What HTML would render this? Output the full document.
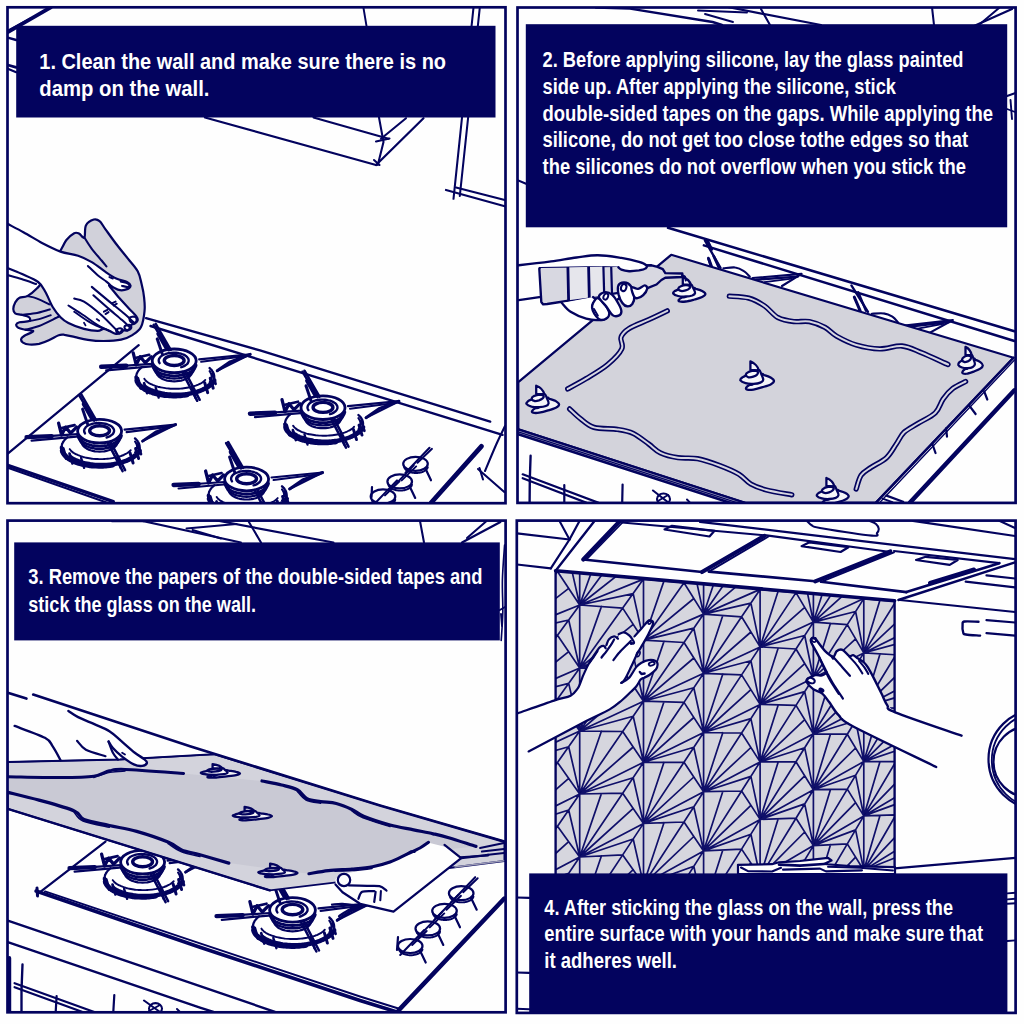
<!DOCTYPE html>
<html><head><meta charset="utf-8"><title>Glass splashback installation</title>
<style>
html,body{margin:0;padding:0;background:#fefefe;}
body{width:1024px;height:1024px;overflow:hidden;font-family:"Liberation Sans",sans-serif;}
svg{display:block;position:absolute;left:0;top:0;}
svg text{font-family:"Liberation Sans",sans-serif;font-weight:bold;font-size:21.6px;fill:#fff;stroke:none;}
</style></head><body>
<svg width="1024" height="1024" viewBox="0 0 1024 1024" fill="none" stroke="#03035e" stroke-width="1.3" stroke-linecap="round" stroke-linejoin="round">
<defs>
<clipPath id="c1"><rect x="7.5" y="7.3" width="498.0" height="495.9"/></clipPath>
<clipPath id="c2"><rect x="517.5" y="7.5" width="498.1" height="495.4"/></clipPath>
<clipPath id="c3"><rect x="7.5" y="520.6" width="498.1" height="491.69999999999993"/></clipPath>
<clipPath id="c4"><rect x="516.8" y="520.6" width="498.80000000000007" height="492.29999999999995"/></clipPath>
</defs>
<g>
<rect x="-5" y="-5" width="1034" height="1034" fill="#fefefe" stroke="none"/>
<g clip-path="url(#c1)">
<path d="M7.8 32.2 L50.8 7.3" fill="none" stroke="#03035e" stroke-width="3.85" />
<path d="M7.8 30.5 L30 18.5" fill="none" stroke="#03035e" stroke-width="1.92" />
<path d="M7.8 37.6 L16.2 40" fill="none" stroke="#03035e" stroke-width="2.37" />
<path d="M7.8 65 L16.2 67.4" fill="none" stroke="#03035e" stroke-width="2.66" />
<path d="M7.8 68.8 L16.2 72.3" fill="none" stroke="#03035e" stroke-width="2.07" />
<path d="M363.5 8 L366.5 26" fill="none" stroke="#03035e" stroke-width="1.92" />
<path d="M205 117.5 L376 165" fill="none" stroke="#03035e" stroke-width="2.22" />
<path d="M313.5 117.5 L388.5 138.8" fill="none" stroke="#03035e" stroke-width="2.07" />
<path d="M376 165 L423.5 118.2" fill="none" stroke="#03035e" stroke-width="2.22" />
<path d="M381 138.8 L406 118.2" fill="none" stroke="#03035e" stroke-width="2.07" />
<path d="M379 117.5 L383.5 142 L377.8 165" fill="none" stroke="#03035e" stroke-width="2.07" />
<path d="M376 141.5 L389.5 138.5" fill="none" stroke="#03035e" stroke-width="2.07" />
<path d="M374 160 L379.5 165" fill="none" stroke="#03035e" stroke-width="2.07" />
<path d="M473.5 7.5 L453.5 198.8" fill="none" stroke="#03035e" stroke-width="2.07" />
<path d="M479.8 7.5 L459.8 196" fill="none" stroke="#03035e" stroke-width="2.07" />
<path d="M446 190 L504.8 206.3" fill="none" stroke="#03035e" stroke-width="2.22" />
<path d="M456 187.5 L504.8 200" fill="none" stroke="#03035e" stroke-width="2.07" />
<path d="M7.8 453.6 L138.7 345.2" fill="none" stroke="#03035e" stroke-width="2.22" />
<path d="M7.8 465.4 L113.3 501.6" fill="none" stroke="#03035e" stroke-width="3.26" />
<path d="M7.8 467.8 L108 503" fill="none" stroke="#03035e" stroke-width="2.07" />
<path d="M146 318.2 L260 350.4 L490.2 421.6" fill="none" stroke="#03035e" stroke-width="2.37" />
<path d="M150.5 326 L502.5 434.8" fill="none" stroke="#03035e" stroke-width="2.37" />
<path d="M481.4 446.3 L431.3 502.5" fill="none" stroke="#03035e" stroke-width="4.74" />
<path d="M505 426 C503.5 429.2 499.3 437.5 496 445 C492.7 452.5 486.8 466.7 485 471" fill="none" stroke="#03035e" stroke-width="2.07" />
<path d="M479.5 468 L483 479.5" fill="none" stroke="#03035e" stroke-width="2.07" />
<path d="M478 469 L504.3 492" fill="none" stroke="#03035e" stroke-width="2.07" />
<path d="M212.9 381.6 C212.6 381.9 212 383 211.4 383.7 C210.8 384.3 210.2 385 209.4 385.7 C208.7 386.3 207.9 386.9 207 387.5 C206.1 388.1 205.1 388.7 204.1 389.2 C203.1 389.8 202 390.3 200.8 390.8 C199.6 391.2 198.4 391.7 197.1 392.1 C195.9 392.5 194.5 392.9 193.2 393.2 C191.8 393.6 190.4 393.9 189 394.1 C187.5 394.4 186 394.6 184.6 394.8 C183.1 394.9 181.5 395.1 180 395.2 C178.5 395.2 176.9 395.3 175.4 395.3 C173.9 395.3 172.3 395.3 170.8 395.2 C169.3 395.1 167.7 395 166.2 394.8 C164.7 394.6 163.3 394.4 161.8 394.2 C160.4 393.9 158.9 393.6 157.6 393.3 C156.2 393 154.9 392.6 153.6 392.2 C152.3 391.8 151.1 391.3 149.9 390.9 C148.7 390.4 147.6 389.9 146.6 389.4 C145.5 388.8 144.5 388.3 143.6 387.7 C142.7 387.1 141.9 386.5 141.1 385.8 C140.4 385.2 139.7 384.5 139.1 383.8 C138.6 383.2 138 382.5 137.6 381.8 C137.2 381.1 136.9 380.3 136.7 379.6 C136.4 378.9 136.3 377.8 136.2 377.4" fill="none" stroke="#03035e" stroke-width="3.85" />
<path d="M187.2 395.1 C186.7 395.2 185.4 395.4 184.5 395.5 C183.6 395.6 182.7 395.7 181.8 395.8 C180.9 395.9 179.9 396 179 396.1 C178.1 396.1 177.1 396.2 176.2 396.2 C175.3 396.2 174.3 396.2 173.4 396.2 C172.4 396.2 171.5 396.2 170.6 396.1 C169.6 396.1 168.7 396 167.8 395.9 C166.8 395.9 165.9 395.8 165 395.7 C164.1 395.6 163.2 395.4 162.3 395.3 C161.4 395.2 160.5 395 159.7 394.8 C158.8 394.7 157.9 394.5 157.1 394.3 C156.3 394.1 155.4 393.9 154.6 393.6 C153.8 393.4 153 393.2 152.3 392.9 C151.5 392.6 150.8 392.4 150 392.1 C149.3 391.8 148.6 391.5 147.9 391.2 C147.2 390.9 146.6 390.6 146 390.2 C145.3 389.9 144.7 389.6 144.2 389.2 C143.6 388.9 143 388.5 142.5 388.1 C142 387.8 141.5 387.4 141 387 C140.6 386.6 140.2 386.2 139.8 385.8 C139.4 385.4 139 385 138.7 384.6 C138.3 384.2 138 383.7 137.8 383.3 C137.5 382.9 137.3 382.5 137.1 382 C136.9 381.6 136.7 380.9 136.6 380.7" fill="none" stroke="#03035e" stroke-width="4.44" />
<path d="M214.6 380.3 C214.6 380.3 214.5 380.6 214.4 380.7 C214.3 380.9 214.3 381.1 214.2 381.2 C214.1 381.4 214 381.5 213.9 381.7 C213.8 381.9 213.7 382 213.6 382.2 C213.5 382.3 213.4 382.5 213.3 382.6 C213.2 382.8 213 383 212.9 383.1 C212.8 383.3 212.7 383.4 212.5 383.6 C212.4 383.7 212.2 383.9 212.1 384 C211.9 384.2 211.8 384.3 211.6 384.5 C211.5 384.6 211.3 384.8 211.2 384.9 C211 385.1 210.8 385.2 210.6 385.4 C210.5 385.5 210.3 385.7 210.1 385.8 C209.9 385.9 209.7 386.1 209.5 386.2 C209.3 386.4 209.2 386.5 208.9 386.6 C208.7 386.8 208.5 386.9 208.3 387.1 C208.1 387.2 207.9 387.3 207.7 387.5 C207.5 387.6 207.2 387.7 207 387.8 C206.8 388 206.5 388.1 206.3 388.2 C206.1 388.4 205.8 388.5 205.6 388.6 C205.3 388.7 205.1 388.8 204.8 389 C204.6 389.1 204.3 389.2 204.1 389.3 C203.8 389.4 203.5 389.6 203.3 389.7 C203 389.8 202.7 389.9 202.5 390 C202.2 390.1 201.8 390.3 201.6 390.3" fill="none" stroke="#03035e" stroke-width="3.85" />
<path d="M208.8 384.5 C208.6 384.7 207.9 385.4 207.3 385.8 C206.8 386.2 206.2 386.6 205.5 387 C204.9 387.4 204.2 387.8 203.5 388.2 C202.8 388.6 202.1 388.9 201.3 389.3 C200.5 389.6 199.7 390 198.8 390.3 C198 390.6 197.1 390.9 196.2 391.2 C195.3 391.4 194.4 391.7 193.4 391.9 C192.4 392.2 191.5 392.4 190.5 392.6 C189.5 392.8 188.4 392.9 187.4 393.1 C186.4 393.2 185.3 393.4 184.2 393.5 C183.2 393.6 182.1 393.7 181 393.8 C179.9 393.8 178.9 393.9 177.8 393.9 C176.7 393.9 175.6 393.9 174.5 393.9 C173.4 393.9 172.3 393.8 171.2 393.7 C170.2 393.7 169.1 393.6 168 393.5 C167 393.4 165.9 393.2 164.9 393.1 C163.8 392.9 162.8 392.7 161.8 392.5 C160.8 392.3 159.8 392.1 158.9 391.9 C157.9 391.7 157 391.4 156.1 391.1 C155.2 390.8 154.3 390.5 153.5 390.2 C152.6 389.9 151.8 389.6 151 389.3 C150.2 388.9 149.5 388.5 148.8 388.2 C148.1 387.8 147.4 387.4 146.8 387 C146.2 386.6 145.3 386 145 385.8" fill="none" stroke="#03035e" stroke-width="2.66" />
<path d="M205.3 379.9 C205.1 380.1 204.4 380.8 204 381.2 C203.5 381.7 202.9 382.1 202.3 382.5 C201.7 382.9 201.1 383.3 200.4 383.6 C199.7 384 198.9 384.4 198.2 384.7 C197.4 385 196.5 385.4 195.7 385.7 C194.8 386 193.9 386.3 193 386.5 C192 386.8 191.1 387 190.1 387.3 C189.1 387.5 188.1 387.7 187 387.8 C186 388 184.9 388.2 183.8 388.3 C182.7 388.4 181.6 388.5 180.5 388.6 C179.4 388.7 178.3 388.7 177.2 388.8 C176.1 388.8 174.9 388.8 173.8 388.8 C172.7 388.8 171.6 388.7 170.4 388.7 C169.3 388.6 168.2 388.5 167.1 388.4 C166.1 388.2 165 388.1 163.9 387.9 C162.9 387.8 161.8 387.6 160.8 387.4 C159.8 387.2 158.9 386.9 157.9 386.7 C157 386.4 156 386.1 155.2 385.8 C154.3 385.5 153.5 385.2 152.7 384.9 C151.9 384.5 151.1 384.2 150.4 383.8 C149.7 383.5 149 383.1 148.4 382.7 C147.8 382.3 147.2 381.9 146.7 381.4 C146.2 381 145.7 380.6 145.3 380.1 C144.9 379.7 144.5 379 144.3 378.8" fill="none" stroke="#03035e" stroke-width="1.92" />
<path d="M136.2 377.4 C136.2 377.4 136.2 377.1 136.2 377 C136.2 376.8 136.2 376.7 136.2 376.5 C136.2 376.4 136.2 376.2 136.2 376.1 C136.2 375.9 136.3 375.8 136.3 375.6 C136.3 375.5 136.3 375.3 136.4 375.2 C136.4 375 136.4 374.9 136.5 374.7 C136.5 374.6 136.5 374.4 136.6 374.3 C136.6 374.1 136.7 374 136.7 373.8 C136.8 373.6 136.8 373.5 136.9 373.3 C136.9 373.2 137 373.1 137.1 372.9 C137.1 372.8 137.2 372.6 137.3 372.5 C137.4 372.3 137.4 372.2 137.5 372 C137.6 371.9 137.7 371.7 137.8 371.6 C137.9 371.4 138 371.3 138.1 371.1 C138.2 371 138.3 370.8 138.4 370.7 C138.5 370.6 138.6 370.4 138.7 370.3 C138.8 370.1 138.9 370 139.1 369.8 C139.2 369.7 139.3 369.6 139.4 369.4 C139.6 369.3 139.7 369.1 139.8 369 C140 368.9 140.1 368.7 140.2 368.6 C140.4 368.5 140.5 368.3 140.7 368.2 C140.8 368.1 141 367.9 141.1 367.8 C141.3 367.7 141.5 367.5 141.6 367.4 C141.8 367.3 142 367.1 142.1 367" fill="none" stroke="#03035e" stroke-width="2.22" />
<path d="M209.6 368.1 C209.7 368.2 210 368.5 210.2 368.6 C210.4 368.8 210.5 369 210.7 369.2 C210.9 369.3 211 369.5 211.2 369.7 C211.4 369.9 211.5 370 211.7 370.2 C211.8 370.4 211.9 370.6 212.1 370.8 C212.2 370.9 212.3 371.1 212.4 371.3 C212.6 371.5 212.7 371.7 212.8 371.9 C212.9 372.1 213 372.2 213.1 372.4 C213.2 372.6 213.3 372.8 213.4 373 C213.4 373.2 213.5 373.4 213.6 373.6 C213.7 373.8 213.7 373.9 213.8 374.1 C213.9 374.3 213.9 374.5 213.9 374.7 C214 374.9 214 375.1 214.1 375.3 C214.1 375.5 214.1 375.7 214.1 375.9 C214.2 376.1 214.2 376.2 214.2 376.4 C214.2 376.6 214.2 376.8 214.2 377 C214.2 377.2 214.2 377.4 214.2 377.6 C214.1 377.8 214.1 378 214.1 378.2 C214.1 378.4 214 378.6 214 378.7 C213.9 378.9 213.9 379.1 213.8 379.3 C213.8 379.5 213.7 379.7 213.7 379.9 C213.6 380.1 213.5 380.3 213.4 380.5 C213.3 380.7 213.3 380.8 213.2 381 C213.1 381.2 212.9 381.5 212.9 381.6" fill="none" stroke="#03035e" stroke-width="2.37" />
<path d="M209.6 371.2 C209.6 371.2 209.8 371.5 209.9 371.6 C210 371.8 210.1 371.9 210.2 372.1 C210.3 372.2 210.4 372.4 210.5 372.5 C210.6 372.7 210.7 372.8 210.7 373 C210.8 373.2 210.9 373.3 211 373.5 C211 373.6 211.1 373.8 211.2 373.9 C211.2 374.1 211.3 374.3 211.3 374.4 C211.4 374.6 211.4 374.7 211.5 374.9 C211.5 375 211.5 375.2 211.6 375.4 C211.6 375.5 211.6 375.7 211.6 375.8 C211.7 376 211.7 376.2 211.7 376.3 C211.7 376.5 211.7 376.6 211.7 376.8 C211.7 377 211.7 377.1 211.7 377.3 C211.7 377.4 211.7 377.6 211.6 377.8 C211.6 377.9 211.6 378.1 211.6 378.2 C211.5 378.4 211.5 378.6 211.5 378.7 C211.4 378.9 211.4 379 211.3 379.2 C211.3 379.3 211.2 379.5 211.2 379.7 C211.1 379.8 211 380 211 380.1 C210.9 380.3 210.8 380.4 210.7 380.6 C210.7 380.8 210.6 380.9 210.5 381.1 C210.4 381.2 210.3 381.4 210.2 381.5 C210.1 381.7 210 381.8 209.9 382 C209.8 382.1 209.6 382.4 209.6 382.4" fill="none" stroke="#03035e" stroke-width="2.07" />
<path d="M137.8 378.2 L140.8 388.2" stroke-width="2.96"/>
<path d="M144.1 383.2 L147.1 393.2" stroke-width="2.66"/>
<path d="M155.7 387.6 L158.7 397.6" stroke-width="2.37"/>
<path d="M192.3 387.6 L195.3 397.6" stroke-width="2.37"/>
<path d="M204.7 382.7 L207.7 392.7" stroke-width="2.96"/>
<path d="M210.2 378.2 L213.2 388.2" stroke-width="2.96"/>
<path d="M212.6 373.9 L215.6 383.9" stroke-width="2.66"/>
<path d="M192.2 362.8 L192.2 371.3 L192.1 372.6 L191.6 373.9 L190.9 375.1 L189.8 376.3 L188.5 377.4 L187 378.4 L185.2 379.3 L183.2 380 L181.1 380.6 L178.9 381 L176.6 381.2 L174.2 381.3 L171.8 381.2 L169.5 381 L167.3 380.6 L165.2 380 L163.2 379.3 L161.4 378.4 L159.9 377.4 L158.6 376.3 L157.5 375.1 L156.8 373.9 L156.3 372.6 L156.2 371.3 L156.2 362.8" fill="#fff" stroke="#03035e" stroke-width="2.22" />
<path d="M194.6 368.3 C194.5 368.5 194.4 369.2 194.2 369.6 C194 370.1 193.8 370.5 193.5 371 C193.2 371.4 192.9 371.8 192.6 372.3 C192.2 372.7 191.8 373.1 191.3 373.5 C190.8 373.8 190.3 374.2 189.8 374.6 C189.2 374.9 188.6 375.3 188 375.6 C187.4 375.9 186.7 376.2 186.1 376.4 C185.4 376.7 184.7 376.9 183.9 377.2 C183.2 377.4 182.4 377.6 181.6 377.7 C180.8 377.9 180 378.1 179.2 378.2 C178.4 378.3 177.6 378.4 176.7 378.4 C175.9 378.5 175 378.5 174.2 378.5 C173.4 378.5 172.5 378.5 171.7 378.4 C170.8 378.4 170 378.3 169.2 378.2 C168.4 378.1 167.6 377.9 166.8 377.7 C166 377.6 165.2 377.4 164.5 377.2 C163.7 376.9 163 376.7 162.3 376.4 C161.7 376.2 161 375.9 160.4 375.6 C159.8 375.3 159.2 374.9 158.6 374.6 C158.1 374.2 157.6 373.8 157.1 373.5 C156.6 373.1 156.2 372.7 155.8 372.3 C155.5 371.8 155.2 371.4 154.9 371 C154.6 370.5 154.4 370.1 154.2 369.6 C154 369.2 153.9 368.5 153.8 368.3" fill="none" stroke="#03035e" stroke-width="2.37" />
<ellipse cx="174.2" cy="360.8" rx="22" ry="11.8" fill="#fff" stroke-width="2.81"/>
<path d="M196.1 365.2 C196 365.5 195.8 366.2 195.6 366.7 C195.4 367.1 195.2 367.6 194.9 368 C194.6 368.5 194.2 368.9 193.8 369.4 C193.4 369.8 192.9 370.2 192.4 370.6 C191.9 371 191.4 371.4 190.8 371.7 C190.2 372.1 189.6 372.4 188.9 372.8 C188.3 373.1 187.6 373.4 186.8 373.7 C186.1 373.9 185.3 374.2 184.5 374.4 C183.7 374.6 182.9 374.8 182.1 375 C181.2 375.2 180.4 375.3 179.5 375.4 C178.7 375.6 177.8 375.7 176.9 375.7 C176 375.8 175.1 375.8 174.2 375.8 C173.3 375.8 172.4 375.8 171.5 375.7 C170.6 375.7 169.7 375.6 168.9 375.4 C168 375.3 167.2 375.2 166.3 375 C165.5 374.8 164.7 374.6 163.9 374.4 C163.1 374.2 162.3 373.9 161.6 373.7 C160.8 373.4 160.1 373.1 159.5 372.8 C158.8 372.4 158.2 372.1 157.6 371.7 C157 371.4 156.5 371 156 370.6 C155.5 370.2 155 369.8 154.6 369.4 C154.2 368.9 153.8 368.5 153.5 368 C153.2 367.6 153 367.1 152.8 366.7 C152.6 366.2 152.4 365.5 152.3 365.2" fill="none" stroke="#03035e" stroke-width="2.81" />
<path d="M159.6 363.2 C159.5 362.9 159.1 362.2 158.9 361.7 C158.8 361.3 158.7 360.8 158.7 360.3 C158.8 359.8 158.9 359.3 159.1 358.8 C159.3 358.3 159.6 357.9 160 357.4 C160.3 357 160.8 356.5 161.3 356.1 C161.8 355.7 162.5 355.3 163.1 355 C163.8 354.6 164.5 354.3 165.3 354.1 C166.1 353.8 166.9 353.5 167.8 353.3 C168.6 353.2 169.5 353 170.5 352.9 C171.4 352.8 172.3 352.7 173.3 352.7 C174.2 352.7 175.2 352.7 176.1 352.8 C177 352.9 177.9 353 178.8 353.2 C179.7 353.3 180.6 353.6 181.4 353.8 C182.2 354.1 182.9 354.4 183.6 354.7 C184.3 355 185 355.4 185.6 355.8 C186.1 356.1 186.6 356.6 187.1 357 C187.5 357.4 187.8 357.9 188.1 358.4 C188.3 358.8 188.5 359.3 188.6 359.8 C188.7 360.3 188.7 360.8 188.6 361.3 C188.5 361.8 188.3 362.3 188 362.7 C187.8 363.2 187.4 363.7 187 364.1 C186.5 364.5 186 364.9 185.4 365.3 C184.9 365.7 184.2 366.1 183.5 366.4 C182.8 366.7 181.6 367.1 181.2 367.2" fill="none" stroke="#03035e" stroke-width="2.37" />
<ellipse cx="174.2" cy="360.5" rx="9.9" ry="5" fill="none" stroke-width="3.4"/>
<path d="M101.2 367.3 L152.2 363.8" fill="none" stroke="#03035e" stroke-width="2.22" />
<path d="M101.2 366.8 L126.2 365.8" fill="none" stroke="#03035e" stroke-width="4.44" />
<path d="M106.2 370.3 L151.2 366.3" fill="none" stroke="#03035e" stroke-width="2.22" />
<path d="M133.2 352.8 L136.2 364.8 L140.2 356.8 L145.2 362.8 L151.2 356.8" fill="none" stroke="#03035e" stroke-width="3.26" />
<path d="M136.2 357.8 L149.2 354.8" fill="none" stroke="#03035e" stroke-width="2.66" />
<path d="M199.2 359.3 L250.2 354.3 L217.2 370.8" fill="none" stroke="#03035e" stroke-width="2.22" />
<path d="M201.2 361.8 L244.2 356.3" fill="none" stroke="#03035e" stroke-width="2.07" />
<path d="M250.2 354.3 L230.2 361.8 L217.2 370.8" fill="none" stroke="#03035e" stroke-width="2.96" />
<path d="M153.7 324.8 L168.7 350.3" fill="none" stroke="#03035e" stroke-width="2.52" />
<path d="M155.7 323.8 L170.7 349.8" fill="none" stroke="#03035e" stroke-width="2.52" />
<path d="M157.2 338.8 L162.2 353.8" fill="none" stroke="#03035e" stroke-width="2.96" />
<path d="M158.2 333.8 L166.2 347.8" fill="none" stroke="#03035e" stroke-width="3.85" />
<path d="M182.2 371.8 L197.2 400.8" fill="none" stroke="#03035e" stroke-width="2.52" />
<path d="M185.2 371.8 L199.7 399.8" fill="none" stroke="#03035e" stroke-width="2.52" />
<path d="M361.7 428.5 C361.4 428.8 360.8 429.9 360.2 430.6 C359.6 431.2 359 431.9 358.2 432.6 C357.5 433.2 356.7 433.8 355.8 434.4 C354.9 435 353.9 435.6 352.9 436.1 C351.9 436.7 350.8 437.2 349.6 437.7 C348.4 438.1 347.2 438.6 345.9 439 C344.7 439.4 343.3 439.8 342 440.1 C340.6 440.5 339.2 440.8 337.8 441 C336.3 441.3 334.8 441.5 333.4 441.7 C331.9 441.8 330.3 442 328.8 442.1 C327.3 442.1 325.7 442.2 324.2 442.2 C322.7 442.2 321.1 442.2 319.6 442.1 C318.1 442 316.5 441.9 315 441.7 C313.5 441.5 312.1 441.3 310.6 441.1 C309.2 440.8 307.7 440.5 306.4 440.2 C305 439.9 303.7 439.5 302.4 439.1 C301.1 438.7 299.9 438.2 298.7 437.8 C297.5 437.3 296.4 436.8 295.4 436.3 C294.3 435.7 293.3 435.2 292.4 434.6 C291.5 434 290.7 433.4 289.9 432.7 C289.2 432.1 288.5 431.4 287.9 430.7 C287.4 430.1 286.8 429.4 286.4 428.7 C286 428 285.7 427.2 285.5 426.5 C285.2 425.8 285.1 424.7 285 424.3" fill="none" stroke="#03035e" stroke-width="3.85" />
<path d="M336 442 C335.5 442.1 334.2 442.3 333.3 442.4 C332.4 442.5 331.5 442.6 330.6 442.7 C329.7 442.8 328.7 442.9 327.8 443 C326.9 443 325.9 443.1 325 443.1 C324.1 443.1 323.1 443.1 322.2 443.1 C321.2 443.1 320.3 443.1 319.4 443 C318.4 443 317.5 442.9 316.6 442.8 C315.6 442.8 314.7 442.7 313.8 442.6 C312.9 442.5 312 442.3 311.1 442.2 C310.2 442.1 309.3 441.9 308.5 441.7 C307.6 441.6 306.7 441.4 305.9 441.2 C305.1 441 304.2 440.8 303.4 440.5 C302.6 440.3 301.8 440.1 301.1 439.8 C300.3 439.5 299.6 439.3 298.8 439 C298.1 438.7 297.4 438.4 296.7 438.1 C296 437.8 295.4 437.5 294.8 437.1 C294.1 436.8 293.5 436.5 293 436.1 C292.4 435.8 291.8 435.4 291.3 435 C290.8 434.7 290.3 434.3 289.8 433.9 C289.4 433.5 289 433.1 288.6 432.7 C288.2 432.3 287.8 431.9 287.5 431.5 C287.1 431.1 286.8 430.6 286.6 430.2 C286.3 429.8 286.1 429.4 285.9 428.9 C285.7 428.5 285.5 427.8 285.4 427.6" fill="none" stroke="#03035e" stroke-width="4.44" />
<path d="M363.4 427.2 C363.4 427.2 363.3 427.5 363.2 427.6 C363.1 427.8 363.1 428 363 428.1 C362.9 428.3 362.8 428.4 362.7 428.6 C362.6 428.8 362.5 428.9 362.4 429.1 C362.3 429.2 362.2 429.4 362.1 429.5 C362 429.7 361.8 429.9 361.7 430 C361.6 430.2 361.5 430.3 361.3 430.5 C361.2 430.6 361 430.8 360.9 430.9 C360.7 431.1 360.6 431.2 360.4 431.4 C360.3 431.5 360.1 431.7 360 431.8 C359.8 432 359.6 432.1 359.4 432.3 C359.3 432.4 359.1 432.6 358.9 432.7 C358.7 432.8 358.5 433 358.3 433.1 C358.1 433.3 358 433.4 357.7 433.5 C357.5 433.7 357.3 433.8 357.1 434 C356.9 434.1 356.7 434.2 356.5 434.4 C356.3 434.5 356 434.6 355.8 434.7 C355.6 434.9 355.3 435 355.1 435.1 C354.9 435.3 354.6 435.4 354.4 435.5 C354.1 435.6 353.9 435.7 353.6 435.9 C353.4 436 353.1 436.1 352.9 436.2 C352.6 436.3 352.3 436.5 352.1 436.6 C351.8 436.7 351.5 436.8 351.3 436.9 C351 437 350.6 437.2 350.4 437.2" fill="none" stroke="#03035e" stroke-width="3.85" />
<path d="M357.6 431.4 C357.4 431.6 356.7 432.3 356.1 432.7 C355.6 433.1 355 433.5 354.3 433.9 C353.7 434.3 353 434.7 352.3 435.1 C351.6 435.5 350.9 435.8 350.1 436.2 C349.3 436.5 348.5 436.9 347.6 437.2 C346.8 437.5 345.9 437.8 345 438.1 C344.1 438.3 343.2 438.6 342.2 438.8 C341.2 439.1 340.3 439.3 339.3 439.5 C338.3 439.7 337.2 439.8 336.2 440 C335.2 440.1 334.1 440.3 333 440.4 C332 440.5 330.9 440.6 329.8 440.7 C328.7 440.7 327.7 440.8 326.6 440.8 C325.5 440.8 324.4 440.8 323.3 440.8 C322.2 440.8 321.1 440.7 320 440.6 C319 440.6 317.9 440.5 316.8 440.4 C315.8 440.3 314.7 440.1 313.7 440 C312.6 439.8 311.6 439.6 310.6 439.4 C309.6 439.2 308.6 439 307.7 438.8 C306.7 438.6 305.8 438.3 304.9 438 C304 437.7 303.1 437.4 302.3 437.1 C301.4 436.8 300.6 436.5 299.8 436.2 C299 435.8 298.3 435.4 297.6 435.1 C296.9 434.7 296.2 434.3 295.6 433.9 C295 433.5 294.1 432.9 293.8 432.6" fill="none" stroke="#03035e" stroke-width="2.66" />
<path d="M354.1 426.8 C353.9 427 353.2 427.7 352.8 428.1 C352.3 428.6 351.7 429 351.1 429.4 C350.5 429.8 349.9 430.2 349.2 430.5 C348.5 430.9 347.7 431.3 347 431.6 C346.2 431.9 345.3 432.3 344.5 432.6 C343.6 432.9 342.7 433.2 341.8 433.4 C340.8 433.7 339.9 433.9 338.9 434.2 C337.9 434.4 336.9 434.6 335.8 434.7 C334.8 434.9 333.7 435.1 332.6 435.2 C331.5 435.3 330.4 435.4 329.3 435.5 C328.2 435.6 327.1 435.6 326 435.7 C324.9 435.7 323.7 435.7 322.6 435.7 C321.5 435.7 320.4 435.6 319.2 435.6 C318.1 435.5 317 435.4 315.9 435.3 C314.9 435.1 313.8 435 312.7 434.8 C311.7 434.7 310.6 434.5 309.6 434.3 C308.6 434.1 307.7 433.8 306.7 433.6 C305.8 433.3 304.8 433 304 432.7 C303.1 432.4 302.3 432.1 301.5 431.8 C300.7 431.4 299.9 431.1 299.2 430.7 C298.5 430.4 297.8 430 297.2 429.6 C296.6 429.2 296 428.8 295.5 428.3 C295 427.9 294.5 427.5 294.1 427 C293.7 426.6 293.3 425.9 293.1 425.7" fill="none" stroke="#03035e" stroke-width="1.92" />
<path d="M285 424.3 C285 424.3 285 424 285 423.9 C285 423.7 285 423.6 285 423.4 C285 423.3 285 423.1 285 423 C285 422.8 285.1 422.7 285.1 422.5 C285.1 422.4 285.1 422.2 285.2 422.1 C285.2 421.9 285.2 421.8 285.3 421.6 C285.3 421.5 285.3 421.3 285.4 421.2 C285.4 421 285.5 420.9 285.5 420.7 C285.6 420.5 285.6 420.4 285.7 420.2 C285.7 420.1 285.8 420 285.9 419.8 C285.9 419.7 286 419.5 286.1 419.4 C286.2 419.2 286.2 419.1 286.3 418.9 C286.4 418.8 286.5 418.6 286.6 418.5 C286.7 418.3 286.8 418.2 286.9 418 C287 417.9 287.1 417.7 287.2 417.6 C287.3 417.5 287.4 417.3 287.5 417.2 C287.6 417 287.7 416.9 287.9 416.7 C288 416.6 288.1 416.5 288.2 416.3 C288.4 416.2 288.5 416 288.6 415.9 C288.8 415.8 288.9 415.6 289 415.5 C289.2 415.4 289.3 415.2 289.5 415.1 C289.6 415 289.8 414.8 289.9 414.7 C290.1 414.6 290.3 414.4 290.4 414.3 C290.6 414.2 290.8 414 290.9 413.9" fill="none" stroke="#03035e" stroke-width="2.22" />
<path d="M358.4 415 C358.5 415.1 358.8 415.4 359 415.5 C359.2 415.7 359.3 415.9 359.5 416.1 C359.7 416.2 359.8 416.4 360 416.6 C360.2 416.8 360.3 416.9 360.5 417.1 C360.6 417.3 360.7 417.5 360.9 417.7 C361 417.8 361.1 418 361.2 418.2 C361.4 418.4 361.5 418.6 361.6 418.8 C361.7 419 361.8 419.1 361.9 419.3 C362 419.5 362.1 419.7 362.2 419.9 C362.2 420.1 362.3 420.3 362.4 420.5 C362.5 420.7 362.5 420.8 362.6 421 C362.7 421.2 362.7 421.4 362.7 421.6 C362.8 421.8 362.8 422 362.9 422.2 C362.9 422.4 362.9 422.6 362.9 422.8 C363 423 363 423.1 363 423.3 C363 423.5 363 423.7 363 423.9 C363 424.1 363 424.3 363 424.5 C362.9 424.7 362.9 424.9 362.9 425.1 C362.9 425.3 362.8 425.5 362.8 425.6 C362.7 425.8 362.7 426 362.6 426.2 C362.6 426.4 362.5 426.6 362.5 426.8 C362.4 427 362.3 427.2 362.2 427.4 C362.1 427.6 362.1 427.7 362 427.9 C361.9 428.1 361.7 428.4 361.7 428.5" fill="none" stroke="#03035e" stroke-width="2.37" />
<path d="M358.4 418.1 C358.4 418.1 358.6 418.4 358.7 418.5 C358.8 418.7 358.9 418.8 359 419 C359.1 419.1 359.2 419.3 359.3 419.4 C359.4 419.6 359.5 419.7 359.5 419.9 C359.6 420.1 359.7 420.2 359.8 420.4 C359.8 420.5 359.9 420.7 360 420.8 C360 421 360.1 421.2 360.1 421.3 C360.2 421.5 360.2 421.6 360.3 421.8 C360.3 421.9 360.3 422.1 360.4 422.3 C360.4 422.4 360.4 422.6 360.4 422.7 C360.5 422.9 360.5 423.1 360.5 423.2 C360.5 423.4 360.5 423.5 360.5 423.7 C360.5 423.9 360.5 424 360.5 424.2 C360.5 424.3 360.5 424.5 360.4 424.7 C360.4 424.8 360.4 425 360.4 425.1 C360.3 425.3 360.3 425.5 360.3 425.6 C360.2 425.8 360.2 425.9 360.1 426.1 C360.1 426.2 360 426.4 360 426.6 C359.9 426.7 359.8 426.9 359.8 427 C359.7 427.2 359.6 427.3 359.5 427.5 C359.5 427.7 359.4 427.8 359.3 428 C359.2 428.1 359.1 428.3 359 428.4 C358.9 428.6 358.8 428.7 358.7 428.9 C358.6 429 358.4 429.3 358.4 429.3" fill="none" stroke="#03035e" stroke-width="2.07" />
<path d="M286.6 425.1 L289.6 435.1" stroke-width="2.96"/>
<path d="M292.9 430.1 L295.9 440.1" stroke-width="2.66"/>
<path d="M304.5 434.5 L307.5 444.5" stroke-width="2.37"/>
<path d="M341.1 434.5 L344.1 444.5" stroke-width="2.37"/>
<path d="M353.5 429.6 L356.5 439.6" stroke-width="2.96"/>
<path d="M359 425.1 L362 435.1" stroke-width="2.96"/>
<path d="M361.4 420.8 L364.4 430.8" stroke-width="2.66"/>
<path d="M341 409.7 L341 418.2 L340.9 419.5 L340.4 420.8 L339.7 422 L338.6 423.2 L337.3 424.3 L335.8 425.3 L334 426.2 L332 426.9 L329.9 427.5 L327.7 427.9 L325.4 428.1 L323 428.2 L320.6 428.1 L318.3 427.9 L316.1 427.5 L314 426.9 L312 426.2 L310.2 425.3 L308.7 424.3 L307.4 423.2 L306.3 422 L305.6 420.8 L305.1 419.5 L305 418.2 L305 409.7" fill="#fff" stroke="#03035e" stroke-width="2.22" />
<path d="M343.4 415.2 C343.3 415.4 343.2 416.1 343 416.5 C342.8 417 342.6 417.4 342.3 417.9 C342 418.3 341.7 418.7 341.4 419.2 C341 419.6 340.6 420 340.1 420.4 C339.6 420.7 339.1 421.1 338.6 421.5 C338 421.8 337.4 422.2 336.8 422.5 C336.2 422.8 335.5 423.1 334.9 423.3 C334.2 423.6 333.5 423.8 332.7 424.1 C332 424.3 331.2 424.5 330.4 424.6 C329.6 424.8 328.8 425 328 425.1 C327.2 425.2 326.4 425.3 325.5 425.3 C324.7 425.4 323.8 425.4 323 425.4 C322.2 425.4 321.3 425.4 320.5 425.3 C319.6 425.3 318.8 425.2 318 425.1 C317.2 425 316.4 424.8 315.6 424.6 C314.8 424.5 314 424.3 313.3 424.1 C312.5 423.8 311.8 423.6 311.1 423.3 C310.5 423.1 309.8 422.8 309.2 422.5 C308.6 422.2 308 421.8 307.4 421.5 C306.9 421.1 306.4 420.7 305.9 420.4 C305.4 420 305 419.6 304.6 419.2 C304.3 418.7 304 418.3 303.7 417.9 C303.4 417.4 303.2 417 303 416.5 C302.8 416.1 302.7 415.4 302.6 415.2" fill="none" stroke="#03035e" stroke-width="2.37" />
<ellipse cx="323" cy="407.7" rx="22" ry="11.8" fill="#fff" stroke-width="2.81"/>
<path d="M344.9 412.1 C344.8 412.4 344.6 413.1 344.4 413.6 C344.2 414 344 414.5 343.7 414.9 C343.4 415.4 343 415.8 342.6 416.3 C342.2 416.7 341.7 417.1 341.2 417.5 C340.7 417.9 340.2 418.3 339.6 418.6 C339 419 338.4 419.3 337.7 419.7 C337.1 420 336.4 420.3 335.6 420.6 C334.9 420.8 334.1 421.1 333.3 421.3 C332.5 421.5 331.7 421.7 330.9 421.9 C330 422.1 329.2 422.2 328.3 422.3 C327.5 422.5 326.6 422.6 325.7 422.6 C324.8 422.7 323.9 422.7 323 422.7 C322.1 422.7 321.2 422.7 320.3 422.6 C319.4 422.6 318.5 422.5 317.7 422.3 C316.8 422.2 316 422.1 315.1 421.9 C314.3 421.7 313.5 421.5 312.7 421.3 C311.9 421.1 311.1 420.8 310.4 420.6 C309.6 420.3 308.9 420 308.3 419.7 C307.6 419.3 307 419 306.4 418.6 C305.8 418.3 305.3 417.9 304.8 417.5 C304.3 417.1 303.8 416.7 303.4 416.3 C303 415.8 302.6 415.4 302.3 414.9 C302 414.5 301.8 414 301.6 413.6 C301.4 413.1 301.2 412.4 301.1 412.1" fill="none" stroke="#03035e" stroke-width="2.81" />
<path d="M308.4 410.1 C308.3 409.8 307.9 409.1 307.7 408.6 C307.6 408.2 307.5 407.7 307.5 407.2 C307.6 406.7 307.7 406.2 307.9 405.7 C308.1 405.2 308.4 404.8 308.8 404.3 C309.1 403.9 309.6 403.4 310.1 403 C310.6 402.6 311.3 402.2 311.9 401.9 C312.6 401.5 313.3 401.2 314.1 401 C314.9 400.7 315.7 400.4 316.6 400.2 C317.4 400.1 318.3 399.9 319.3 399.8 C320.2 399.7 321.1 399.6 322.1 399.6 C323 399.6 324 399.6 324.9 399.7 C325.8 399.8 326.7 399.9 327.6 400.1 C328.5 400.2 329.4 400.5 330.2 400.7 C331 401 331.7 401.3 332.4 401.6 C333.1 401.9 333.8 402.3 334.4 402.7 C334.9 403 335.4 403.5 335.9 403.9 C336.3 404.3 336.6 404.8 336.9 405.3 C337.1 405.7 337.3 406.2 337.4 406.7 C337.5 407.2 337.5 407.7 337.4 408.2 C337.3 408.7 337.1 409.2 336.8 409.6 C336.6 410.1 336.2 410.6 335.8 411 C335.3 411.4 334.8 411.8 334.2 412.2 C333.7 412.6 333 413 332.3 413.3 C331.6 413.6 330.4 414 330 414.1" fill="none" stroke="#03035e" stroke-width="2.37" />
<ellipse cx="323" cy="407.4" rx="9.9" ry="5" fill="none" stroke-width="3.4"/>
<path d="M250 414.2 L301 410.7" fill="none" stroke="#03035e" stroke-width="2.22" />
<path d="M250 413.7 L275 412.7" fill="none" stroke="#03035e" stroke-width="4.44" />
<path d="M255 417.2 L300 413.2" fill="none" stroke="#03035e" stroke-width="2.22" />
<path d="M282 399.7 L285 411.7 L289 403.7 L294 409.7 L300 403.7" fill="none" stroke="#03035e" stroke-width="3.26" />
<path d="M285 404.7 L298 401.7" fill="none" stroke="#03035e" stroke-width="2.66" />
<path d="M348 406.2 L399 401.2 L366 417.7" fill="none" stroke="#03035e" stroke-width="2.22" />
<path d="M350 408.7 L393 403.2" fill="none" stroke="#03035e" stroke-width="2.07" />
<path d="M399 401.2 L379 408.7 L366 417.7" fill="none" stroke="#03035e" stroke-width="2.96" />
<path d="M302.5 371.7 L317.5 397.2" fill="none" stroke="#03035e" stroke-width="2.52" />
<path d="M304.5 370.7 L319.5 396.7" fill="none" stroke="#03035e" stroke-width="2.52" />
<path d="M306 385.7 L311 400.7" fill="none" stroke="#03035e" stroke-width="2.96" />
<path d="M307 380.7 L315 394.7" fill="none" stroke="#03035e" stroke-width="3.85" />
<path d="M331 418.7 L346 447.7" fill="none" stroke="#03035e" stroke-width="2.52" />
<path d="M334 418.7 L348.5 446.7" fill="none" stroke="#03035e" stroke-width="2.52" />
<path d="M138.3 451.9 C138 452.2 137.4 453.3 136.8 454 C136.2 454.6 135.6 455.3 134.8 456 C134.1 456.6 133.3 457.2 132.4 457.8 C131.5 458.4 130.5 459 129.5 459.5 C128.5 460.1 127.4 460.6 126.2 461.1 C125 461.5 123.8 462 122.5 462.4 C121.3 462.8 119.9 463.2 118.6 463.5 C117.2 463.9 115.8 464.2 114.4 464.4 C112.9 464.7 111.4 464.9 110 465.1 C108.5 465.2 106.9 465.4 105.4 465.5 C103.9 465.5 102.3 465.6 100.8 465.6 C99.3 465.6 97.7 465.6 96.2 465.5 C94.7 465.4 93.1 465.3 91.6 465.1 C90.1 464.9 88.7 464.7 87.2 464.5 C85.8 464.2 84.3 463.9 83 463.6 C81.6 463.3 80.3 462.9 79 462.5 C77.7 462.1 76.5 461.6 75.3 461.2 C74.1 460.7 73 460.2 72 459.7 C70.9 459.1 69.9 458.6 69 458 C68.1 457.4 67.3 456.8 66.5 456.1 C65.8 455.5 65.1 454.8 64.5 454.1 C64 453.5 63.4 452.8 63 452.1 C62.6 451.4 62.3 450.6 62.1 449.9 C61.8 449.2 61.7 448.1 61.6 447.7" fill="none" stroke="#03035e" stroke-width="3.85" />
<path d="M112.6 465.4 C112.1 465.5 110.8 465.7 109.9 465.8 C109 465.9 108.1 466 107.2 466.1 C106.3 466.2 105.3 466.3 104.4 466.4 C103.5 466.4 102.5 466.5 101.6 466.5 C100.7 466.5 99.7 466.5 98.8 466.5 C97.8 466.5 96.9 466.5 96 466.4 C95 466.4 94.1 466.3 93.2 466.2 C92.2 466.2 91.3 466.1 90.4 466 C89.5 465.9 88.6 465.7 87.7 465.6 C86.8 465.5 85.9 465.3 85.1 465.1 C84.2 465 83.3 464.8 82.5 464.6 C81.7 464.4 80.8 464.2 80 463.9 C79.2 463.7 78.4 463.5 77.7 463.2 C76.9 462.9 76.2 462.7 75.4 462.4 C74.7 462.1 74 461.8 73.3 461.5 C72.6 461.2 72 460.9 71.4 460.5 C70.7 460.2 70.1 459.9 69.6 459.5 C69 459.2 68.4 458.8 67.9 458.4 C67.4 458.1 66.9 457.7 66.4 457.3 C66 456.9 65.6 456.5 65.2 456.1 C64.8 455.7 64.4 455.3 64.1 454.9 C63.7 454.5 63.4 454 63.2 453.6 C62.9 453.2 62.7 452.8 62.5 452.3 C62.3 451.9 62.1 451.2 62 451" fill="none" stroke="#03035e" stroke-width="4.44" />
<path d="M140 450.6 C140 450.6 139.9 450.9 139.8 451 C139.7 451.2 139.7 451.4 139.6 451.5 C139.5 451.7 139.4 451.8 139.3 452 C139.2 452.2 139.1 452.3 139 452.5 C138.9 452.6 138.8 452.8 138.7 452.9 C138.6 453.1 138.4 453.3 138.3 453.4 C138.2 453.6 138.1 453.7 137.9 453.9 C137.8 454 137.6 454.2 137.5 454.3 C137.3 454.5 137.2 454.6 137 454.8 C136.9 454.9 136.7 455.1 136.6 455.2 C136.4 455.4 136.2 455.5 136 455.7 C135.9 455.8 135.7 456 135.5 456.1 C135.3 456.2 135.1 456.4 134.9 456.5 C134.7 456.7 134.6 456.8 134.3 456.9 C134.1 457.1 133.9 457.2 133.7 457.4 C133.5 457.5 133.3 457.6 133.1 457.8 C132.9 457.9 132.6 458 132.4 458.1 C132.2 458.3 131.9 458.4 131.7 458.5 C131.5 458.7 131.2 458.8 131 458.9 C130.7 459 130.5 459.1 130.2 459.3 C130 459.4 129.7 459.5 129.5 459.6 C129.2 459.7 128.9 459.9 128.7 460 C128.4 460.1 128.1 460.2 127.9 460.3 C127.6 460.4 127.2 460.6 127 460.6" fill="none" stroke="#03035e" stroke-width="3.85" />
<path d="M134.2 454.8 C134 455 133.3 455.7 132.7 456.1 C132.2 456.5 131.6 456.9 130.9 457.3 C130.3 457.7 129.6 458.1 128.9 458.5 C128.2 458.9 127.5 459.2 126.7 459.6 C125.9 459.9 125.1 460.3 124.2 460.6 C123.4 460.9 122.5 461.2 121.6 461.5 C120.7 461.7 119.8 462 118.8 462.2 C117.8 462.5 116.9 462.7 115.9 462.9 C114.9 463.1 113.8 463.2 112.8 463.4 C111.8 463.5 110.7 463.7 109.6 463.8 C108.6 463.9 107.5 464 106.4 464.1 C105.3 464.1 104.3 464.2 103.2 464.2 C102.1 464.2 101 464.2 99.9 464.2 C98.8 464.2 97.7 464.1 96.6 464 C95.6 464 94.5 463.9 93.4 463.8 C92.4 463.7 91.3 463.5 90.3 463.4 C89.2 463.2 88.2 463 87.2 462.8 C86.2 462.6 85.2 462.4 84.3 462.2 C83.3 462 82.4 461.7 81.5 461.4 C80.6 461.1 79.7 460.8 78.9 460.5 C78 460.2 77.2 459.9 76.4 459.6 C75.6 459.2 74.9 458.8 74.2 458.5 C73.5 458.1 72.8 457.7 72.2 457.3 C71.6 456.9 70.7 456.3 70.4 456.1" fill="none" stroke="#03035e" stroke-width="2.66" />
<path d="M130.7 450.2 C130.5 450.4 129.8 451.1 129.4 451.5 C128.9 452 128.3 452.4 127.7 452.8 C127.1 453.2 126.5 453.6 125.8 453.9 C125.1 454.3 124.3 454.7 123.6 455 C122.8 455.3 121.9 455.7 121.1 456 C120.2 456.3 119.3 456.6 118.4 456.8 C117.4 457.1 116.5 457.3 115.5 457.6 C114.5 457.8 113.5 458 112.4 458.1 C111.4 458.3 110.3 458.5 109.2 458.6 C108.1 458.7 107 458.8 105.9 458.9 C104.8 459 103.7 459 102.6 459.1 C101.5 459.1 100.3 459.1 99.2 459.1 C98.1 459.1 97 459 95.8 459 C94.7 458.9 93.6 458.8 92.5 458.7 C91.5 458.5 90.4 458.4 89.3 458.2 C88.3 458.1 87.2 457.9 86.2 457.7 C85.2 457.5 84.3 457.2 83.3 457 C82.4 456.7 81.4 456.4 80.6 456.1 C79.7 455.8 78.9 455.5 78.1 455.2 C77.3 454.8 76.5 454.5 75.8 454.1 C75.1 453.8 74.4 453.4 73.8 453 C73.2 452.6 72.6 452.2 72.1 451.7 C71.6 451.3 71.1 450.9 70.7 450.4 C70.3 450 69.9 449.3 69.7 449.1" fill="none" stroke="#03035e" stroke-width="1.92" />
<path d="M61.6 447.7 C61.6 447.7 61.6 447.4 61.6 447.3 C61.6 447.1 61.6 447 61.6 446.8 C61.6 446.7 61.6 446.5 61.6 446.4 C61.6 446.2 61.7 446.1 61.7 445.9 C61.7 445.8 61.7 445.6 61.8 445.5 C61.8 445.3 61.8 445.2 61.9 445 C61.9 444.9 61.9 444.7 62 444.6 C62 444.4 62.1 444.3 62.1 444.1 C62.2 443.9 62.2 443.8 62.3 443.6 C62.3 443.5 62.4 443.4 62.5 443.2 C62.5 443.1 62.6 442.9 62.7 442.8 C62.8 442.6 62.8 442.5 62.9 442.3 C63 442.2 63.1 442 63.2 441.9 C63.3 441.7 63.4 441.6 63.5 441.4 C63.6 441.3 63.7 441.1 63.8 441 C63.9 440.9 64 440.7 64.1 440.6 C64.2 440.4 64.3 440.3 64.5 440.1 C64.6 440 64.7 439.9 64.8 439.7 C65 439.6 65.1 439.4 65.2 439.3 C65.4 439.2 65.5 439 65.6 438.9 C65.8 438.8 65.9 438.6 66.1 438.5 C66.2 438.4 66.4 438.2 66.5 438.1 C66.7 438 66.9 437.8 67 437.7 C67.2 437.6 67.4 437.4 67.5 437.3" fill="none" stroke="#03035e" stroke-width="2.22" />
<path d="M135 438.4 C135.1 438.5 135.4 438.8 135.6 438.9 C135.8 439.1 135.9 439.3 136.1 439.5 C136.3 439.6 136.4 439.8 136.6 440 C136.8 440.2 136.9 440.3 137.1 440.5 C137.2 440.7 137.3 440.9 137.5 441.1 C137.6 441.2 137.7 441.4 137.8 441.6 C138 441.8 138.1 442 138.2 442.2 C138.3 442.4 138.4 442.5 138.5 442.7 C138.6 442.9 138.7 443.1 138.8 443.3 C138.8 443.5 138.9 443.7 139 443.9 C139.1 444.1 139.1 444.2 139.2 444.4 C139.3 444.6 139.3 444.8 139.3 445 C139.4 445.2 139.4 445.4 139.5 445.6 C139.5 445.8 139.5 446 139.5 446.2 C139.6 446.4 139.6 446.5 139.6 446.7 C139.6 446.9 139.6 447.1 139.6 447.3 C139.6 447.5 139.6 447.7 139.6 447.9 C139.5 448.1 139.5 448.3 139.5 448.5 C139.5 448.7 139.4 448.9 139.4 449 C139.3 449.2 139.3 449.4 139.2 449.6 C139.2 449.8 139.1 450 139.1 450.2 C139 450.4 138.9 450.6 138.8 450.8 C138.7 451 138.7 451.1 138.6 451.3 C138.5 451.5 138.3 451.8 138.3 451.9" fill="none" stroke="#03035e" stroke-width="2.37" />
<path d="M135 441.5 C135 441.5 135.2 441.8 135.3 441.9 C135.4 442.1 135.5 442.2 135.6 442.4 C135.7 442.5 135.8 442.7 135.9 442.8 C136 443 136.1 443.1 136.1 443.3 C136.2 443.5 136.3 443.6 136.4 443.8 C136.4 443.9 136.5 444.1 136.6 444.2 C136.6 444.4 136.7 444.6 136.7 444.7 C136.8 444.9 136.8 445 136.9 445.2 C136.9 445.3 136.9 445.5 137 445.7 C137 445.8 137 446 137 446.1 C137.1 446.3 137.1 446.5 137.1 446.6 C137.1 446.8 137.1 446.9 137.1 447.1 C137.1 447.3 137.1 447.4 137.1 447.6 C137.1 447.7 137.1 447.9 137 448.1 C137 448.2 137 448.4 137 448.5 C136.9 448.7 136.9 448.9 136.9 449 C136.8 449.2 136.8 449.3 136.7 449.5 C136.7 449.6 136.6 449.8 136.6 450 C136.5 450.1 136.4 450.3 136.4 450.4 C136.3 450.6 136.2 450.7 136.1 450.9 C136.1 451.1 136 451.2 135.9 451.4 C135.8 451.5 135.7 451.7 135.6 451.8 C135.5 452 135.4 452.1 135.3 452.3 C135.2 452.4 135 452.7 135 452.7" fill="none" stroke="#03035e" stroke-width="2.07" />
<path d="M63.2 448.5 L66.2 458.5" stroke-width="2.96"/>
<path d="M69.5 453.5 L72.5 463.5" stroke-width="2.66"/>
<path d="M81.1 457.9 L84.1 467.9" stroke-width="2.37"/>
<path d="M117.7 457.9 L120.7 467.9" stroke-width="2.37"/>
<path d="M130.1 453 L133.1 463" stroke-width="2.96"/>
<path d="M135.6 448.5 L138.6 458.5" stroke-width="2.96"/>
<path d="M138 444.2 L141 454.2" stroke-width="2.66"/>
<path d="M117.6 433.1 L117.6 441.6 L117.5 442.9 L117 444.2 L116.3 445.4 L115.2 446.6 L113.9 447.7 L112.4 448.7 L110.6 449.6 L108.6 450.3 L106.5 450.9 L104.3 451.3 L102 451.5 L99.6 451.6 L97.2 451.5 L94.9 451.3 L92.7 450.9 L90.6 450.3 L88.6 449.6 L86.8 448.7 L85.3 447.7 L84 446.6 L82.9 445.4 L82.2 444.2 L81.7 442.9 L81.6 441.6 L81.6 433.1" fill="#fff" stroke="#03035e" stroke-width="2.22" />
<path d="M120 438.6 C119.9 438.8 119.8 439.5 119.6 439.9 C119.4 440.4 119.2 440.8 118.9 441.3 C118.6 441.7 118.3 442.1 118 442.6 C117.6 443 117.2 443.4 116.7 443.8 C116.2 444.1 115.7 444.5 115.2 444.9 C114.6 445.2 114 445.6 113.4 445.9 C112.8 446.2 112.1 446.5 111.5 446.7 C110.8 447 110.1 447.2 109.3 447.5 C108.6 447.7 107.8 447.9 107 448 C106.2 448.2 105.4 448.4 104.6 448.5 C103.8 448.6 103 448.7 102.1 448.7 C101.3 448.8 100.4 448.8 99.6 448.8 C98.8 448.8 97.9 448.8 97.1 448.7 C96.2 448.7 95.4 448.6 94.6 448.5 C93.8 448.4 93 448.2 92.2 448 C91.4 447.9 90.6 447.7 89.9 447.5 C89.1 447.2 88.4 447 87.7 446.7 C87.1 446.5 86.4 446.2 85.8 445.9 C85.2 445.6 84.6 445.2 84 444.9 C83.5 444.5 83 444.1 82.5 443.8 C82 443.4 81.6 443 81.2 442.6 C80.9 442.1 80.6 441.7 80.3 441.3 C80 440.8 79.8 440.4 79.6 439.9 C79.4 439.5 79.3 438.8 79.2 438.6" fill="none" stroke="#03035e" stroke-width="2.37" />
<ellipse cx="99.6" cy="431.1" rx="22" ry="11.8" fill="#fff" stroke-width="2.81"/>
<path d="M121.5 435.5 C121.4 435.8 121.2 436.5 121 437 C120.8 437.4 120.6 437.9 120.3 438.3 C120 438.8 119.6 439.2 119.2 439.7 C118.8 440.1 118.3 440.5 117.8 440.9 C117.3 441.3 116.8 441.7 116.2 442 C115.6 442.4 115 442.7 114.3 443.1 C113.7 443.4 113 443.7 112.2 444 C111.5 444.2 110.7 444.5 109.9 444.7 C109.1 444.9 108.3 445.1 107.5 445.3 C106.6 445.5 105.8 445.6 104.9 445.7 C104.1 445.9 103.2 446 102.3 446 C101.4 446.1 100.5 446.1 99.6 446.1 C98.7 446.1 97.8 446.1 96.9 446 C96 446 95.1 445.9 94.3 445.7 C93.4 445.6 92.6 445.5 91.7 445.3 C90.9 445.1 90.1 444.9 89.3 444.7 C88.5 444.5 87.7 444.2 87 444 C86.2 443.7 85.5 443.4 84.9 443.1 C84.2 442.7 83.6 442.4 83 442 C82.4 441.7 81.9 441.3 81.4 440.9 C80.9 440.5 80.4 440.1 80 439.7 C79.6 439.2 79.2 438.8 78.9 438.3 C78.6 437.9 78.4 437.4 78.2 437 C78 436.5 77.8 435.8 77.7 435.5" fill="none" stroke="#03035e" stroke-width="2.81" />
<path d="M85 433.5 C84.9 433.2 84.5 432.5 84.3 432 C84.2 431.6 84.1 431.1 84.1 430.6 C84.2 430.1 84.3 429.6 84.5 429.1 C84.7 428.6 85 428.2 85.4 427.7 C85.7 427.3 86.2 426.8 86.7 426.4 C87.2 426 87.9 425.6 88.5 425.3 C89.2 424.9 89.9 424.6 90.7 424.4 C91.5 424.1 92.3 423.8 93.2 423.6 C94 423.5 94.9 423.3 95.9 423.2 C96.8 423.1 97.7 423 98.7 423 C99.6 423 100.6 423 101.5 423.1 C102.4 423.2 103.3 423.3 104.2 423.5 C105.1 423.6 106 423.9 106.8 424.1 C107.6 424.4 108.3 424.7 109 425 C109.7 425.3 110.4 425.7 111 426.1 C111.5 426.4 112 426.9 112.5 427.3 C112.9 427.7 113.2 428.2 113.5 428.7 C113.7 429.1 113.9 429.6 114 430.1 C114.1 430.6 114.1 431.1 114 431.6 C113.9 432.1 113.7 432.6 113.4 433 C113.2 433.5 112.8 434 112.4 434.4 C111.9 434.8 111.4 435.2 110.8 435.6 C110.3 436 109.6 436.4 108.9 436.7 C108.2 437 107 437.4 106.6 437.5" fill="none" stroke="#03035e" stroke-width="2.37" />
<ellipse cx="99.6" cy="430.8" rx="9.9" ry="5" fill="none" stroke-width="3.4"/>
<path d="M26.6 437.6 L77.6 434.1" fill="none" stroke="#03035e" stroke-width="2.22" />
<path d="M26.6 437.1 L51.6 436.1" fill="none" stroke="#03035e" stroke-width="4.44" />
<path d="M31.6 440.6 L76.6 436.6" fill="none" stroke="#03035e" stroke-width="2.22" />
<path d="M58.6 423.1 L61.6 435.1 L65.6 427.1 L70.6 433.1 L76.6 427.1" fill="none" stroke="#03035e" stroke-width="3.26" />
<path d="M61.6 428.1 L74.6 425.1" fill="none" stroke="#03035e" stroke-width="2.66" />
<path d="M124.6 429.6 L175.6 424.6 L142.6 441.1" fill="none" stroke="#03035e" stroke-width="2.22" />
<path d="M126.6 432.1 L169.6 426.6" fill="none" stroke="#03035e" stroke-width="2.07" />
<path d="M175.6 424.6 L155.6 432.1 L142.6 441.1" fill="none" stroke="#03035e" stroke-width="2.96" />
<path d="M79.1 395.1 L94.1 420.6" fill="none" stroke="#03035e" stroke-width="2.52" />
<path d="M81.1 394.1 L96.1 420.1" fill="none" stroke="#03035e" stroke-width="2.52" />
<path d="M82.6 409.1 L87.6 424.1" fill="none" stroke="#03035e" stroke-width="2.96" />
<path d="M83.6 404.1 L91.6 418.1" fill="none" stroke="#03035e" stroke-width="3.85" />
<path d="M107.6 442.1 L122.6 471.1" fill="none" stroke="#03035e" stroke-width="2.52" />
<path d="M110.6 442.1 L125.1 470.1" fill="none" stroke="#03035e" stroke-width="2.52" />
<path d="M285.3 499.8 C285 500.1 284.4 501.2 283.8 501.9 C283.2 502.5 282.6 503.2 281.8 503.9 C281.1 504.5 280.3 505.1 279.4 505.7 C278.5 506.3 277.5 506.9 276.5 507.4 C275.5 508 274.4 508.5 273.2 509 C272 509.4 270.8 509.9 269.5 510.3 C268.3 510.7 266.9 511.1 265.6 511.4 C264.2 511.8 262.8 512.1 261.4 512.3 C259.9 512.6 258.4 512.8 257 513 C255.5 513.1 253.9 513.3 252.4 513.4 C250.9 513.4 249.3 513.5 247.8 513.5 C246.3 513.5 244.7 513.5 243.2 513.4 C241.7 513.3 240.1 513.2 238.6 513 C237.1 512.8 235.7 512.6 234.2 512.4 C232.8 512.1 231.3 511.8 230 511.5 C228.6 511.2 227.3 510.8 226 510.4 C224.7 510 223.5 509.5 222.3 509.1 C221.1 508.6 220 508.1 219 507.6 C217.9 507 216.9 506.5 216 505.9 C215.1 505.3 214.3 504.7 213.5 504 C212.8 503.4 212.1 502.7 211.5 502 C211 501.4 210.4 500.7 210 500 C209.6 499.3 209.3 498.5 209.1 497.8 C208.8 497.1 208.7 496 208.6 495.6" fill="none" stroke="#03035e" stroke-width="3.85" />
<path d="M259.6 513.3 C259.1 513.4 257.8 513.6 256.9 513.7 C256 513.8 255.1 513.9 254.2 514 C253.3 514.1 252.3 514.2 251.4 514.3 C250.5 514.3 249.5 514.4 248.6 514.4 C247.7 514.4 246.7 514.4 245.8 514.4 C244.8 514.4 243.9 514.4 243 514.3 C242 514.3 241.1 514.2 240.2 514.1 C239.2 514.1 238.3 514 237.4 513.9 C236.5 513.8 235.6 513.6 234.7 513.5 C233.8 513.4 232.9 513.2 232.1 513 C231.2 512.9 230.3 512.7 229.5 512.5 C228.7 512.3 227.8 512.1 227 511.8 C226.2 511.6 225.4 511.4 224.7 511.1 C223.9 510.8 223.2 510.6 222.4 510.3 C221.7 510 221 509.7 220.3 509.4 C219.6 509.1 219 508.8 218.4 508.4 C217.7 508.1 217.1 507.8 216.6 507.4 C216 507.1 215.4 506.7 214.9 506.3 C214.4 506 213.9 505.6 213.4 505.2 C213 504.8 212.6 504.4 212.2 504 C211.8 503.6 211.4 503.2 211.1 502.8 C210.7 502.4 210.4 501.9 210.2 501.5 C209.9 501.1 209.7 500.7 209.5 500.2 C209.3 499.8 209.1 499.1 209 498.9" fill="none" stroke="#03035e" stroke-width="4.44" />
<path d="M287 498.5 C287 498.5 286.9 498.8 286.8 498.9 C286.7 499.1 286.7 499.3 286.6 499.4 C286.5 499.6 286.4 499.7 286.3 499.9 C286.2 500.1 286.1 500.2 286 500.4 C285.9 500.5 285.8 500.7 285.7 500.8 C285.6 501 285.4 501.2 285.3 501.3 C285.2 501.5 285.1 501.6 284.9 501.8 C284.8 501.9 284.6 502.1 284.5 502.2 C284.3 502.4 284.2 502.5 284 502.7 C283.9 502.8 283.7 503 283.6 503.1 C283.4 503.3 283.2 503.4 283 503.6 C282.9 503.7 282.7 503.9 282.5 504 C282.3 504.1 282.1 504.3 281.9 504.4 C281.7 504.6 281.6 504.7 281.3 504.8 C281.1 505 280.9 505.1 280.7 505.3 C280.5 505.4 280.3 505.5 280.1 505.7 C279.9 505.8 279.6 505.9 279.4 506 C279.2 506.2 278.9 506.3 278.7 506.4 C278.5 506.6 278.2 506.7 278 506.8 C277.7 506.9 277.5 507 277.2 507.2 C277 507.3 276.7 507.4 276.5 507.5 C276.2 507.6 275.9 507.8 275.7 507.9 C275.4 508 275.1 508.1 274.9 508.2 C274.6 508.3 274.2 508.5 274 508.5" fill="none" stroke="#03035e" stroke-width="3.85" />
<path d="M281.2 502.7 C281 502.9 280.3 503.6 279.7 504 C279.2 504.4 278.6 504.8 277.9 505.2 C277.3 505.6 276.6 506 275.9 506.4 C275.2 506.8 274.5 507.1 273.7 507.5 C272.9 507.8 272.1 508.2 271.2 508.5 C270.4 508.8 269.5 509.1 268.6 509.4 C267.7 509.6 266.8 509.9 265.8 510.1 C264.8 510.4 263.9 510.6 262.9 510.8 C261.9 511 260.8 511.1 259.8 511.3 C258.8 511.4 257.7 511.6 256.6 511.7 C255.6 511.8 254.5 511.9 253.4 512 C252.3 512 251.3 512.1 250.2 512.1 C249.1 512.1 248 512.1 246.9 512.1 C245.8 512.1 244.7 512 243.6 511.9 C242.6 511.9 241.5 511.8 240.4 511.7 C239.4 511.6 238.3 511.4 237.3 511.3 C236.2 511.1 235.2 510.9 234.2 510.7 C233.2 510.5 232.2 510.3 231.3 510.1 C230.3 509.9 229.4 509.6 228.5 509.3 C227.6 509 226.7 508.7 225.9 508.4 C225 508.1 224.2 507.8 223.4 507.5 C222.6 507.1 221.9 506.7 221.2 506.4 C220.5 506 219.8 505.6 219.2 505.2 C218.6 504.8 217.7 504.2 217.4 503.9" fill="none" stroke="#03035e" stroke-width="2.66" />
<path d="M277.7 498.1 C277.5 498.3 276.8 499 276.4 499.4 C275.9 499.9 275.3 500.3 274.7 500.7 C274.1 501.1 273.5 501.5 272.8 501.8 C272.1 502.2 271.3 502.6 270.6 502.9 C269.8 503.2 268.9 503.6 268.1 503.9 C267.2 504.2 266.3 504.5 265.4 504.7 C264.4 505 263.5 505.2 262.5 505.5 C261.5 505.7 260.5 505.9 259.4 506 C258.4 506.2 257.3 506.4 256.2 506.5 C255.1 506.6 254 506.7 252.9 506.8 C251.8 506.9 250.7 506.9 249.6 507 C248.5 507 247.3 507 246.2 507 C245.1 507 244 506.9 242.8 506.9 C241.7 506.8 240.6 506.7 239.5 506.6 C238.5 506.4 237.4 506.3 236.3 506.1 C235.3 506 234.2 505.8 233.2 505.6 C232.2 505.4 231.3 505.1 230.3 504.9 C229.4 504.6 228.4 504.3 227.6 504 C226.7 503.7 225.9 503.4 225.1 503.1 C224.3 502.7 223.5 502.4 222.8 502 C222.1 501.7 221.4 501.3 220.8 500.9 C220.2 500.5 219.6 500.1 219.1 499.6 C218.6 499.2 218.1 498.8 217.7 498.3 C217.3 497.9 216.9 497.2 216.7 497" fill="none" stroke="#03035e" stroke-width="1.92" />
<path d="M208.6 495.6 C208.6 495.6 208.6 495.3 208.6 495.2 C208.6 495 208.6 494.9 208.6 494.7 C208.6 494.6 208.6 494.4 208.6 494.3 C208.6 494.1 208.7 494 208.7 493.8 C208.7 493.7 208.7 493.5 208.8 493.4 C208.8 493.2 208.8 493.1 208.9 492.9 C208.9 492.8 208.9 492.6 209 492.5 C209 492.3 209.1 492.2 209.1 492 C209.2 491.8 209.2 491.7 209.3 491.5 C209.3 491.4 209.4 491.3 209.5 491.1 C209.5 491 209.6 490.8 209.7 490.7 C209.8 490.5 209.8 490.4 209.9 490.2 C210 490.1 210.1 489.9 210.2 489.8 C210.3 489.6 210.4 489.5 210.5 489.3 C210.6 489.2 210.7 489 210.8 488.9 C210.9 488.8 211 488.6 211.1 488.5 C211.2 488.3 211.3 488.2 211.5 488 C211.6 487.9 211.7 487.8 211.8 487.6 C212 487.5 212.1 487.3 212.2 487.2 C212.4 487.1 212.5 486.9 212.6 486.8 C212.8 486.7 212.9 486.5 213.1 486.4 C213.2 486.3 213.4 486.1 213.5 486 C213.7 485.9 213.9 485.7 214 485.6 C214.2 485.5 214.4 485.3 214.5 485.2" fill="none" stroke="#03035e" stroke-width="2.22" />
<path d="M282 486.3 C282.1 486.4 282.4 486.7 282.6 486.8 C282.8 487 282.9 487.2 283.1 487.4 C283.3 487.5 283.4 487.7 283.6 487.9 C283.8 488.1 283.9 488.2 284.1 488.4 C284.2 488.6 284.3 488.8 284.5 489 C284.6 489.1 284.7 489.3 284.8 489.5 C285 489.7 285.1 489.9 285.2 490.1 C285.3 490.3 285.4 490.4 285.5 490.6 C285.6 490.8 285.7 491 285.8 491.2 C285.8 491.4 285.9 491.6 286 491.8 C286.1 492 286.1 492.1 286.2 492.3 C286.3 492.5 286.3 492.7 286.3 492.9 C286.4 493.1 286.4 493.3 286.5 493.5 C286.5 493.7 286.5 493.9 286.5 494.1 C286.6 494.3 286.6 494.4 286.6 494.6 C286.6 494.8 286.6 495 286.6 495.2 C286.6 495.4 286.6 495.6 286.6 495.8 C286.5 496 286.5 496.2 286.5 496.4 C286.5 496.6 286.4 496.8 286.4 496.9 C286.3 497.1 286.3 497.3 286.2 497.5 C286.2 497.7 286.1 497.9 286.1 498.1 C286 498.3 285.9 498.5 285.8 498.7 C285.7 498.9 285.7 499 285.6 499.2 C285.5 499.4 285.3 499.7 285.3 499.8" fill="none" stroke="#03035e" stroke-width="2.37" />
<path d="M282 489.4 C282 489.4 282.2 489.7 282.3 489.8 C282.4 490 282.5 490.1 282.6 490.3 C282.7 490.4 282.8 490.6 282.9 490.7 C283 490.9 283.1 491 283.1 491.2 C283.2 491.4 283.3 491.5 283.4 491.7 C283.4 491.8 283.5 492 283.6 492.1 C283.6 492.3 283.7 492.5 283.7 492.6 C283.8 492.8 283.8 492.9 283.9 493.1 C283.9 493.2 283.9 493.4 284 493.6 C284 493.7 284 493.9 284 494 C284.1 494.2 284.1 494.4 284.1 494.5 C284.1 494.7 284.1 494.8 284.1 495 C284.1 495.2 284.1 495.3 284.1 495.5 C284.1 495.6 284.1 495.8 284 496 C284 496.1 284 496.3 284 496.4 C283.9 496.6 283.9 496.8 283.9 496.9 C283.8 497.1 283.8 497.2 283.7 497.4 C283.7 497.5 283.6 497.7 283.6 497.9 C283.5 498 283.4 498.2 283.4 498.3 C283.3 498.5 283.2 498.6 283.1 498.8 C283.1 499 283 499.1 282.9 499.3 C282.8 499.4 282.7 499.6 282.6 499.7 C282.5 499.9 282.4 500 282.3 500.2 C282.2 500.3 282 500.6 282 500.6" fill="none" stroke="#03035e" stroke-width="2.07" />
<path d="M210.2 496.4 L213.2 506.4" stroke-width="2.96"/>
<path d="M216.5 501.4 L219.5 511.4" stroke-width="2.66"/>
<path d="M228.1 505.8 L231.1 515.8" stroke-width="2.37"/>
<path d="M264.7 505.8 L267.7 515.8" stroke-width="2.37"/>
<path d="M277.1 500.9 L280.1 510.9" stroke-width="2.96"/>
<path d="M282.6 496.4 L285.6 506.4" stroke-width="2.96"/>
<path d="M285 492.1 L288 502.1" stroke-width="2.66"/>
<path d="M264.6 481 L264.6 489.5 L264.5 490.8 L264 492.1 L263.3 493.3 L262.2 494.5 L260.9 495.6 L259.4 496.6 L257.6 497.5 L255.6 498.2 L253.5 498.8 L251.3 499.2 L249 499.4 L246.6 499.5 L244.2 499.4 L241.9 499.2 L239.7 498.8 L237.6 498.2 L235.6 497.5 L233.8 496.6 L232.3 495.6 L231 494.5 L229.9 493.3 L229.2 492.1 L228.7 490.8 L228.6 489.5 L228.6 481" fill="#fff" stroke="#03035e" stroke-width="2.22" />
<path d="M267 486.5 C266.9 486.7 266.8 487.4 266.6 487.8 C266.4 488.3 266.2 488.7 265.9 489.2 C265.6 489.6 265.3 490 265 490.5 C264.6 490.9 264.2 491.3 263.7 491.7 C263.2 492 262.7 492.4 262.2 492.8 C261.6 493.1 261 493.5 260.4 493.8 C259.8 494.1 259.1 494.4 258.5 494.6 C257.8 494.9 257.1 495.1 256.3 495.4 C255.6 495.6 254.8 495.8 254 495.9 C253.2 496.1 252.4 496.3 251.6 496.4 C250.8 496.5 250 496.6 249.1 496.6 C248.3 496.7 247.4 496.7 246.6 496.7 C245.8 496.7 244.9 496.7 244.1 496.6 C243.2 496.6 242.4 496.5 241.6 496.4 C240.8 496.3 240 496.1 239.2 495.9 C238.4 495.8 237.6 495.6 236.9 495.4 C236.1 495.1 235.4 494.9 234.7 494.6 C234.1 494.4 233.4 494.1 232.8 493.8 C232.2 493.5 231.6 493.1 231 492.8 C230.5 492.4 230 492 229.5 491.7 C229 491.3 228.6 490.9 228.2 490.5 C227.9 490 227.6 489.6 227.3 489.2 C227 488.7 226.8 488.3 226.6 487.8 C226.4 487.4 226.3 486.7 226.2 486.5" fill="none" stroke="#03035e" stroke-width="2.37" />
<ellipse cx="246.6" cy="479" rx="22" ry="11.8" fill="#fff" stroke-width="2.81"/>
<path d="M268.5 483.4 C268.4 483.7 268.2 484.4 268 484.9 C267.8 485.3 267.6 485.8 267.3 486.2 C267 486.7 266.6 487.1 266.2 487.6 C265.8 488 265.3 488.4 264.8 488.8 C264.3 489.2 263.8 489.6 263.2 489.9 C262.6 490.3 262 490.6 261.3 491 C260.7 491.3 260 491.6 259.2 491.9 C258.5 492.1 257.7 492.4 256.9 492.6 C256.1 492.8 255.3 493 254.5 493.2 C253.6 493.4 252.8 493.5 251.9 493.6 C251.1 493.8 250.2 493.9 249.3 493.9 C248.4 494 247.5 494 246.6 494 C245.7 494 244.8 494 243.9 493.9 C243 493.9 242.1 493.8 241.3 493.6 C240.4 493.5 239.6 493.4 238.7 493.2 C237.9 493 237.1 492.8 236.3 492.6 C235.5 492.4 234.7 492.1 234 491.9 C233.2 491.6 232.5 491.3 231.9 491 C231.2 490.6 230.6 490.3 230 489.9 C229.4 489.6 228.9 489.2 228.4 488.8 C227.9 488.4 227.4 488 227 487.6 C226.6 487.1 226.2 486.7 225.9 486.2 C225.6 485.8 225.4 485.3 225.2 484.9 C225 484.4 224.8 483.7 224.7 483.4" fill="none" stroke="#03035e" stroke-width="2.81" />
<path d="M232 481.4 C231.9 481.1 231.5 480.4 231.3 479.9 C231.2 479.5 231.1 479 231.1 478.5 C231.2 478 231.3 477.5 231.5 477 C231.7 476.5 232 476.1 232.4 475.6 C232.7 475.2 233.2 474.7 233.7 474.3 C234.2 473.9 234.9 473.5 235.5 473.2 C236.2 472.8 236.9 472.5 237.7 472.3 C238.5 472 239.3 471.7 240.2 471.5 C241 471.4 241.9 471.2 242.9 471.1 C243.8 471 244.7 470.9 245.7 470.9 C246.6 470.9 247.6 470.9 248.5 471 C249.4 471.1 250.3 471.2 251.2 471.4 C252.1 471.5 253 471.8 253.8 472 C254.6 472.3 255.3 472.6 256 472.9 C256.7 473.2 257.4 473.6 258 474 C258.5 474.3 259 474.8 259.5 475.2 C259.9 475.6 260.2 476.1 260.5 476.6 C260.7 477 260.9 477.5 261 478 C261.1 478.5 261.1 479 261 479.5 C260.9 480 260.7 480.5 260.4 480.9 C260.2 481.4 259.8 481.9 259.4 482.3 C258.9 482.7 258.4 483.1 257.8 483.5 C257.3 483.9 256.6 484.3 255.9 484.6 C255.2 484.9 254 485.3 253.6 485.4" fill="none" stroke="#03035e" stroke-width="2.37" />
<ellipse cx="246.6" cy="478.7" rx="9.9" ry="5" fill="none" stroke-width="3.4"/>
<path d="M173.6 485.5 L224.6 482" fill="none" stroke="#03035e" stroke-width="2.22" />
<path d="M173.6 485 L198.6 484" fill="none" stroke="#03035e" stroke-width="4.44" />
<path d="M178.6 488.5 L223.6 484.5" fill="none" stroke="#03035e" stroke-width="2.22" />
<path d="M205.6 471 L208.6 483 L212.6 475 L217.6 481 L223.6 475" fill="none" stroke="#03035e" stroke-width="3.26" />
<path d="M208.6 476 L221.6 473" fill="none" stroke="#03035e" stroke-width="2.66" />
<path d="M271.6 477.5 L322.6 472.5 L289.6 489" fill="none" stroke="#03035e" stroke-width="2.22" />
<path d="M273.6 480 L316.6 474.5" fill="none" stroke="#03035e" stroke-width="2.07" />
<path d="M322.6 472.5 L302.6 480 L289.6 489" fill="none" stroke="#03035e" stroke-width="2.96" />
<path d="M226.1 443 L241.1 468.5" fill="none" stroke="#03035e" stroke-width="2.52" />
<path d="M228.1 442 L243.1 468" fill="none" stroke="#03035e" stroke-width="2.52" />
<path d="M229.6 457 L234.6 472" fill="none" stroke="#03035e" stroke-width="2.96" />
<path d="M230.6 452 L238.6 466" fill="none" stroke="#03035e" stroke-width="3.85" />
<path d="M254.6 490 L269.6 519" fill="none" stroke="#03035e" stroke-width="2.52" />
<path d="M257.6 490 L272.1 518" fill="none" stroke="#03035e" stroke-width="2.52" />
<ellipse cx="415.5" cy="463.8" rx="12.3" ry="7" fill="none" stroke-width="2.22"/>
<path d="M427.8 467.2 C427.8 467.3 427.6 467.7 427.5 468 C427.4 468.3 427.2 468.5 427 468.8 C426.8 469 426.6 469.3 426.4 469.5 C426.2 469.7 425.9 470 425.6 470.2 C425.3 470.4 425 470.6 424.7 470.8 C424.4 471 424.1 471.2 423.7 471.4 C423.4 471.5 423 471.7 422.6 471.8 C422.2 472 421.8 472.1 421.4 472.3 C421 472.4 420.5 472.5 420.1 472.6 C419.7 472.7 419.2 472.7 418.8 472.8 C418.3 472.9 417.9 472.9 417.4 473 C416.9 473 416.5 473 416 473 C415.5 473 415.1 473 414.6 473 C414.1 472.9 413.7 472.9 413.2 472.8 C412.8 472.7 412.3 472.7 411.9 472.6 C411.5 472.5 411 472.4 410.6 472.3 C410.2 472.1 409.8 472 409.4 471.8 C409 471.7 408.6 471.5 408.3 471.4 C407.9 471.2 407.6 471 407.3 470.8 C407 470.6 406.7 470.4 406.4 470.2 C406.1 470 405.8 469.7 405.6 469.5 C405.4 469.3 405.2 469 405 468.8 C404.8 468.5 404.6 468.3 404.5 468 C404.4 467.7 404.2 467.3 404.2 467.2" fill="none" stroke="#03035e" stroke-width="1.92" />
<path d="M429.5 447.8 L405.5 472.8" stroke-width="2.07"/>
<path d="M432 448.8 L417.5 462.8" stroke-width="1.92"/>
<path d="M425.5 468.8 L431 480.3" stroke-width="2.22"/>
<ellipse cx="399.7" cy="481.4" rx="12.3" ry="7" fill="none" stroke-width="2.22"/>
<path d="M412 484.8 C412 484.9 411.8 485.3 411.7 485.6 C411.6 485.9 411.4 486.1 411.2 486.4 C411 486.6 410.8 486.9 410.6 487.1 C410.4 487.3 410.1 487.6 409.8 487.8 C409.5 488 409.2 488.2 408.9 488.4 C408.6 488.6 408.3 488.8 407.9 489 C407.6 489.1 407.2 489.3 406.8 489.4 C406.4 489.6 406 489.7 405.6 489.9 C405.2 490 404.7 490.1 404.3 490.2 C403.9 490.3 403.4 490.3 403 490.4 C402.5 490.5 402.1 490.5 401.6 490.6 C401.1 490.6 400.7 490.6 400.2 490.6 C399.7 490.6 399.3 490.6 398.8 490.6 C398.3 490.5 397.9 490.5 397.4 490.4 C397 490.3 396.5 490.3 396.1 490.2 C395.7 490.1 395.2 490 394.8 489.9 C394.4 489.7 394 489.6 393.6 489.4 C393.2 489.3 392.8 489.1 392.5 489 C392.1 488.8 391.8 488.6 391.5 488.4 C391.2 488.2 390.9 488 390.6 487.8 C390.3 487.6 390 487.3 389.8 487.1 C389.6 486.9 389.4 486.6 389.2 486.4 C389 486.1 388.8 485.9 388.7 485.6 C388.6 485.3 388.4 484.9 388.4 484.8" fill="none" stroke="#03035e" stroke-width="1.92" />
<path d="M413.7 465.4 L389.7 490.4" stroke-width="2.07"/>
<path d="M416.2 466.4 L401.7 480.4" stroke-width="1.92"/>
<path d="M409.7 486.4 L415.2 497.9" stroke-width="2.22"/>
<ellipse cx="383" cy="496.4" rx="12.3" ry="7" fill="none" stroke-width="2.22"/>
<path d="M395.3 499.8 C395.3 499.9 395.1 500.3 395 500.6 C394.9 500.9 394.7 501.1 394.5 501.4 C394.3 501.6 394.1 501.9 393.9 502.1 C393.7 502.3 393.4 502.6 393.1 502.8 C392.8 503 392.5 503.2 392.2 503.4 C391.9 503.6 391.6 503.8 391.2 504 C390.9 504.1 390.5 504.3 390.1 504.4 C389.7 504.6 389.3 504.7 388.9 504.9 C388.5 505 388 505.1 387.6 505.2 C387.2 505.3 386.7 505.3 386.3 505.4 C385.8 505.5 385.4 505.5 384.9 505.6 C384.4 505.6 384 505.6 383.5 505.6 C383 505.6 382.6 505.6 382.1 505.6 C381.6 505.5 381.2 505.5 380.7 505.4 C380.3 505.3 379.8 505.3 379.4 505.2 C379 505.1 378.5 505 378.1 504.9 C377.7 504.7 377.3 504.6 376.9 504.4 C376.5 504.3 376.1 504.1 375.8 504 C375.4 503.8 375.1 503.6 374.8 503.4 C374.5 503.2 374.2 503 373.9 502.8 C373.6 502.6 373.3 502.3 373.1 502.1 C372.9 501.9 372.7 501.6 372.5 501.4 C372.3 501.1 372.1 500.9 372 500.6 C371.9 500.3 371.7 499.9 371.7 499.8" fill="none" stroke="#03035e" stroke-width="1.92" />
<path d="M397 480.4 L373 505.4" stroke-width="2.07"/>
<path d="M399.5 481.4 L385 495.4" stroke-width="1.92"/>
<path d="M393 501.4 L398.5 512.9" stroke-width="2.22"/>
<path d="M372 487 L371.5 497" fill="none" stroke="#03035e" stroke-width="2.22" />
<path d="M61.5 248.8 C65.1 242.5 64.3 242.6 66.4 240 C68.5 237.4 72.1 234.3 74.2 233.2 C76.3 232.1 77.4 232.9 79.1 233.6 C80.8 234.3 83.2 238.9 84.4 237.5 C85.5 236.1 84.4 228.4 85.9 225.4 C87.5 222.4 91.5 220.2 93.8 219.5 C96 218.8 97.7 219.5 99.6 221.1 C101.6 222.7 102.5 225.3 105.5 229.3 C108.4 233.3 113.4 240.4 117.2 245.3 C120.9 250.2 124.5 254.3 127.9 258.6 C131.3 262.9 135.4 267.1 137.7 271.3 C140 275.5 140.5 279.6 141.6 284 C142.7 288.4 143.7 293.1 144.1 297.7 C144.6 302.2 145.1 306.4 144.5 311.3 C144 316.2 143 323 141 327 C139.1 330.9 136.1 332.6 132.8 334.8 C129.5 336.9 126 338.6 121.1 339.6 C116.2 340.7 109 341 103.5 341 C98 341 92.6 340.5 87.9 339.8 C83.2 339.2 79.1 338 75.2 337.1 C71.3 336.3 67.2 335.1 64.5 334.8 C61.7 334.4 61.2 334.2 58.6 335.2 C56 336.1 52.1 338.8 48.8 340.2 C45.6 341.7 42.3 343 39.1 343.8 C35.8 344.5 32 344.7 29.3 344.5 C26.6 344.3 24.4 343.5 23 342.6 C21.7 341.7 20.9 340.2 21.1 339.1 C21.3 337.9 22.4 337 24.4 335.7 C26.4 334.4 33 332.3 33.2 331.2 C33.4 330.2 27.8 330.2 25.4 329.7 C22.9 329.1 20.1 328.8 18.6 327.9 C17 327.1 16 325.6 16.2 324.6 C16.4 323.7 17.4 322.9 19.5 322.3 C21.7 321.7 27.7 321.9 29.3 321.1 C30.9 320.2 30.2 318.2 28.9 317.2 C27.6 316.1 23.8 315.5 21.5 314.8 C19.2 314.2 16.6 314.3 15.2 313.3 C13.9 312.3 13.3 310.8 13.3 309 C13.3 307.2 14.2 304.4 15.2 302.5 C16.3 300.7 17.5 298.7 19.5 297.7 C21.5 296.6 24.4 297.7 27.3 296.1 C30.3 294.5 34.2 291.3 37.1 288.3 C40 285.3 40.9 284.7 44.9 278.1 C49 271.5 57.9 255.2 61.5 248.8 Z" fill="#d1d1da" stroke="#03035e" stroke-width="2.22" />
<path d="M84.4 237.5 C85.6 239.4 88.9 245 91.8 248.8 C94.7 252.7 99.1 257.6 101.6 260.5 C104 263.5 105.6 265.4 106.4 266.4" fill="none" stroke="#03035e" stroke-width="2.07" />
<path d="M21.5 314.8 C23.8 314.6 30.4 314.2 35.2 313.3 C39.9 312.4 47.4 310 49.8 309.4" fill="none" stroke="#03035e" stroke-width="2.07" />
<path d="M29.3 321.1 C30.9 320.8 35.5 320.1 39.1 319.1 C42.6 318.2 48.8 315.9 50.8 315.2" fill="none" stroke="#03035e" stroke-width="1.92" />
<path d="M25.4 329.7 C27.7 329.1 33.5 328.1 39.1 326 C44.6 323.8 55.3 318.3 58.6 316.8" fill="none" stroke="#03035e" stroke-width="2.07" />
<path d="M27.3 296.1 C29 296.5 33.4 297.2 37.1 298.6 C40.9 300 47.7 303.5 49.8 304.5" fill="none" stroke="#03035e" stroke-width="1.92" />
<path d="M5.9 223 C8.8 224.6 17.4 228.9 23.4 232.2 C29.5 235.5 35.8 239.7 42 243 C48.2 246.2 54.5 249.4 60.5 251.6 C66.6 253.7 72.9 253.9 78.1 255.7 C83.3 257.4 87.2 259.4 91.8 262.1 C96.4 264.8 101.4 269.1 105.5 271.9 C109.5 274.6 112.6 276.8 116.2 278.5 C119.8 280.2 124.6 280.9 127 282 C129.3 283.2 130.3 284.4 130.5 285.5 C130.6 286.7 129.7 288.1 127.9 288.9 C126.2 289.6 122.7 290.6 120.1 290.2 C117.5 289.9 114.1 287.6 112.3 286.9 C110.5 286.2 108.2 284.1 109.4 285.9 C110.5 287.7 115.9 293.9 119.1 297.7 C122.4 301.4 126 305.2 128.9 308.4 C131.8 311.6 135.3 314.7 136.7 316.8 C138.2 318.8 137.8 319.6 137.5 320.7 C137.2 321.8 135.8 322.7 134.8 323.4 C133.7 324.2 132 324.3 131.2 325 C130.5 325.7 131.2 327 130.5 327.9 C129.8 328.8 128.4 330 127 330.5 C125.6 330.9 123.3 330 122.1 330.5 C120.8 330.9 120.7 332.7 119.5 333.2 C118.4 333.7 116.9 334 115.2 333.6 C113.5 333.2 111.3 331.6 109.4 330.9 C107.4 330.1 105.5 328.9 103.5 328.9 C101.6 328.9 100.9 330.9 97.7 330.9 C94.4 330.9 88.9 330.2 84 328.9 C79.1 327.6 72.3 325 68.4 323 C64.5 321.1 63.2 319.9 60.5 317.2 C57.9 314.5 55.3 311.3 52.7 307 C50.2 302.8 47.8 296 45.3 291.8 C42.9 287.6 42.1 285 38.1 282 C34.1 279 26.9 276.3 21.5 273.8 C16.1 271.4 8.5 268.5 5.9 267.4" fill="#fff" stroke="#03035e" stroke-width="2.22" />
<path d="M5.9 274.6 C8.5 275.4 16.4 277.5 21.5 279.1 C26.5 280.7 33.7 283.2 36.1 284" fill="none" stroke="#03035e" stroke-width="2.07" />
<path d="M87.9 266 C89.5 267.5 94.6 272.6 97.7 275.2 C100.7 277.8 104 279.7 106.4 281.6 C108.9 283.6 111.3 286 112.3 286.9" fill="none" stroke="#03035e" stroke-width="2.07" />
<path d="M91.8 286.9 C94.7 289.4 103.8 297 109.4 301.6 C114.9 306.1 120.8 310.6 125 314.3 C129.2 317.9 133.1 321.9 134.8 323.4" fill="none" stroke="#03035e" stroke-width="2.07" />
<path d="M93.4 295.3 C96 297.7 104.6 305.2 109.4 309.4 C114.2 313.5 118.6 317 122.1 320.1 C125.6 323.2 129.1 326.6 130.5 327.9" fill="none" stroke="#03035e" stroke-width="2.07" />
<path d="M74.2 298.6 C75.8 299.1 79.4 298.8 84 301.6 C88.5 304.3 95.6 310 101.6 315.2 C107.5 320.5 116.5 330.2 119.5 333.2" fill="none" stroke="#03035e" stroke-width="2.07" />
<path d="M68.4 305.5 C70.6 306.9 77.1 311 82 314.3 C86.9 317.5 93.1 322.2 97.7 325 C102.2 327.8 107.4 329.9 109.4 330.9" fill="none" stroke="#03035e" stroke-width="1.92" />
<path d="M74.2 311.7 C76.5 313.3 83 318.2 87.9 321.1 C92.8 324 100.9 327.6 103.5 328.9" fill="none" stroke="#03035e" stroke-width="1.92" />
<path d="M129.9 317.6 C130.6 316.8 133.6 316.4 134.8 316.8 C135.9 317.2 136.8 319.1 136.7 320.1 C136.7 321.2 135.4 322.8 134.4 323 C133.3 323.3 131.2 322.4 130.5 321.5 C129.7 320.6 129.2 318.4 129.9 317.6 Z" fill="none" stroke="#03035e" stroke-width="2.22" />
<path d="M125 326 C125.8 325.3 128.8 324.7 129.9 325 C130.9 325.3 131.6 327 131.2 327.9 C130.9 328.8 129 330.3 127.9 330.5 C126.9 330.6 125.5 329.7 125 328.9 C124.5 328.2 124.2 326.6 125 326 Z" fill="none" stroke="#03035e" stroke-width="2.22" />
<path d="M116.8 329.3 C117.5 328.7 120.1 328.2 121.1 328.5 C122.1 328.8 122.9 330.4 122.7 331.2 C122.4 332.1 120.5 333.3 119.5 333.4 C118.6 333.5 117.3 332.7 116.8 332 C116.3 331.3 116.1 329.9 116.8 329.3 Z" fill="none" stroke="#03035e" stroke-width="2.22" />
<path d="M120.7 281.6 C121.9 282 126.6 282.7 127.9 283.6 C129.3 284.5 129.9 286.5 128.9 286.9 C127.9 287.3 123.2 286.1 122.1 285.9" fill="none" stroke="#03035e" stroke-width="2.07" />
<path d="M112.3 303.1 L115.6 301.6" fill="none" stroke="#03035e" stroke-width="1.92" />
<path d="M113.7 305.5 L116.8 303.7" fill="none" stroke="#03035e" stroke-width="1.92" />
<path d="M103.9 311.7 L107.4 309.8" fill="none" stroke="#03035e" stroke-width="1.92" />
<path d="M105.5 314.1 L108.6 312.1" fill="none" stroke="#03035e" stroke-width="1.92" />
<path d="M96.7 319.1 L99.2 320.7" fill="none" stroke="#03035e" stroke-width="1.78" />
<path d="M84 322.7 L85.5 325.4" fill="none" stroke="#03035e" stroke-width="1.78" />
<path d="M109.4 277.1 L112.9 278.5" fill="none" stroke="#03035e" stroke-width="1.92" />
</g>
<g clip-path="url(#c2)">
<path d="M596 7.6 L630 8.6 L712.6 22 L722 25" fill="none" stroke="#03035e" stroke-width="2.37" />
<path d="M728.7 7.2 L821 25" fill="none" stroke="#03035e" stroke-width="2.22" />
<path d="M761 9 L770 25" fill="none" stroke="#03035e" stroke-width="2.07" />
<path d="M698 10.5 L747 12.5" fill="none" stroke="#03035e" stroke-width="1.92" />
<path d="M705 14 L733 22" fill="none" stroke="#03035e" stroke-width="1.92" />
<path d="M932 7.2 L934 25" fill="none" stroke="#03035e" stroke-width="2.07" />
<path d="M1012 9 L974 26" fill="none" stroke="#03035e" stroke-width="2.22" />
<path d="M999 8 L980 24" fill="none" stroke="#03035e" stroke-width="2.07" />
<path d="M517 180 L526 183.8" fill="none" stroke="#03035e" stroke-width="2.07" />
<path d="M1007 96 L1015.5 93" fill="none" stroke="#03035e" stroke-width="1.92" />
<path d="M1010.5 100 L1012 119" fill="none" stroke="#03035e" stroke-width="1.92" />
<path d="M1007 109 L1015 112" fill="none" stroke="#03035e" stroke-width="1.78" />
<path d="M668 227.8 L1014.4 331.3" fill="none" stroke="#03035e" stroke-width="2.52" />
<path d="M703.9 245.4 L1014.4 341" fill="none" stroke="#03035e" stroke-width="2.52" />
<path d="M704.9 240.5 L720.5 267.9" fill="none" stroke="#03035e" stroke-width="2.37" />
<path d="M708.8 259.1 L711.7 266.9" fill="none" stroke="#03035e" stroke-width="2.96" />
<path d="M713.7 256.1 L718.6 266.9" fill="none" stroke="#03035e" stroke-width="2.66" />
<path d="M723.4 268.4 C725.4 268.3 731.7 267 735.2 267.5 C738.6 267.9 741.5 269.6 743.9 271.2 C746.4 272.7 748.8 275.7 749.8 276.6" fill="none" stroke="#03035e" stroke-width="2.07" />
<path d="M752.7 278 L801.6 273.9 L782 286" fill="none" stroke="#03035e" stroke-width="2.07" />
<path d="M756.6 279.6 L797.7 276.6" fill="none" stroke="#03035e" stroke-width="2.37" />
<path d="M764.5 282.1 L791.8 278.6" fill="none" stroke="#03035e" stroke-width="1.92" />
<path d="M851.4 285.4 L868 311.8" fill="none" stroke="#03035e" stroke-width="2.37" />
<path d="M854.3 297.1 L860.2 310.8" fill="none" stroke="#03035e" stroke-width="2.96" />
<path d="M858.2 292.3 L866 310.8" fill="none" stroke="#03035e" stroke-width="2.37" />
<path d="M871.9 313.8 C873.8 313.7 880.2 312.9 883.6 313.4 C887 313.8 889.9 315.1 892.4 316.7 C894.8 318.2 897.3 321.6 898.2 322.5" fill="none" stroke="#03035e" stroke-width="2.07" />
<path d="M902.1 325.9 L952.9 320 L929.5 332.9" fill="none" stroke="#03035e" stroke-width="2.07" />
<path d="M906 327 L949 322" fill="none" stroke="#03035e" stroke-width="2.66" />
<path d="M913.8 329.4 L943.1 323.9" fill="none" stroke="#03035e" stroke-width="1.92" />
<path d="M707.3 240.5 L711.6 249.3" fill="none" stroke="#03035e" stroke-width="2.96" />
<path d="M708.3 258.1 L711.2 266.9" fill="none" stroke="#03035e" stroke-width="2.66" />
<path d="M671.2 254.8 L1013.5 357.7 L875.8 502.8 L745 502.8 L518.3 429.4 L518.3 382.1 Z" fill="#d3d3db" stroke="#03035e" stroke-width="2.22" />
<path d="M518.3 429.4 L745 502.8 L730 502.8 L518.3 434.2 Z" fill="#a9a9c4" stroke="none" stroke-width="0.1" />
<path d="M518.3 429.4 L745 502.8" fill="none" stroke="#03035e" stroke-width="2.22" />
<path d="M518.3 431.8 L737.5 502.8" fill="none" stroke="#03035e" stroke-width="1.33" />
<path d="M518.3 434.2 L730 502.8" fill="none" stroke="#03035e" stroke-width="2.52" />
<path d="M1013.5 357.7 L875.8 502.8" fill="none" stroke="#03035e" stroke-width="2.37" />
<path d="M1014.5 360 L879.5 502.8" fill="none" stroke="#03035e" stroke-width="1.33" />
<path d="M1014.4 390.3 L910 502.6" fill="none" stroke="#03035e" stroke-width="4.44" />
<path d="M984.2 391.3 L987.3 399.5" fill="none" stroke="#03035e" stroke-width="2.22" />
<path d="M969.5 405.9 L975.6 414" fill="none" stroke="#03035e" stroke-width="2.22" />
<path d="M946.1 428.4 L947 436.6" fill="none" stroke="#03035e" stroke-width="2.22" />
<path d="M932.4 444 L935.5 453" fill="none" stroke="#03035e" stroke-width="2.22" />
<path d="M886.5 495.6 L903.1 501.8" fill="none" stroke="#03035e" stroke-width="2.22" />
<path d="M882.6 498.7 L892.4 502.2" fill="none" stroke="#03035e" stroke-width="1.92" />
<path d="M530.6 455.8 L529.8 480 L529.6 502.6" fill="none" stroke="#03035e" stroke-width="2.37" />
<path d="M522.7 474.3 L598 502.6" fill="none" stroke="#03035e" stroke-width="2.22" />
<path d="M522.7 478.2 L586 502.6" fill="none" stroke="#03035e" stroke-width="2.22" />
<path d="M564.3 485 L564.3 502.6" fill="none" stroke="#03035e" stroke-width="2.22" />
<path d="M622.6 484.5 L622.2 502.6" fill="none" stroke="#03035e" stroke-width="2.22" />
<ellipse cx="663.5" cy="499" rx="6.5" ry="5.5" fill="none" stroke-width="2.07"/>
<path d="M653 490.5 L669 503" fill="none" stroke="#03035e" stroke-width="2.07" />
<path d="M658 501 L668 495" fill="none" stroke="#03035e" stroke-width="1.92" />
<path d="M687 499.5 L690 502.6" fill="none" stroke="#03035e" stroke-width="1.92" />
<path d="M667.3 310.8 C664.2 312.3 655.1 316.7 648.7 319.6 C642.4 322.5 633.8 325.5 629.2 328.4 C624.6 331.3 622.2 333.8 621 337.2 C619.7 340.6 624 344.3 621.8 348.9 C619.6 353.5 613.6 359.6 607.7 364.5 C601.8 369.5 592.9 374.5 586.2 378.6 C579.5 382.7 570.8 387.2 567.7 388.9" fill="none" stroke="#03035e" stroke-width="5.3" stroke-linecap="round"/>
<path d="M667.3 310.8 C664.2 312.3 655.1 316.7 648.7 319.6 C642.4 322.5 633.8 325.5 629.2 328.4 C624.6 331.3 622.2 333.8 621 337.2 C619.7 340.6 624 344.3 621.8 348.9 C619.6 353.5 613.6 359.6 607.7 364.5 C601.8 369.5 592.9 374.5 586.2 378.6 C579.5 382.7 570.8 387.2 567.7 388.9" fill="none" stroke="#d6d6e0" stroke-width="2.0" stroke-linecap="round"/>
<path d="M729.3 296.2 C732.5 296.5 742.9 296.5 748.8 298.1 C754.7 299.7 759.6 302.6 764.5 305.9 C769.4 309.2 773.2 315.1 778.1 317.7 C783 320.3 788.6 321 793.8 321.6 C799 322.2 804.2 320.6 809.4 321.6 C814.6 322.6 820.5 325 825 327.4 C829.5 329.8 831.5 333.3 836.7 336.2 C841.9 339.1 849.1 342.9 856.3 345 C863.5 347.1 872.1 348.7 879.7 348.9 C887.3 349.1 895 345.4 902 346 C909 346.6 914 349.7 921.7 352.8 C929.4 355.9 943.6 362.6 948 364.5" fill="none" stroke="#03035e" stroke-width="5.3" stroke-linecap="round"/>
<path d="M729.3 296.2 C732.5 296.5 742.9 296.5 748.8 298.1 C754.7 299.7 759.6 302.6 764.5 305.9 C769.4 309.2 773.2 315.1 778.1 317.7 C783 320.3 788.6 321 793.8 321.6 C799 322.2 804.2 320.6 809.4 321.6 C814.6 322.6 820.5 325 825 327.4 C829.5 329.8 831.5 333.3 836.7 336.2 C841.9 339.1 849.1 342.9 856.3 345 C863.5 347.1 872.1 348.7 879.7 348.9 C887.3 349.1 895 345.4 902 346 C909 346.6 914 349.7 921.7 352.8 C929.4 355.9 943.6 362.6 948 364.5" fill="none" stroke="#d6d6e0" stroke-width="2.0" stroke-linecap="round"/>
<path d="M569.6 408.9 C571.4 410.5 576.3 415.5 580.4 418.6 C584.5 421.7 587.8 425.6 594 427.4 C600.2 429.2 611 428.4 617.5 429.4 C624 430.4 627.9 430.9 633.1 433.3 C638.3 435.7 644.2 440.8 648.7 444 C653.2 447.2 655.5 450.5 660.4 452.8 C665.3 455.1 671.8 456.7 678 457.7 C684.2 458.7 690.6 457.4 697.5 458.7 C704.4 460 712.6 462.9 719.5 465.5 C726.4 468.1 733.8 471.2 739 474.3 C744.2 477.4 746.2 481.4 750.8 484 C755.4 486.6 759.6 488.2 766.4 490 C773.2 491.8 787.6 494 791.8 494.8" fill="none" stroke="#03035e" stroke-width="5.3" stroke-linecap="round"/>
<path d="M569.6 408.9 C571.4 410.5 576.3 415.5 580.4 418.6 C584.5 421.7 587.8 425.6 594 427.4 C600.2 429.2 611 428.4 617.5 429.4 C624 430.4 627.9 430.9 633.1 433.3 C638.3 435.7 644.2 440.8 648.7 444 C653.2 447.2 655.5 450.5 660.4 452.8 C665.3 455.1 671.8 456.7 678 457.7 C684.2 458.7 690.6 457.4 697.5 458.7 C704.4 460 712.6 462.9 719.5 465.5 C726.4 468.1 733.8 471.2 739 474.3 C744.2 477.4 746.2 481.4 750.8 484 C755.4 486.6 759.6 488.2 766.4 490 C773.2 491.8 787.6 494 791.8 494.8" fill="none" stroke="#d6d6e0" stroke-width="2.0" stroke-linecap="round"/>
<path d="M965.6 381.5 C963.5 382.6 956.6 385.5 952.9 388.4 C949.1 391.3 946 395 943.1 399.1 C940.2 403.2 939.5 408.7 935.3 412.8 C931.1 416.9 923 420.2 917.8 423.5 C912.6 426.8 907.7 428.9 904.1 432.3 C900.5 435.7 899.2 439.8 896.3 444 C893.4 448.2 890.7 453.8 886.5 457.7 C882.3 461.6 875.1 464.6 870.9 467.5 C866.7 470.4 863.5 471.7 861.1 475.3 C858.7 478.9 857 486.7 856.2 489" fill="none" stroke="#03035e" stroke-width="5.3" stroke-linecap="round"/>
<path d="M965.6 381.5 C963.5 382.6 956.6 385.5 952.9 388.4 C949.1 391.3 946 395 943.1 399.1 C940.2 403.2 939.5 408.7 935.3 412.8 C931.1 416.9 923 420.2 917.8 423.5 C912.6 426.8 907.7 428.9 904.1 432.3 C900.5 435.7 899.2 439.8 896.3 444 C893.4 448.2 890.7 453.8 886.5 457.7 C882.3 461.6 875.1 464.6 870.9 467.5 C866.7 470.4 863.5 471.7 861.1 475.3 C858.7 478.9 857 486.7 856.2 489" fill="none" stroke="#d6d6e0" stroke-width="2.0" stroke-linecap="round"/>
<path d="M693.4 288.5 C695.1 287.2 694.6 288.6 696.1 289 C697.5 289.4 700.6 290.2 702.1 291 C703.7 291.9 705.4 293 705.4 294 C705.4 295 703.9 296.1 702.1 297 C700.3 297.9 697.2 298.7 694.5 299.5 C691.8 300.2 688.2 301.2 685.8 301.5 C683.3 301.8 680.9 301.8 679.7 301.5 C678.5 301.2 678.3 300.6 678.7 300 C679.1 299.3 680.8 298.1 682 297.5 C683.1 296.9 683.9 298 685.8 296.5 C687.7 295 691.7 289.7 693.4 288.5 Z" fill="#f3f3f7" stroke="#03035e" stroke-width="2.29" />
<path d="M690.7 284.5 C692.5 284.8 692.7 287.1 693.4 288.5 C694.1 289.9 695.3 291.8 695.1 293 C694.9 294.2 693.8 294.9 692.3 295.5 C690.7 296 688.1 296.4 685.8 296.5 C683.4 296.6 680.2 296.5 678.1 296 C676 295.5 673.8 294.3 673.2 293.5 C672.7 292.7 673.9 291.8 674.9 291 C675.9 290.3 677.9 289.7 679.3 289 C680.6 288.3 680.9 287.5 682.8 286.8 C684.7 286 688.9 284.2 690.7 284.5 Z" fill="#f6f6f9" stroke="#03035e" stroke-width="2.29" />
<path d="M678.3 288.7 C678.3 287.9 679.6 286.9 680.9 286.3 C682.2 285.7 684.6 285.1 686 285.1 C687.5 285.1 689.3 285.5 689.9 286.1 C690.4 286.7 690 287.8 689.3 288.5 C688.6 289.2 687 290 685.6 290.4 C684.2 290.8 682.1 291.2 680.9 290.9 C679.7 290.6 678.3 289.4 678.3 288.7 Z" fill="#f8f8fb" stroke="#03035e" stroke-width="2.29" />
<path d="M682.8 284.4 L682.8 277.1 C686.9 278.5 690.1 282 690.9 284.8 Z" fill="#f6f6f9" stroke-width="2.29"/>
<path d="M546.9 398.3 C548.7 396.9 548.2 398.4 549.7 398.9 C551.1 399.3 554.2 400.2 555.8 401.1 C557.3 402.1 559.1 403.3 559.1 404.4 C559.1 405.5 557.6 406.7 555.8 407.7 C553.9 408.7 550.8 409.6 548.1 410.4 C545.3 411.3 541.7 412.3 539.2 412.7 C536.7 413.1 534.3 413 533.1 412.7 C531.9 412.4 531.7 411.7 532.1 411 C532.5 410.3 534.2 408.9 535.4 408.3 C536.6 407.6 537.3 408.8 539.2 407.1 C541.2 405.5 545.2 399.7 546.9 398.3 Z" fill="#f3f3f7" stroke="#03035e" stroke-width="2.29" />
<path d="M544.2 393.9 C546 394.2 546.2 396.7 546.9 398.3 C547.7 399.9 548.8 402 548.6 403.3 C548.4 404.6 547.4 405.4 545.8 406 C544.2 406.7 541.6 407 539.2 407.1 C536.8 407.2 533.6 407.1 531.5 406.6 C529.4 406 527.1 404.8 526.5 403.9 C526 402.9 527.2 402 528.2 401.1 C529.2 400.3 531.3 399.7 532.6 398.9 C534 398.1 534.3 397.3 536.2 396.4 C538.1 395.6 542.4 393.6 544.2 393.9 Z" fill="#f6f6f9" stroke="#03035e" stroke-width="2.29" />
<path d="M531.7 398.5 C531.7 397.6 533 396.5 534.3 395.9 C535.6 395.2 538 394.6 539.5 394.5 C541 394.5 542.8 395 543.4 395.7 C543.9 396.3 543.5 397.5 542.8 398.3 C542.1 399.1 540.4 399.9 539 400.4 C537.6 400.8 535.6 401.3 534.3 400.9 C533.1 400.6 531.7 399.3 531.7 398.5 Z" fill="#f8f8fb" stroke="#03035e" stroke-width="2.29" />
<path d="M536.2 393.8 L536.2 385.7 C540.4 387.3 543.6 391.2 544.4 394.2 Z" fill="#f6f6f9" stroke-width="2.29"/>
<path d="M761.5 374.6 C763.3 373.1 762.8 374.7 764.3 375.2 C765.8 375.6 769 376.5 770.6 377.5 C772.2 378.5 774 379.8 774 380.9 C774 382.1 772.5 383.3 770.6 384.4 C768.7 385.4 765.5 386.3 762.6 387.2 C759.8 388.1 756.1 389.2 753.5 389.6 C750.9 390 748.4 389.9 747.2 389.6 C746 389.3 745.8 388.6 746.1 387.8 C746.5 387 748.3 385.6 749.5 385 C750.8 384.3 751.5 385.5 753.5 383.8 C755.5 382 759.7 376 761.5 374.6 Z" fill="#f3f3f7" stroke="#03035e" stroke-width="2.29" />
<path d="M758.7 370 C760.5 370.3 760.7 372.9 761.5 374.6 C762.2 376.2 763.4 378.4 763.2 379.8 C763 381.1 761.9 381.9 760.3 382.6 C758.7 383.3 756 383.7 753.5 383.8 C751.1 383.9 747.7 383.8 745.6 383.2 C743.4 382.6 741 381.3 740.4 380.4 C739.9 379.4 741.1 378.4 742.2 377.5 C743.2 376.6 745.3 376 746.7 375.2 C748.1 374.3 748.4 373.5 750.4 372.6 C752.4 371.7 756.8 369.6 758.7 370 Z" fill="#f6f6f9" stroke="#03035e" stroke-width="2.29" />
<path d="M745.8 374.8 C745.8 373.9 747.1 372.7 748.5 372 C749.8 371.3 752.3 370.7 753.8 370.6 C755.4 370.6 757.2 371.2 757.8 371.8 C758.3 372.5 757.9 373.8 757.2 374.6 C756.5 375.4 754.8 376.3 753.3 376.7 C751.9 377.2 749.7 377.6 748.5 377.3 C747.2 377 745.8 375.6 745.8 374.8 Z" fill="#f8f8fb" stroke="#03035e" stroke-width="2.29" />
<path d="M750.4 369.9 L750.4 361.4 C754.7 363.1 758.1 367.1 758.8 370.3 Z" fill="#f6f6f9" stroke-width="2.29"/>
<path d="M973.6 359.3 C974.9 358 974.6 359.4 975.7 359.9 C976.8 360.3 979.1 361.2 980.3 362.1 C981.5 363 982.8 364.3 982.8 365.4 C982.8 366.4 981.7 367.6 980.3 368.6 C978.9 369.6 976.6 370.5 974.5 371.3 C972.4 372.1 969.7 373.2 967.8 373.5 C965.9 373.9 964.1 373.8 963.2 373.5 C962.3 373.3 962.1 372.6 962.4 371.9 C962.7 371.1 964 369.8 964.9 369.2 C965.8 368.5 966.3 369.7 967.8 368.1 C969.3 366.4 972.3 360.7 973.6 359.3 Z" fill="#f3f3f7" stroke="#03035e" stroke-width="2.29" />
<path d="M971.6 354.9 C972.9 355.3 973.1 357.8 973.6 359.3 C974.2 360.9 975 363 974.9 364.2 C974.8 365.5 974 366.3 972.8 366.9 C971.6 367.6 969.6 368 967.8 368.1 C966 368.2 963.6 368 962 367.5 C960.4 367 958.6 365.7 958.2 364.8 C957.8 363.9 958.7 362.9 959.5 362.1 C960.3 361.3 961.8 360.6 962.8 359.9 C963.8 359.1 964.1 358.3 965.5 357.5 C967 356.6 970.2 354.6 971.6 354.9 Z" fill="#f6f6f9" stroke="#03035e" stroke-width="2.29" />
<path d="M962.1 359.5 C962.1 358.7 963.1 357.5 964.1 356.9 C965.1 356.2 966.9 355.6 968 355.6 C969.2 355.6 970.5 356.1 970.9 356.7 C971.3 357.3 971 358.5 970.5 359.3 C970 360.1 968.7 360.9 967.7 361.4 C966.6 361.8 965 362.2 964.1 361.9 C963.2 361.6 962.1 360.3 962.1 359.5 Z" fill="#f8f8fb" stroke="#03035e" stroke-width="2.29" />
<path d="M965.5 354.9 L965.5 346.9 C968.7 348.4 971.1 352.2 971.7 355.2 Z" fill="#f6f6f9" stroke-width="2.29"/>
<path d="M836.8 490.3 C838.5 489 838.1 490.4 839.5 490.9 C841 491.3 844 492.2 845.5 493.1 C847 494 848.7 495.2 848.7 496.3 C848.7 497.4 847.3 498.5 845.5 499.5 C843.7 500.5 840.7 501.4 838 502.2 C835.3 503 831.7 504 829.3 504.4 C826.9 504.8 824.5 504.7 823.3 504.4 C822.2 504.1 821.9 503.5 822.3 502.7 C822.7 502 824.4 500.7 825.5 500.1 C826.7 499.4 827.4 500.6 829.3 499 C831.2 497.3 835.1 491.7 836.8 490.3 Z" fill="#f3f3f7" stroke="#03035e" stroke-width="2.29" />
<path d="M834.2 486 C835.9 486.3 836.1 488.8 836.8 490.3 C837.6 491.9 838.7 493.9 838.5 495.2 C838.3 496.5 837.3 497.2 835.7 497.9 C834.2 498.5 831.6 498.9 829.3 499 C827 499.1 823.8 499 821.8 498.4 C819.7 497.9 817.4 496.6 816.9 495.8 C816.3 494.9 817.5 493.9 818.5 493.1 C819.5 492.3 821.6 491.6 822.9 490.9 C824.2 490.1 824.5 489.3 826.4 488.5 C828.2 487.7 832.4 485.7 834.2 486 Z" fill="#f6f6f9" stroke="#03035e" stroke-width="2.29" />
<path d="M821.9 490.5 C821.9 489.7 823.2 488.6 824.5 487.9 C825.8 487.3 828.1 486.7 829.6 486.6 C831.1 486.6 832.8 487.1 833.4 487.8 C833.9 488.4 833.5 489.6 832.8 490.3 C832.1 491.1 830.5 491.9 829.1 492.3 C827.7 492.8 825.7 493.2 824.5 492.9 C823.3 492.6 821.9 491.3 821.9 490.5 Z" fill="#f8f8fb" stroke="#03035e" stroke-width="2.29" />
<path d="M826.4 485.9 L826.4 478 C830.4 479.6 833.6 483.3 834.4 486.3 Z" fill="#f6f6f9" stroke-width="2.29"/>
<path d="M539.3 268.8 L540.3 266.9 L599.9 266.1 L651.6 265.3 L657.5 266.9 L662.8 269.2 L665.3 273.1 L682.3 273.5 L682.3 277 L665.3 277.8 L661.4 280 L656.5 284.5 L646.8 288.4 L590.1 297.3 L547.2 304 L543.2 304.4 L541.3 302 Z" fill="#d8d8e1" stroke="#03035e" stroke-width="2.37" />
<path d="M568.2 267.5 L603.4 266.5 L604.2 295.4 L568.6 300.3 Z" fill="#e6e6ec" stroke="none" stroke-width="0.1" />
<path d="M567.9 267.5 L568.6 300.5" fill="none" stroke="#03035e" stroke-width="2.81" />
<path d="M588.6 266.9 L589.3 297.5" fill="none" stroke="#03035e" stroke-width="2.81" />
<path d="M603.4 266.5 L604.2 295.4" fill="none" stroke="#03035e" stroke-width="2.22" />
<path d="M611.2 266.5 L612 293.8" fill="none" stroke="#03035e" stroke-width="2.22" />
<path d="M682.3 275.3 C682.7 275.5 684.3 275.8 684.9 276.6 C685.4 277.5 685.7 279.9 685.8 280.5" fill="none" stroke="#03035e" stroke-width="2.07" />
<path d="M518.8 265.3 L551.1 261.4 L576.5 257.5 L597.9 255.2 L621.4 257.9 L639 261.8 L646.8 266.1 L643.2 269.6 L629.2 271.2 L620.4 269.2 L617.5 266.5 L599.9 266.1 L540.3 266.9 Z" fill="#fff" stroke="none" stroke-width="0.1" />
<path d="M518.8 265.3 C524.2 264.7 541.5 262.7 551.1 261.4 C560.7 260.1 568.6 258.5 576.5 257.5 C584.3 256.5 590.5 255.1 597.9 255.2 C605.4 255.2 614.5 256.8 621.4 257.9 C628.2 259 634.8 260.6 639 261.8 C643.1 263 645.3 264.2 646.4 265.3 C647.5 266.4 646.8 267.6 645.6 268.4 C644.4 269.3 641.7 269.9 639 270.4 C636.2 270.8 632.1 271.3 629.2 271.2 C626.3 271 623.2 270.3 621.4 269.6 C619.6 269 618.9 267.7 618.4 267.3" fill="none" stroke="#03035e" stroke-width="2.37" />
<path d="M518.8 300.1 L539.3 297.1" fill="none" stroke="#03035e" stroke-width="2.37" />
<path d="M561.8 303 C563.3 304.5 566.5 309.2 570.6 311.8 C574.7 314.4 581.3 317.3 586.2 318.6 C591.1 320 596.3 320.3 599.9 320 C603.5 319.7 607.1 319 607.7 316.7 C608.4 314.3 606.2 309.2 603.8 305.9 C601.4 302.7 594.8 298.6 593.1 297.1" fill="#fff" stroke="#03035e" stroke-width="2.37" />
<path d="M593.1 303 C594 301.4 595.8 297.6 597.9 298.1 C600.1 298.6 603.9 303.4 605.8 305.9 C607.6 308.5 609.1 311.3 609.3 313.4 C609.4 315.4 608.3 317.2 606.7 318.2 C605.2 319.3 601.9 320.4 599.9 319.6 C597.8 318.9 595.7 315.7 594.4 313.8 C593.1 311.8 592.3 309.7 592.1 307.9 C591.9 306.1 592.1 304.6 593.1 303 Z" fill="#fff" stroke="#03035e" stroke-width="2.37" />
<path d="M598.9 297.1 C598.6 294.8 602 292.7 604.2 292.3 C606.4 291.8 609.6 292.7 612 294.6 C614.4 296.6 617.1 301.2 618.6 304 C620.2 306.8 621.4 309.5 621.4 311.4 C621.4 313.4 620.1 315.1 618.6 315.7 C617.2 316.3 614.7 316.7 612.6 315.1 C610.5 313.6 608.4 309.3 606.1 306.3 C603.9 303.3 599.2 299.5 598.9 297.1 Z" fill="#fff" stroke="#03035e" stroke-width="2.37" />
<path d="M618.4 285.4 C619.4 283.4 622.3 282.4 624.3 282.5 C626.4 282.6 629.1 283.8 630.8 286 C632.4 288.2 634 292.8 634.3 295.8 C634.5 298.8 633.5 302.2 632.3 304 C631.1 305.7 628.9 306.5 627.2 306.3 C625.6 306.2 623.8 305 622.4 303 C620.9 301.1 619.3 297.5 618.6 294.6 C618 291.7 617.5 287.4 618.4 285.4 Z" fill="#fff" stroke="#03035e" stroke-width="2.37" />
<path d="M631.5 287.4 C632.2 286.1 635.8 289.1 638 288.8 C640.2 288.4 643.3 285.4 644.8 285.4 C646.3 285.4 647.4 287.1 647.2 288.8 C646.9 290.4 644.9 293.6 643.2 295.2 C641.6 296.8 638.9 297.9 637.4 298.1 C635.9 298.4 635 298.4 634.1 296.6 C633.1 294.8 630.9 288.7 631.5 287.4 Z" fill="#fff" stroke="#03035e" stroke-width="2.37" />
<ellipse cx="623.7" cy="287.6" rx="2.6" ry="3.6" fill="#fff" stroke-width="2.07" transform="rotate(20 623.7 287.6)"/>
<ellipse cx="605.8" cy="296.6" rx="2.2" ry="3.2" fill="#fff" stroke-width="1.92" transform="rotate(25 605.8 296.6)"/>
<path d="M594 308.9 L597.9 315.7" fill="none" stroke="#03035e" stroke-width="1.92" />
</g>
<g clip-path="url(#c3)">
<path d="M112 521 L144 521" fill="none" stroke="#03035e" stroke-width="2.37" />
<path d="M140.2 520.5 L240.8 542.5" fill="none" stroke="#03035e" stroke-width="2.22" />
<path d="M216.7 520.5 L333.4 542.5" fill="none" stroke="#03035e" stroke-width="2.22" />
<path d="M248.9 522 L261 542.5" fill="none" stroke="#03035e" stroke-width="2.07" />
<path d="M186.5 528.5 L236.5 524" fill="none" stroke="#03035e" stroke-width="1.92" />
<path d="M192.5 530 L221 538.5" fill="none" stroke="#03035e" stroke-width="1.92" />
<path d="M420 521 L424 542.5" fill="none" stroke="#03035e" stroke-width="2.07" />
<path d="M500.4 522 L462 542.5" fill="none" stroke="#03035e" stroke-width="2.22" />
<path d="M486 521.5 L467 538" fill="none" stroke="#03035e" stroke-width="2.07" />
<path d="M499.8 610 L505 607" fill="none" stroke="#03035e" stroke-width="1.92" />
<path d="M501 614 L502 626" fill="none" stroke="#03035e" stroke-width="1.92" />
<path d="M504.6 545 C504.2 550.8 502.7 568.8 502.4 580 C502.1 591.2 503 601.9 502.8 612 C502.6 622.1 501.5 635.8 501.2 640.5" fill="none" stroke="#03035e" stroke-width="1.63" />
<path d="M105.5 841.6 L37.1 894.3" fill="none" stroke="#03035e" stroke-width="2.22" />
<path d="M36.1 891 L200 947.2 L360 1000.5 L397 1012" fill="none" stroke="#03035e" stroke-width="3.55" />
<path d="M45 891.4 L200 943.3 L360 996.5 L400 1009" fill="none" stroke="#03035e" stroke-width="1.92" />
<path d="M37 888 L37.5 896" fill="none" stroke="#03035e" stroke-width="2.96" />
<path d="M7.8 920.7 L200 986.1 L275 1011.9" fill="none" stroke="#03035e" stroke-width="2.37" />
<path d="M7.8 942.2 L200 1007.6 L213.4 1011.9" fill="none" stroke="#03035e" stroke-width="2.37" />
<path d="M504.3 898.5 L398.8 1010.1" fill="none" stroke="#03035e" stroke-width="4.44" />
<path d="M9.3 958 L9.3 1012" fill="none" stroke="#03035e" stroke-width="3.85" />
<path d="M22.5 964.5 L21.5 990 L21.5 1012" fill="none" stroke="#03035e" stroke-width="2.37" />
<path d="M14.6 983.2 L95.7 1012.5" fill="none" stroke="#03035e" stroke-width="2.22" />
<path d="M14.6 987.2 L84 1012.5" fill="none" stroke="#03035e" stroke-width="2.22" />
<path d="M56.6 996 L55.7 1012" fill="none" stroke="#03035e" stroke-width="2.22" />
<path d="M114.3 995 L113.3 1012" fill="none" stroke="#03035e" stroke-width="2.22" />
<ellipse cx="155.5" cy="1008.6" rx="6.5" ry="5.5" fill="none" stroke-width="2.07"/>
<path d="M144 1000.5 L160 1012" fill="none" stroke="#03035e" stroke-width="2.07" />
<path d="M149 1011 L160 1005" fill="none" stroke="#03035e" stroke-width="1.92" />
<path d="M177 1009 L180 1012" fill="none" stroke="#03035e" stroke-width="1.92" />
<path d="M181.3 882.9 C181 883.2 180.4 884.3 179.8 885 C179.2 885.6 178.6 886.3 177.8 887 C177.1 887.6 176.3 888.2 175.4 888.8 C174.5 889.4 173.5 890 172.5 890.5 C171.5 891.1 170.4 891.6 169.2 892.1 C168 892.5 166.8 893 165.5 893.4 C164.3 893.8 162.9 894.2 161.6 894.5 C160.2 894.9 158.8 895.2 157.4 895.4 C155.9 895.7 154.4 895.9 153 896.1 C151.5 896.2 149.9 896.4 148.4 896.5 C146.9 896.5 145.3 896.6 143.8 896.6 C142.3 896.6 140.7 896.6 139.2 896.5 C137.7 896.4 136.1 896.3 134.6 896.1 C133.1 895.9 131.7 895.7 130.2 895.5 C128.8 895.2 127.3 894.9 126 894.6 C124.6 894.3 123.3 893.9 122 893.5 C120.7 893.1 119.5 892.6 118.3 892.2 C117.1 891.7 116 891.2 115 890.7 C113.9 890.1 112.9 889.6 112 889 C111.1 888.4 110.3 887.8 109.5 887.1 C108.8 886.5 108.1 885.8 107.5 885.1 C107 884.5 106.4 883.8 106 883.1 C105.6 882.4 105.3 881.6 105.1 880.9 C104.8 880.2 104.7 879.1 104.6 878.7" fill="none" stroke="#03035e" stroke-width="3.85" />
<path d="M155.6 896.4 C155.1 896.5 153.8 896.7 152.9 896.8 C152 896.9 151.1 897 150.2 897.1 C149.3 897.2 148.3 897.3 147.4 897.4 C146.5 897.4 145.5 897.5 144.6 897.5 C143.7 897.5 142.7 897.5 141.8 897.5 C140.8 897.5 139.9 897.5 139 897.4 C138 897.4 137.1 897.3 136.2 897.2 C135.2 897.2 134.3 897.1 133.4 897 C132.5 896.9 131.6 896.7 130.7 896.6 C129.8 896.5 128.9 896.3 128.1 896.1 C127.2 896 126.3 895.8 125.5 895.6 C124.7 895.4 123.8 895.2 123 894.9 C122.2 894.7 121.4 894.5 120.7 894.2 C119.9 893.9 119.2 893.7 118.4 893.4 C117.7 893.1 117 892.8 116.3 892.5 C115.6 892.2 115 891.9 114.4 891.5 C113.7 891.2 113.1 890.9 112.6 890.5 C112 890.2 111.4 889.8 110.9 889.4 C110.4 889.1 109.9 888.7 109.4 888.3 C109 887.9 108.6 887.5 108.2 887.1 C107.8 886.7 107.4 886.3 107.1 885.9 C106.7 885.5 106.4 885 106.2 884.6 C105.9 884.2 105.7 883.8 105.5 883.3 C105.3 882.9 105.1 882.2 105 882" fill="none" stroke="#03035e" stroke-width="4.44" />
<path d="M183 881.6 C183 881.6 182.9 881.9 182.8 882 C182.7 882.2 182.7 882.4 182.6 882.5 C182.5 882.7 182.4 882.8 182.3 883 C182.2 883.2 182.1 883.3 182 883.5 C181.9 883.6 181.8 883.8 181.7 883.9 C181.6 884.1 181.4 884.3 181.3 884.4 C181.2 884.6 181.1 884.7 180.9 884.9 C180.8 885 180.6 885.2 180.5 885.3 C180.3 885.5 180.2 885.6 180 885.8 C179.9 885.9 179.7 886.1 179.6 886.2 C179.4 886.4 179.2 886.5 179 886.7 C178.9 886.8 178.7 887 178.5 887.1 C178.3 887.2 178.1 887.4 177.9 887.5 C177.7 887.7 177.6 887.8 177.3 887.9 C177.1 888.1 176.9 888.2 176.7 888.4 C176.5 888.5 176.3 888.6 176.1 888.8 C175.9 888.9 175.6 889 175.4 889.1 C175.2 889.3 174.9 889.4 174.7 889.5 C174.5 889.7 174.2 889.8 174 889.9 C173.7 890 173.5 890.1 173.2 890.3 C173 890.4 172.7 890.5 172.5 890.6 C172.2 890.7 171.9 890.9 171.7 891 C171.4 891.1 171.1 891.2 170.9 891.3 C170.6 891.4 170.2 891.6 170 891.6" fill="none" stroke="#03035e" stroke-width="3.85" />
<path d="M177.2 885.8 C177 886 176.3 886.7 175.7 887.1 C175.2 887.5 174.6 887.9 173.9 888.3 C173.3 888.7 172.6 889.1 171.9 889.5 C171.2 889.9 170.5 890.2 169.7 890.6 C168.9 890.9 168.1 891.3 167.2 891.6 C166.4 891.9 165.5 892.2 164.6 892.5 C163.7 892.7 162.8 893 161.8 893.2 C160.8 893.5 159.9 893.7 158.9 893.9 C157.9 894.1 156.8 894.2 155.8 894.4 C154.8 894.5 153.7 894.7 152.6 894.8 C151.6 894.9 150.5 895 149.4 895.1 C148.3 895.1 147.3 895.2 146.2 895.2 C145.1 895.2 144 895.2 142.9 895.2 C141.8 895.2 140.7 895.1 139.6 895 C138.6 895 137.5 894.9 136.4 894.8 C135.4 894.7 134.3 894.5 133.3 894.4 C132.2 894.2 131.2 894 130.2 893.8 C129.2 893.6 128.2 893.4 127.3 893.2 C126.3 893 125.4 892.7 124.5 892.4 C123.6 892.1 122.7 891.8 121.9 891.5 C121 891.2 120.2 890.9 119.4 890.6 C118.6 890.2 117.9 889.8 117.2 889.5 C116.5 889.1 115.8 888.7 115.2 888.3 C114.6 887.9 113.7 887.3 113.4 887" fill="none" stroke="#03035e" stroke-width="2.66" />
<path d="M173.7 881.2 C173.5 881.4 172.8 882.1 172.4 882.5 C171.9 883 171.3 883.4 170.7 883.8 C170.1 884.2 169.5 884.6 168.8 884.9 C168.1 885.3 167.3 885.7 166.6 886 C165.8 886.3 164.9 886.7 164.1 887 C163.2 887.3 162.3 887.6 161.4 887.8 C160.4 888.1 159.5 888.3 158.5 888.6 C157.5 888.8 156.5 889 155.4 889.1 C154.4 889.3 153.3 889.5 152.2 889.6 C151.1 889.7 150 889.8 148.9 889.9 C147.8 890 146.7 890 145.6 890.1 C144.5 890.1 143.3 890.1 142.2 890.1 C141.1 890.1 140 890 138.8 890 C137.7 889.9 136.6 889.8 135.5 889.7 C134.5 889.5 133.4 889.4 132.3 889.2 C131.3 889.1 130.2 888.9 129.2 888.7 C128.2 888.5 127.3 888.2 126.3 888 C125.4 887.7 124.4 887.4 123.6 887.1 C122.7 886.8 121.9 886.5 121.1 886.2 C120.3 885.8 119.5 885.5 118.8 885.1 C118.1 884.8 117.4 884.4 116.8 884 C116.2 883.6 115.6 883.2 115.1 882.7 C114.6 882.3 114.1 881.9 113.7 881.4 C113.3 881 112.9 880.3 112.7 880.1" fill="none" stroke="#03035e" stroke-width="1.92" />
<path d="M104.6 878.7 C104.6 878.7 104.6 878.4 104.6 878.3 C104.6 878.1 104.6 878 104.6 877.8 C104.6 877.7 104.6 877.5 104.6 877.4 C104.6 877.2 104.7 877.1 104.7 876.9 C104.7 876.8 104.7 876.6 104.8 876.5 C104.8 876.3 104.8 876.2 104.9 876 C104.9 875.9 104.9 875.7 105 875.6 C105 875.4 105.1 875.3 105.1 875.1 C105.2 874.9 105.2 874.8 105.3 874.6 C105.3 874.5 105.4 874.4 105.5 874.2 C105.5 874.1 105.6 873.9 105.7 873.8 C105.8 873.6 105.8 873.5 105.9 873.3 C106 873.2 106.1 873 106.2 872.9 C106.3 872.7 106.4 872.6 106.5 872.4 C106.6 872.3 106.7 872.1 106.8 872 C106.9 871.9 107 871.7 107.1 871.6 C107.2 871.4 107.3 871.3 107.5 871.1 C107.6 871 107.7 870.9 107.8 870.7 C108 870.6 108.1 870.4 108.2 870.3 C108.4 870.2 108.5 870 108.6 869.9 C108.8 869.8 108.9 869.6 109.1 869.5 C109.2 869.4 109.4 869.2 109.5 869.1 C109.7 869 109.9 868.8 110 868.7 C110.2 868.6 110.4 868.4 110.5 868.3" fill="none" stroke="#03035e" stroke-width="2.22" />
<path d="M178 869.4 C178.1 869.5 178.4 869.8 178.6 869.9 C178.8 870.1 178.9 870.3 179.1 870.5 C179.3 870.6 179.4 870.8 179.6 871 C179.8 871.2 179.9 871.3 180.1 871.5 C180.2 871.7 180.3 871.9 180.5 872.1 C180.6 872.2 180.7 872.4 180.8 872.6 C181 872.8 181.1 873 181.2 873.2 C181.3 873.4 181.4 873.5 181.5 873.7 C181.6 873.9 181.7 874.1 181.8 874.3 C181.8 874.5 181.9 874.7 182 874.9 C182.1 875.1 182.1 875.2 182.2 875.4 C182.3 875.6 182.3 875.8 182.3 876 C182.4 876.2 182.4 876.4 182.5 876.6 C182.5 876.8 182.5 877 182.5 877.2 C182.6 877.4 182.6 877.5 182.6 877.7 C182.6 877.9 182.6 878.1 182.6 878.3 C182.6 878.5 182.6 878.7 182.6 878.9 C182.5 879.1 182.5 879.3 182.5 879.5 C182.5 879.7 182.4 879.9 182.4 880 C182.3 880.2 182.3 880.4 182.2 880.6 C182.2 880.8 182.1 881 182.1 881.2 C182 881.4 181.9 881.6 181.8 881.8 C181.7 882 181.7 882.1 181.6 882.3 C181.5 882.5 181.3 882.8 181.3 882.9" fill="none" stroke="#03035e" stroke-width="2.37" />
<path d="M178 872.5 C178 872.5 178.2 872.8 178.3 872.9 C178.4 873.1 178.5 873.2 178.6 873.4 C178.7 873.5 178.8 873.7 178.9 873.8 C179 874 179.1 874.1 179.1 874.3 C179.2 874.5 179.3 874.6 179.4 874.8 C179.4 874.9 179.5 875.1 179.6 875.2 C179.6 875.4 179.7 875.6 179.7 875.7 C179.8 875.9 179.8 876 179.9 876.2 C179.9 876.3 179.9 876.5 180 876.7 C180 876.8 180 877 180 877.1 C180.1 877.3 180.1 877.5 180.1 877.6 C180.1 877.8 180.1 877.9 180.1 878.1 C180.1 878.3 180.1 878.4 180.1 878.6 C180.1 878.7 180.1 878.9 180 879.1 C180 879.2 180 879.4 180 879.5 C179.9 879.7 179.9 879.9 179.9 880 C179.8 880.2 179.8 880.3 179.7 880.5 C179.7 880.6 179.6 880.8 179.6 881 C179.5 881.1 179.4 881.3 179.4 881.4 C179.3 881.6 179.2 881.7 179.1 881.9 C179.1 882.1 179 882.2 178.9 882.4 C178.8 882.5 178.7 882.7 178.6 882.8 C178.5 883 178.4 883.1 178.3 883.3 C178.2 883.4 178 883.7 178 883.7" fill="none" stroke="#03035e" stroke-width="2.07" />
<path d="M106.2 879.5 L109.2 889.5" stroke-width="2.96"/>
<path d="M112.5 884.5 L115.5 894.5" stroke-width="2.66"/>
<path d="M124.1 888.9 L127.1 898.9" stroke-width="2.37"/>
<path d="M160.7 888.9 L163.7 898.9" stroke-width="2.37"/>
<path d="M173.1 884 L176.1 894" stroke-width="2.96"/>
<path d="M178.6 879.5 L181.6 889.5" stroke-width="2.96"/>
<path d="M181 875.2 L184 885.2" stroke-width="2.66"/>
<path d="M160.6 864.1 L160.6 872.6 L160.5 873.9 L160 875.2 L159.3 876.4 L158.2 877.6 L156.9 878.7 L155.4 879.7 L153.6 880.6 L151.6 881.3 L149.5 881.9 L147.3 882.3 L145 882.5 L142.6 882.6 L140.2 882.5 L137.9 882.3 L135.7 881.9 L133.6 881.3 L131.6 880.6 L129.8 879.7 L128.3 878.7 L127 877.6 L125.9 876.4 L125.2 875.2 L124.7 873.9 L124.6 872.6 L124.6 864.1" fill="#fff" stroke="#03035e" stroke-width="2.22" />
<path d="M163 869.6 C162.9 869.8 162.8 870.5 162.6 870.9 C162.4 871.4 162.2 871.8 161.9 872.3 C161.6 872.7 161.3 873.1 161 873.6 C160.6 874 160.2 874.4 159.7 874.8 C159.2 875.1 158.7 875.5 158.2 875.9 C157.6 876.2 157 876.6 156.4 876.9 C155.8 877.2 155.1 877.5 154.5 877.7 C153.8 878 153.1 878.2 152.3 878.5 C151.6 878.7 150.8 878.9 150 879 C149.2 879.2 148.4 879.4 147.6 879.5 C146.8 879.6 146 879.7 145.1 879.7 C144.3 879.8 143.4 879.8 142.6 879.8 C141.8 879.8 140.9 879.8 140.1 879.7 C139.2 879.7 138.4 879.6 137.6 879.5 C136.8 879.4 136 879.2 135.2 879 C134.4 878.9 133.6 878.7 132.9 878.5 C132.1 878.2 131.4 878 130.7 877.7 C130.1 877.5 129.4 877.2 128.8 876.9 C128.2 876.6 127.6 876.2 127 875.9 C126.5 875.5 126 875.1 125.5 874.8 C125 874.4 124.6 874 124.2 873.6 C123.9 873.1 123.6 872.7 123.3 872.3 C123 871.8 122.8 871.4 122.6 870.9 C122.4 870.5 122.3 869.8 122.2 869.6" fill="none" stroke="#03035e" stroke-width="2.37" />
<ellipse cx="142.6" cy="862.1" rx="22" ry="11.8" fill="#fff" stroke-width="2.81"/>
<path d="M164.5 866.5 C164.4 866.8 164.2 867.5 164 868 C163.8 868.4 163.6 868.9 163.3 869.3 C163 869.8 162.6 870.2 162.2 870.7 C161.8 871.1 161.3 871.5 160.8 871.9 C160.3 872.3 159.8 872.7 159.2 873 C158.6 873.4 158 873.7 157.3 874.1 C156.7 874.4 156 874.7 155.2 875 C154.5 875.2 153.7 875.5 152.9 875.7 C152.1 875.9 151.3 876.1 150.5 876.3 C149.6 876.5 148.8 876.6 147.9 876.7 C147.1 876.9 146.2 877 145.3 877 C144.4 877.1 143.5 877.1 142.6 877.1 C141.7 877.1 140.8 877.1 139.9 877 C139 877 138.1 876.9 137.3 876.7 C136.4 876.6 135.6 876.5 134.7 876.3 C133.9 876.1 133.1 875.9 132.3 875.7 C131.5 875.5 130.7 875.2 130 875 C129.2 874.7 128.5 874.4 127.9 874.1 C127.2 873.7 126.6 873.4 126 873 C125.4 872.7 124.9 872.3 124.4 871.9 C123.9 871.5 123.4 871.1 123 870.7 C122.6 870.2 122.2 869.8 121.9 869.3 C121.6 868.9 121.4 868.4 121.2 868 C121 867.5 120.8 866.8 120.7 866.5" fill="none" stroke="#03035e" stroke-width="2.81" />
<path d="M128 864.5 C127.9 864.2 127.5 863.5 127.3 863 C127.2 862.6 127.1 862.1 127.1 861.6 C127.2 861.1 127.3 860.6 127.5 860.1 C127.7 859.6 128 859.2 128.4 858.7 C128.7 858.3 129.2 857.8 129.7 857.4 C130.2 857 130.9 856.6 131.5 856.3 C132.2 855.9 132.9 855.6 133.7 855.4 C134.5 855.1 135.3 854.8 136.2 854.6 C137 854.5 137.9 854.3 138.9 854.2 C139.8 854.1 140.7 854 141.7 854 C142.6 854 143.6 854 144.5 854.1 C145.4 854.2 146.3 854.3 147.2 854.5 C148.1 854.6 149 854.9 149.8 855.1 C150.6 855.4 151.3 855.7 152 856 C152.7 856.3 153.4 856.7 154 857.1 C154.5 857.4 155 857.9 155.5 858.3 C155.9 858.7 156.2 859.2 156.5 859.7 C156.7 860.1 156.9 860.6 157 861.1 C157.1 861.6 157.1 862.1 157 862.6 C156.9 863.1 156.7 863.6 156.4 864 C156.2 864.5 155.8 865 155.4 865.4 C154.9 865.8 154.4 866.2 153.8 866.6 C153.3 867 152.6 867.4 151.9 867.7 C151.2 868 150 868.4 149.6 868.5" fill="none" stroke="#03035e" stroke-width="2.37" />
<ellipse cx="142.6" cy="861.8" rx="9.9" ry="5" fill="none" stroke-width="3.4"/>
<path d="M69.6 868.6 L120.6 865.1" fill="none" stroke="#03035e" stroke-width="2.22" />
<path d="M69.6 868.1 L94.6 867.1" fill="none" stroke="#03035e" stroke-width="4.44" />
<path d="M74.6 871.6 L119.6 867.6" fill="none" stroke="#03035e" stroke-width="2.22" />
<path d="M101.6 854.1 L104.6 866.1 L108.6 858.1 L113.6 864.1 L119.6 858.1" fill="none" stroke="#03035e" stroke-width="3.26" />
<path d="M104.6 859.1 L117.6 856.1" fill="none" stroke="#03035e" stroke-width="2.66" />
<path d="M167.6 860.6 L218.6 855.6 L185.6 872.1" fill="none" stroke="#03035e" stroke-width="2.22" />
<path d="M169.6 863.1 L212.6 857.6" fill="none" stroke="#03035e" stroke-width="2.07" />
<path d="M218.6 855.6 L198.6 863.1 L185.6 872.1" fill="none" stroke="#03035e" stroke-width="2.96" />
<path d="M150.6 873.1 L165.6 902.1" fill="none" stroke="#03035e" stroke-width="2.52" />
<path d="M153.6 873.1 L168.1 901.1" fill="none" stroke="#03035e" stroke-width="2.52" />
<path d="M332.7 931.5 C332.5 931.9 331.8 933 331.2 933.7 C330.6 934.4 329.9 935.1 329.2 935.7 C328.4 936.4 327.5 937.1 326.6 937.7 C325.7 938.3 324.7 938.9 323.6 939.5 C322.5 940 321.4 940.6 320.2 941.1 C319 941.5 317.7 942 316.4 942.4 C315 942.9 313.7 943.3 312.2 943.6 C310.8 944 309.4 944.3 307.9 944.5 C306.4 944.8 304.8 945 303.3 945.2 C301.7 945.4 300.1 945.5 298.5 945.6 C297 945.7 295.3 945.8 293.7 945.8 C292.1 945.8 290.5 945.7 288.9 945.7 C287.4 945.6 285.8 945.4 284.2 945.3 C282.7 945.1 281.1 944.9 279.6 944.6 C278.1 944.3 276.6 944 275.2 943.7 C273.8 943.4 272.4 943 271.1 942.6 C269.7 942.1 268.4 941.7 267.2 941.2 C266 940.7 264.8 940.2 263.8 939.6 C262.7 939 261.6 938.5 260.7 937.8 C259.8 937.2 258.9 936.6 258.1 935.9 C257.3 935.3 256.6 934.6 256 933.9 C255.4 933.2 254.9 932.4 254.5 931.7 C254 931 253.7 930.2 253.5 929.5 C253.2 928.7 253.1 927.6 253 927.2" fill="none" stroke="#03035e" stroke-width="3.85" />
<path d="M306 945.6 C305.6 945.7 304.2 945.9 303.2 946 C302.3 946.1 301.3 946.2 300.4 946.3 C299.4 946.4 298.5 946.5 297.5 946.6 C296.5 946.6 295.5 946.7 294.6 946.7 C293.6 946.7 292.6 946.7 291.6 946.7 C290.7 946.7 289.7 946.7 288.7 946.6 C287.7 946.6 286.8 946.5 285.8 946.4 C284.8 946.4 283.9 946.3 282.9 946.2 C282 946 281.1 945.9 280.1 945.8 C279.2 945.6 278.3 945.5 277.4 945.3 C276.5 945.1 275.6 944.9 274.7 944.7 C273.8 944.5 273 944.3 272.1 944 C271.3 943.8 270.5 943.6 269.7 943.3 C268.9 943 268.1 942.7 267.4 942.4 C266.6 942.1 265.9 941.8 265.2 941.5 C264.5 941.2 263.8 940.9 263.1 940.5 C262.5 940.2 261.8 939.8 261.3 939.5 C260.7 939.1 260.1 938.7 259.5 938.3 C259 937.9 258.5 937.5 258 937.1 C257.5 936.7 257.1 936.3 256.7 935.9 C256.3 935.5 255.9 935.1 255.5 934.6 C255.2 934.2 254.9 933.8 254.6 933.3 C254.3 932.9 254.1 932.4 253.9 932 C253.7 931.5 253.5 930.8 253.4 930.6" fill="none" stroke="#03035e" stroke-width="4.44" />
<path d="M334.5 930.1 C334.5 930.2 334.4 930.5 334.3 930.6 C334.2 930.8 334.2 931 334.1 931.1 C334 931.3 333.9 931.5 333.8 931.6 C333.7 931.8 333.6 932 333.5 932.1 C333.4 932.3 333.3 932.5 333.1 932.6 C333 932.8 332.9 932.9 332.8 933.1 C332.6 933.3 332.5 933.4 332.3 933.6 C332.2 933.7 332.1 933.9 331.9 934.1 C331.8 934.2 331.6 934.4 331.4 934.5 C331.3 934.7 331.1 934.8 330.9 935 C330.8 935.1 330.6 935.3 330.4 935.5 C330.2 935.6 330 935.8 329.8 935.9 C329.7 936 329.5 936.2 329.3 936.3 C329.1 936.5 328.8 936.6 328.6 936.8 C328.4 936.9 328.2 937.1 328 937.2 C327.8 937.3 327.5 937.5 327.3 937.6 C327.1 937.8 326.9 937.9 326.6 938 C326.4 938.2 326.1 938.3 325.9 938.4 C325.6 938.6 325.4 938.7 325.1 938.8 C324.9 938.9 324.6 939.1 324.4 939.2 C324.1 939.3 323.8 939.4 323.6 939.6 C323.3 939.7 323 939.8 322.7 939.9 C322.5 940 322.2 940.2 321.9 940.3 C321.6 940.4 321.2 940.5 321 940.6" fill="none" stroke="#03035e" stroke-width="3.85" />
<path d="M328.5 934.5 C328.2 934.8 327.5 935.5 326.9 935.9 C326.4 936.3 325.7 936.8 325.1 937.2 C324.4 937.6 323.7 938 323 938.4 C322.3 938.8 321.5 939.2 320.7 939.5 C319.9 939.9 319 940.2 318.1 940.6 C317.2 940.9 316.3 941.2 315.4 941.5 C314.4 941.8 313.5 942 312.5 942.3 C311.5 942.5 310.4 942.7 309.4 942.9 C308.4 943.1 307.3 943.3 306.2 943.5 C305.2 943.6 304.1 943.8 302.9 943.9 C301.8 944 300.7 944.1 299.6 944.2 C298.5 944.2 297.3 944.3 296.2 944.3 C295.1 944.3 293.9 944.3 292.8 944.3 C291.7 944.3 290.5 944.2 289.4 944.2 C288.3 944.1 287.2 944 286.1 943.9 C285 943.8 283.9 943.6 282.8 943.5 C281.7 943.3 280.7 943.1 279.6 942.9 C278.6 942.7 277.6 942.5 276.6 942.2 C275.6 942 274.6 941.7 273.7 941.4 C272.7 941.1 271.8 940.8 270.9 940.5 C270.1 940.2 269.2 939.8 268.4 939.5 C267.6 939.1 266.8 938.8 266.1 938.4 C265.3 938 264.6 937.6 264 937.1 C263.3 936.7 262.5 936.1 262.2 935.8" fill="none" stroke="#03035e" stroke-width="2.66" />
<path d="M324.8 929.8 C324.6 930 324 930.7 323.4 931.1 C322.9 931.6 322.4 932 321.7 932.4 C321.1 932.9 320.4 933.3 319.7 933.6 C319 934 318.2 934.4 317.4 934.8 C316.6 935.1 315.7 935.5 314.8 935.8 C313.9 936.1 313 936.4 312 936.7 C311.1 936.9 310 937.2 309 937.4 C308 937.6 306.9 937.8 305.8 938 C304.7 938.2 303.6 938.4 302.5 938.5 C301.4 938.6 300.2 938.7 299.1 938.8 C297.9 938.9 296.8 939 295.6 939 C294.4 939 293.3 939 292.1 939 C290.9 939 289.8 938.9 288.6 938.9 C287.4 938.8 286.3 938.7 285.2 938.6 C284 938.4 282.9 938.3 281.8 938.1 C280.7 937.9 279.6 937.7 278.6 937.5 C277.6 937.3 276.5 937.1 275.6 936.8 C274.6 936.5 273.6 936.2 272.7 935.9 C271.8 935.6 270.9 935.3 270.1 934.9 C269.3 934.6 268.5 934.2 267.7 933.8 C267 933.5 266.3 933.1 265.7 932.7 C265 932.2 264.4 931.8 263.9 931.4 C263.4 930.9 262.9 930.5 262.5 930 C262.1 929.6 261.6 928.8 261.4 928.6" fill="none" stroke="#03035e" stroke-width="1.92" />
<path d="M253 927.2 C253 927.1 253 926.9 253 926.7 C253 926.6 253 926.4 253 926.3 C253 926.1 253 925.9 253 925.8 C253 925.6 253 925.5 253.1 925.3 C253.1 925.2 253.1 925 253.1 924.8 C253.2 924.7 253.2 924.5 253.2 924.4 C253.3 924.2 253.3 924 253.4 923.9 C253.4 923.7 253.5 923.6 253.5 923.4 C253.6 923.3 253.6 923.1 253.7 923 C253.8 922.8 253.8 922.6 253.9 922.5 C254 922.3 254 922.2 254.1 922 C254.2 921.9 254.3 921.7 254.4 921.6 C254.4 921.4 254.5 921.3 254.6 921.1 C254.7 921 254.8 920.8 254.9 920.6 C255 920.5 255.1 920.3 255.2 920.2 C255.4 920 255.5 919.9 255.6 919.7 C255.7 919.6 255.8 919.5 256 919.3 C256.1 919.2 256.2 919 256.3 918.9 C256.5 918.7 256.6 918.6 256.8 918.4 C256.9 918.3 257 918.1 257.2 918 C257.3 917.9 257.5 917.7 257.6 917.6 C257.8 917.4 258 917.3 258.1 917.2 C258.3 917 258.5 916.9 258.6 916.8 C258.8 916.6 259.1 916.4 259.1 916.3" fill="none" stroke="#03035e" stroke-width="2.22" />
<path d="M329.4 917.5 C329.4 917.6 329.7 917.9 329.9 918 C330.1 918.2 330.3 918.4 330.5 918.6 C330.6 918.8 330.8 919 331 919.1 C331.1 919.3 331.3 919.5 331.4 919.7 C331.6 919.9 331.7 920.1 331.9 920.3 C332 920.5 332.2 920.6 332.3 920.8 C332.4 921 332.5 921.2 332.6 921.4 C332.7 921.6 332.9 921.8 333 922 C333.1 922.2 333.1 922.4 333.2 922.6 C333.3 922.8 333.4 923 333.5 923.2 C333.5 923.4 333.6 923.6 333.7 923.8 C333.7 924 333.8 924.2 333.8 924.4 C333.9 924.6 333.9 924.8 334 925 C334 925.2 334 925.4 334 925.6 C334.1 925.8 334.1 926 334.1 926.2 C334.1 926.4 334.1 926.6 334.1 926.8 C334.1 927 334.1 927.2 334.1 927.4 C334 927.6 334 927.8 334 928 C334 928.2 333.9 928.4 333.9 928.6 C333.8 928.8 333.8 929 333.7 929.2 C333.7 929.4 333.6 929.6 333.5 929.8 C333.5 930 333.4 930.2 333.3 930.3 C333.2 930.5 333.1 930.7 333 930.9 C332.9 931.1 332.8 931.4 332.7 931.5" fill="none" stroke="#03035e" stroke-width="2.37" />
<path d="M329.3 920.7 C329.3 920.7 329.5 921 329.6 921.1 C329.7 921.3 329.8 921.5 329.9 921.6 C330.1 921.8 330.1 921.9 330.2 922.1 C330.3 922.3 330.4 922.4 330.5 922.6 C330.6 922.7 330.7 922.9 330.7 923.1 C330.8 923.2 330.9 923.4 330.9 923.6 C331 923.7 331.1 923.9 331.1 924.1 C331.2 924.2 331.2 924.4 331.3 924.5 C331.3 924.7 331.3 924.9 331.4 925 C331.4 925.2 331.4 925.4 331.4 925.5 C331.5 925.7 331.5 925.9 331.5 926 C331.5 926.2 331.5 926.4 331.5 926.5 C331.5 926.7 331.5 926.9 331.5 927 C331.5 927.2 331.5 927.4 331.4 927.5 C331.4 927.7 331.4 927.9 331.4 928 C331.3 928.2 331.3 928.4 331.3 928.5 C331.2 928.7 331.2 928.9 331.1 929 C331.1 929.2 331 929.4 330.9 929.5 C330.9 929.7 330.8 929.8 330.7 930 C330.7 930.2 330.6 930.3 330.5 930.5 C330.4 930.7 330.3 930.8 330.2 931 C330.1 931.1 330.1 931.3 329.9 931.5 C329.8 931.6 329.7 931.8 329.6 931.9 C329.5 932.1 329.3 932.3 329.3 932.4" fill="none" stroke="#03035e" stroke-width="2.07" />
<path d="M254.7 928 L257.8 938.4" stroke-width="2.96"/>
<path d="M261.2 933.2 L264.3 943.6" stroke-width="2.66"/>
<path d="M273.3 937.8 L276.4 948.2" stroke-width="2.37"/>
<path d="M311.3 937.8 L314.5 948.2" stroke-width="2.37"/>
<path d="M324.3 932.7 L327.4 943.1" stroke-width="2.96"/>
<path d="M329.9 928 L333 938.4" stroke-width="2.96"/>
<path d="M332.5 923.5 L335.6 933.9" stroke-width="2.66"/>
<path d="M311.3 912 L311.3 920.8 L311.1 922.2 L310.6 923.5 L309.8 924.8 L308.7 926 L307.4 927.2 L305.8 928.2 L303.9 929.1 L301.9 929.9 L299.7 930.5 L297.4 930.9 L294.9 931.2 L292.5 931.3 L290.1 931.2 L287.6 930.9 L285.3 930.5 L283.1 929.9 L281.1 929.1 L279.2 928.2 L277.6 927.2 L276.3 926 L275.2 924.8 L274.4 923.5 L273.9 922.2 L273.7 920.8 L273.7 912" fill="#fff" stroke="#03035e" stroke-width="2.22" />
<path d="M313.7 917.7 C313.6 917.9 313.5 918.6 313.3 919.1 C313.1 919.6 312.9 920 312.6 920.5 C312.3 920.9 312 921.4 311.6 921.8 C311.2 922.2 310.8 922.7 310.3 923.1 C309.8 923.5 309.3 923.9 308.7 924.2 C308.1 924.6 307.5 924.9 306.9 925.3 C306.2 925.6 305.5 925.9 304.8 926.2 C304.1 926.4 303.4 926.7 302.6 926.9 C301.8 927.1 301 927.4 300.2 927.5 C299.4 927.7 298.6 927.8 297.7 928 C296.9 928.1 296 928.2 295.1 928.2 C294.3 928.3 293.4 928.3 292.5 928.3 C291.6 928.3 290.7 928.3 289.9 928.2 C289 928.2 288.1 928.1 287.3 928 C286.4 927.8 285.6 927.7 284.8 927.5 C284 927.4 283.2 927.1 282.4 926.9 C281.6 926.7 280.9 926.4 280.2 926.2 C279.5 925.9 278.8 925.6 278.1 925.3 C277.5 924.9 276.9 924.6 276.3 924.2 C275.7 923.9 275.2 923.5 274.7 923.1 C274.2 922.7 273.8 922.2 273.4 921.8 C273 921.4 272.7 920.9 272.4 920.5 C272.1 920 271.9 919.6 271.7 919.1 C271.5 918.6 271.4 917.9 271.3 917.7" fill="none" stroke="#03035e" stroke-width="2.37" />
<ellipse cx="292.5" cy="909.9" rx="22.9" ry="12.3" fill="#fff" stroke-width="2.81"/>
<path d="M315.3 914.5 C315.2 914.8 315 915.5 314.8 916 C314.6 916.5 314.3 917 314 917.4 C313.7 917.9 313.3 918.4 312.9 918.8 C312.5 919.2 312 919.7 311.5 920.1 C310.9 920.5 310.4 920.9 309.8 921.3 C309.2 921.7 308.5 922 307.8 922.3 C307.1 922.7 306.4 923 305.6 923.3 C304.9 923.6 304.1 923.8 303.2 924.1 C302.4 924.3 301.6 924.5 300.7 924.7 C299.8 924.9 298.9 925 298 925.1 C297.1 925.3 296.2 925.3 295.3 925.4 C294.4 925.5 293.4 925.5 292.5 925.5 C291.6 925.5 290.6 925.5 289.7 925.4 C288.8 925.3 287.9 925.3 287 925.1 C286.1 925 285.2 924.9 284.3 924.7 C283.4 924.5 282.6 924.3 281.8 924.1 C280.9 923.8 280.1 923.6 279.4 923.3 C278.6 923 277.9 922.7 277.2 922.3 C276.5 922 275.8 921.7 275.2 921.3 C274.6 920.9 274.1 920.5 273.5 920.1 C273 919.7 272.5 919.2 272.1 918.8 C271.7 918.4 271.3 917.9 271 917.4 C270.7 917 270.4 916.5 270.2 916 C270 915.5 269.8 914.8 269.7 914.5" fill="none" stroke="#03035e" stroke-width="2.81" />
<path d="M277.4 912.4 C277.2 912.1 276.8 911.4 276.6 910.9 C276.5 910.4 276.4 909.9 276.4 909.4 C276.5 908.8 276.6 908.3 276.8 907.8 C277 907.3 277.3 906.8 277.7 906.4 C278.1 905.9 278.6 905.5 279.1 905 C279.7 904.6 280.3 904.2 281 903.9 C281.7 903.5 282.4 903.2 283.2 902.9 C284 902.6 284.9 902.4 285.8 902.2 C286.7 901.9 287.7 901.8 288.6 901.7 C289.6 901.6 290.6 901.5 291.5 901.5 C292.5 901.5 293.5 901.5 294.5 901.6 C295.4 901.7 296.4 901.8 297.3 902 C298.2 902.2 299.1 902.4 300 902.6 C300.8 902.9 301.6 903.2 302.3 903.5 C303.1 903.9 303.7 904.3 304.3 904.7 C304.9 905.1 305.4 905.5 305.9 906 C306.3 906.4 306.7 906.9 306.9 907.4 C307.2 907.9 307.4 908.4 307.5 908.9 C307.6 909.4 307.6 909.9 307.5 910.4 C307.4 910.9 307.2 911.4 306.9 911.9 C306.6 912.4 306.2 912.9 305.8 913.3 C305.3 913.8 304.8 914.2 304.2 914.6 C303.6 915 302.9 915.4 302.2 915.7 C301.4 916 300.2 916.5 299.8 916.6" fill="none" stroke="#03035e" stroke-width="2.37" />
<ellipse cx="292.5" cy="909.6" rx="10.3" ry="5.2" fill="none" stroke-width="3.4"/>
<path d="M216.6 916.7 L269.6 913" fill="none" stroke="#03035e" stroke-width="2.22" />
<path d="M216.6 916.1 L242.6 915.1" fill="none" stroke="#03035e" stroke-width="4.44" />
<path d="M221.8 919.8 L268.6 915.6" fill="none" stroke="#03035e" stroke-width="2.22" />
<path d="M249.9 901.6 L253 914.1 L257.1 905.7 L262.3 912 L268.6 905.7" fill="none" stroke="#03035e" stroke-width="3.26" />
<path d="M253 906.8 L266.5 903.7" fill="none" stroke="#03035e" stroke-width="2.66" />
<path d="M318.5 908.3 L371.5 903.1 L337.2 920.3" fill="none" stroke="#03035e" stroke-width="2.22" />
<path d="M320.6 910.9 L365.3 905.2" fill="none" stroke="#03035e" stroke-width="2.07" />
<path d="M371.5 903.1 L350.7 910.9 L337.2 920.3" fill="none" stroke="#03035e" stroke-width="2.96" />
<path d="M271.2 872.5 L286.8 899" fill="none" stroke="#03035e" stroke-width="2.52" />
<path d="M273.3 871.4 L288.9 898.5" fill="none" stroke="#03035e" stroke-width="2.52" />
<path d="M274.8 887 L280 902.6" fill="none" stroke="#03035e" stroke-width="2.96" />
<path d="M275.9 881.8 L284.2 896.4" fill="none" stroke="#03035e" stroke-width="3.85" />
<path d="M300.8 921.3 L316.4 951.5" fill="none" stroke="#03035e" stroke-width="2.52" />
<path d="M303.9 921.3 L319 950.5" fill="none" stroke="#03035e" stroke-width="2.52" />
<ellipse cx="461.2" cy="893.2" rx="12.3" ry="7" fill="none" stroke-width="2.22"/>
<path d="M473.5 896.6 C473.5 896.7 473.3 897.1 473.2 897.4 C473.1 897.7 472.9 897.9 472.7 898.2 C472.5 898.4 472.3 898.7 472.1 898.9 C471.9 899.1 471.6 899.4 471.3 899.6 C471 899.8 470.7 900 470.4 900.2 C470.1 900.4 469.8 900.6 469.4 900.8 C469.1 900.9 468.7 901.1 468.3 901.2 C467.9 901.4 467.5 901.5 467.1 901.7 C466.7 901.8 466.2 901.9 465.8 902 C465.4 902.1 464.9 902.1 464.5 902.2 C464 902.3 463.6 902.3 463.1 902.4 C462.6 902.4 462.2 902.4 461.7 902.4 C461.2 902.4 460.8 902.4 460.3 902.4 C459.8 902.3 459.4 902.3 458.9 902.2 C458.5 902.1 458 902.1 457.6 902 C457.2 901.9 456.7 901.8 456.3 901.7 C455.9 901.5 455.5 901.4 455.1 901.2 C454.7 901.1 454.3 900.9 454 900.8 C453.6 900.6 453.3 900.4 453 900.2 C452.7 900 452.4 899.8 452.1 899.6 C451.8 899.4 451.5 899.1 451.3 898.9 C451.1 898.7 450.9 898.4 450.7 898.2 C450.5 897.9 450.3 897.7 450.2 897.4 C450.1 897.1 449.9 896.7 449.9 896.6" fill="none" stroke="#03035e" stroke-width="1.92" />
<path d="M475.2 877.2 L451.2 902.2" stroke-width="2.07"/>
<path d="M477.7 878.2 L463.2 892.2" stroke-width="1.92"/>
<path d="M471.2 898.2 L476.7 909.7" stroke-width="2.22"/>
<ellipse cx="444.5" cy="910.8" rx="12.3" ry="7" fill="none" stroke-width="2.22"/>
<path d="M456.8 914.2 C456.8 914.3 456.6 914.7 456.5 915 C456.4 915.3 456.2 915.5 456 915.8 C455.8 916 455.6 916.3 455.4 916.5 C455.2 916.7 454.9 917 454.6 917.2 C454.3 917.4 454 917.6 453.7 917.8 C453.4 918 453.1 918.2 452.7 918.4 C452.4 918.5 452 918.7 451.6 918.8 C451.2 919 450.8 919.1 450.4 919.3 C450 919.4 449.5 919.5 449.1 919.6 C448.7 919.7 448.2 919.7 447.8 919.8 C447.3 919.9 446.9 919.9 446.4 920 C445.9 920 445.5 920 445 920 C444.5 920 444.1 920 443.6 920 C443.1 919.9 442.7 919.9 442.2 919.8 C441.8 919.7 441.3 919.7 440.9 919.6 C440.5 919.5 440 919.4 439.6 919.3 C439.2 919.1 438.8 919 438.4 918.8 C438 918.7 437.6 918.5 437.3 918.4 C436.9 918.2 436.6 918 436.3 917.8 C436 917.6 435.7 917.4 435.4 917.2 C435.1 917 434.8 916.7 434.6 916.5 C434.4 916.3 434.2 916 434 915.8 C433.8 915.5 433.6 915.3 433.5 915 C433.4 914.7 433.2 914.3 433.2 914.2" fill="none" stroke="#03035e" stroke-width="1.92" />
<path d="M458.5 894.8 L434.5 919.8" stroke-width="2.07"/>
<path d="M461 895.8 L446.5 909.8" stroke-width="1.92"/>
<path d="M454.5 915.8 L460 927.3" stroke-width="2.22"/>
<ellipse cx="427.8" cy="928.4" rx="12.3" ry="7" fill="none" stroke-width="2.22"/>
<path d="M440.1 931.8 C440.1 931.9 439.9 932.3 439.8 932.6 C439.7 932.9 439.5 933.1 439.3 933.4 C439.1 933.6 438.9 933.9 438.7 934.1 C438.5 934.3 438.2 934.6 437.9 934.8 C437.6 935 437.3 935.2 437 935.4 C436.7 935.6 436.4 935.8 436 936 C435.7 936.1 435.3 936.3 434.9 936.4 C434.5 936.6 434.1 936.7 433.7 936.9 C433.3 937 432.8 937.1 432.4 937.2 C432 937.3 431.5 937.3 431.1 937.4 C430.6 937.5 430.2 937.5 429.7 937.6 C429.2 937.6 428.8 937.6 428.3 937.6 C427.8 937.6 427.4 937.6 426.9 937.6 C426.4 937.5 426 937.5 425.5 937.4 C425.1 937.3 424.6 937.3 424.2 937.2 C423.8 937.1 423.3 937 422.9 936.9 C422.5 936.7 422.1 936.6 421.7 936.4 C421.3 936.3 420.9 936.1 420.6 936 C420.2 935.8 419.9 935.6 419.6 935.4 C419.3 935.2 419 935 418.7 934.8 C418.4 934.6 418.1 934.3 417.9 934.1 C417.7 933.9 417.5 933.6 417.3 933.4 C417.1 933.1 416.9 932.9 416.8 932.6 C416.7 932.3 416.5 931.9 416.5 931.8" fill="none" stroke="#03035e" stroke-width="1.92" />
<path d="M441.8 912.4 L417.8 937.4" stroke-width="2.07"/>
<path d="M444.3 913.4 L429.8 927.4" stroke-width="1.92"/>
<path d="M437.8 933.4 L443.3 944.9" stroke-width="2.22"/>
<ellipse cx="410.2" cy="946" rx="12.3" ry="7" fill="none" stroke-width="2.22"/>
<path d="M422.5 949.4 C422.5 949.5 422.3 949.9 422.2 950.2 C422.1 950.5 421.9 950.7 421.7 951 C421.5 951.2 421.3 951.5 421.1 951.7 C420.9 951.9 420.6 952.2 420.3 952.4 C420 952.6 419.7 952.8 419.4 953 C419.1 953.2 418.8 953.4 418.4 953.6 C418.1 953.7 417.7 953.9 417.3 954 C416.9 954.2 416.5 954.3 416.1 954.5 C415.7 954.6 415.2 954.7 414.8 954.8 C414.4 954.9 413.9 954.9 413.5 955 C413 955.1 412.6 955.1 412.1 955.2 C411.6 955.2 411.2 955.2 410.7 955.2 C410.2 955.2 409.8 955.2 409.3 955.2 C408.8 955.1 408.4 955.1 407.9 955 C407.5 954.9 407 954.9 406.6 954.8 C406.2 954.7 405.7 954.6 405.3 954.5 C404.9 954.3 404.5 954.2 404.1 954 C403.7 953.9 403.3 953.7 403 953.6 C402.6 953.4 402.3 953.2 402 953 C401.7 952.8 401.4 952.6 401.1 952.4 C400.8 952.2 400.5 951.9 400.3 951.7 C400.1 951.5 399.9 951.2 399.7 951 C399.5 950.7 399.3 950.5 399.2 950.2 C399.1 949.9 398.9 949.5 398.9 949.4" fill="none" stroke="#03035e" stroke-width="1.92" />
<path d="M424.2 930 L400.2 955" stroke-width="2.07"/>
<path d="M426.7 931 L412.2 945" stroke-width="1.92"/>
<path d="M420.2 951 L425.7 962.5" stroke-width="2.22"/>
<path d="M398 937 L397 950" fill="none" stroke="#03035e" stroke-width="2.22" />
<path d="M7.8 762 L120 759.5 L214 754.2 L380 805.5 L504.4 841.6 L504.4 861 L449 868 L334.3 882.6 L269.8 890.4 L7.8 808.9 Z" fill="#d3d3dc" stroke="#03035e" stroke-width="1.78" />
<path d="M7.8 776.7 L93.8 776.7 L109.4 770.8 L125 769.8 L183.6 773.4 L262 781 L281.6 785 L297.2 789.8 L307 798.6 L320.6 801.6 L336.3 803.5 L351.9 809.4 L363.6 816.2 L390.1 825 L413.6 829.8 L433.1 833.8 L448.7 837.7 L476 846.4 L440 850 L394 862 L355.8 868 L328.4 869.9 L308.9 873.8 L228.8 863.1 L200 854.8 L181.6 849.9 L168 842.1 L136.7 831.4 L109.4 825.5 L84 819.6 L74.2 810.9 L39 800.1 L7.8 792.3 Z" fill="#c9c9d4" stroke="none" stroke-width="0.1" />
<path d="M33.2 694.6 L190 746.3 L380 805.5 L504.4 841.6" fill="none" stroke="#03035e" stroke-width="2.66" />
<path d="M7.8 692.7 L26.4 698.6" fill="none" stroke="#03035e" stroke-width="2.66" />
<path d="M7.8 808.9 L269.8 890.4" fill="none" stroke="#03035e" stroke-width="2.37" />
<path d="M7.8 762 L120 759.5 L214 754.5" fill="none" stroke="#03035e" stroke-width="1.33" />
<path d="M7.8 776.7 C16.5 776.8 45.7 777.6 60 777.5 C74.3 777.4 85.6 777.3 93.8 776.2 C102 775.1 104.2 771.9 109.4 770.8 C114.6 769.7 112.6 769 125 769.4 C137.4 769.8 173.8 772.7 183.6 773.4" fill="none" stroke="#03035e" stroke-width="2.96" />
<path d="M93.8 777.6 C96.5 776.7 104.8 773.5 110 772.4 C115.2 771.3 122.5 771.2 125 771" fill="none" stroke="#03035e" stroke-width="1.48" />
<path d="M7.8 792.3 C13 793.6 27.9 797 39 800.1 C50.1 803.2 66.7 807.6 74.2 810.9 C81.7 814.1 78.1 817.2 84 819.6 C89.9 822 100.6 823.5 109.4 825.5 C118.2 827.5 126.9 828.6 136.7 831.4 C146.5 834.2 160.5 839 168 842.1 C175.5 845.2 176.3 847.8 181.6 849.9 C186.9 852 192.1 852.6 200 854.8 C207.9 857 224 861.7 228.8 863.1" fill="none" stroke="#03035e" stroke-width="3.26" />
<path d="M74.2 812.4 C75.7 813.8 77.1 818.5 83 821 C88.9 823.5 105 826.2 109.4 827.2" fill="none" stroke="#03035e" stroke-width="1.48" />
<path d="M168 843.6 C170.2 844.9 175.7 849.5 181 851.6 C186.3 853.8 196.8 855.7 200 856.5" fill="none" stroke="#03035e" stroke-width="1.48" />
<path d="M262 781 C265.3 781.7 275.7 783.5 281.6 785 C287.5 786.5 293 787.5 297.2 789.8 C301.4 792.1 303.1 796.6 307 798.6 C310.9 800.6 315.7 800.8 320.6 801.6 C325.5 802.4 331.1 802.2 336.3 803.5 C341.5 804.8 347.3 807.3 351.9 809.4 C356.4 811.5 357.2 813.6 363.6 816.2 C370 818.8 381.8 822.7 390.1 825 C398.4 827.3 406.4 828.3 413.6 829.8 C420.8 831.3 427.2 832.5 433.1 833.8 C439 835.1 441.6 835.6 448.7 837.7 C455.8 839.8 471.4 845 476 846.4" fill="none" stroke="#03035e" stroke-width="3.26" />
<path d="M297.2 791.2 C298.7 792.7 302.1 798 306 800 C309.9 802 318.2 802.7 320.6 803.2" fill="none" stroke="#03035e" stroke-width="1.48" />
<path d="M351.9 810.9 C353.8 812 356.6 815.2 363 817.8 C369.4 820.4 385.6 825.1 390.1 826.6" fill="none" stroke="#03035e" stroke-width="1.48" />
<path d="M480 848 L504 843" fill="none" stroke="#03035e" stroke-width="1.92" />
<path d="M482 851.5 L504 849" fill="none" stroke="#03035e" stroke-width="2.22" />
<path d="M486 855 L504 853" fill="none" stroke="#03035e" stroke-width="1.78" />
<path d="M460.4 857.2 L488 855.5" fill="none" stroke="#03035e" stroke-width="2.07" />
<path d="M225.5 770.4 C227.6 769.7 227 770.4 228.7 770.6 C230.5 770.9 234.2 771.3 236.1 771.8 C238 772.2 240 772.9 240 773.4 C240 774 238.3 774.6 236.1 775.1 C233.9 775.6 230.1 776 226.8 776.4 C223.5 776.8 219.2 777.4 216.2 777.5 C213.2 777.7 210.3 777.7 208.9 777.5 C207.4 777.4 207.2 777.1 207.6 776.7 C208.1 776.3 210.1 775.7 211.6 775.3 C213 775 213.9 775.6 216.2 774.8 C218.5 773.9 223.4 771 225.5 770.4 Z" fill="#f3f3f7" stroke="#03035e" stroke-width="2.29" />
<path d="M222.2 768.1 C224.3 768.3 224.6 769.6 225.5 770.4 C226.4 771.1 227.7 772.2 227.5 772.8 C227.3 773.5 226 773.9 224.1 774.2 C222.2 774.5 219.1 774.7 216.2 774.8 C213.3 774.8 209.5 774.8 206.9 774.5 C204.4 774.2 201.6 773.6 201 773.1 C200.3 772.7 201.8 772.2 203 771.8 C204.2 771.3 206.7 771 208.3 770.6 C209.9 770.2 210.3 769.8 212.6 769.4 C214.9 769 220 768 222.2 768.1 Z" fill="#f6f6f9" stroke="#03035e" stroke-width="2.29" />
<path d="M207.2 770.4 C207.2 770 208.8 769.5 210.3 769.1 C211.9 768.8 214.7 768.5 216.5 768.5 C218.4 768.5 220.5 768.7 221.2 769 C221.8 769.4 221.4 770 220.5 770.4 C219.6 770.7 217.7 771.2 216 771.4 C214.3 771.6 211.8 771.8 210.3 771.7 C208.9 771.5 207.2 770.9 207.2 770.4 Z" fill="#f8f8fb" stroke="#03035e" stroke-width="2.29" />
<path d="M212.6 768.1 L212.6 764.1 C217.6 764.9 221.5 766.8 222.4 768.3 Z" fill="#f6f6f9" stroke-width="2.29"/>
<path d="M257.5 813.1 C259.6 812.4 259 813.1 260.7 813.3 C262.5 813.6 266.2 814 268.1 814.5 C270 814.9 272 815.6 272 816.1 C272 816.7 270.3 817.3 268.1 817.8 C265.9 818.3 262.1 818.7 258.8 819.1 C255.5 819.5 251.2 820.1 248.2 820.2 C245.2 820.4 242.3 820.4 240.9 820.2 C239.4 820.1 239.2 819.8 239.6 819.4 C240.1 819 242.1 818.4 243.6 818 C245 817.7 245.9 818.3 248.2 817.5 C250.5 816.6 255.4 813.7 257.5 813.1 Z" fill="#f3f3f7" stroke="#03035e" stroke-width="2.29" />
<path d="M254.2 810.8 C256.3 811 256.6 812.3 257.5 813.1 C258.4 813.8 259.7 814.9 259.5 815.5 C259.3 816.2 258 816.6 256.1 816.9 C254.2 817.2 251.1 817.4 248.2 817.5 C245.3 817.5 241.5 817.5 238.9 817.2 C236.4 816.9 233.6 816.3 233 815.8 C232.3 815.4 233.8 814.9 235 814.5 C236.2 814 238.7 813.7 240.3 813.3 C241.9 812.9 242.3 812.5 244.6 812.1 C246.9 811.7 252 810.7 254.2 810.8 Z" fill="#f6f6f9" stroke="#03035e" stroke-width="2.29" />
<path d="M239.2 813.1 C239.2 812.7 240.8 812.2 242.3 811.8 C243.9 811.5 246.7 811.2 248.5 811.2 C250.4 811.2 252.5 811.4 253.2 811.7 C253.8 812.1 253.4 812.7 252.5 813.1 C251.6 813.4 249.7 813.9 248 814.1 C246.3 814.3 243.8 814.5 242.3 814.4 C240.9 814.2 239.2 813.6 239.2 813.1 Z" fill="#f8f8fb" stroke="#03035e" stroke-width="2.29" />
<path d="M244.6 810.8 L244.6 806.8 C249.6 807.6 253.5 809.5 254.4 811 Z" fill="#f6f6f9" stroke-width="2.29"/>
<path d="M283 869.9 C285.1 869.2 284.5 869.9 286.2 870.1 C288 870.4 291.7 870.8 293.6 871.3 C295.5 871.7 297.5 872.4 297.5 872.9 C297.5 873.5 295.8 874.1 293.6 874.6 C291.4 875.1 287.6 875.5 284.3 875.9 C281 876.3 276.7 876.9 273.7 877 C270.7 877.2 267.8 877.2 266.4 877 C264.9 876.9 264.7 876.6 265.1 876.2 C265.6 875.8 267.6 875.2 269.1 874.8 C270.5 874.5 271.4 875.1 273.7 874.3 C276 873.4 280.9 870.5 283 869.9 Z" fill="#f3f3f7" stroke="#03035e" stroke-width="2.29" />
<path d="M279.7 867.6 C281.8 867.8 282.1 869.1 283 869.9 C283.9 870.6 285.2 871.7 285 872.3 C284.8 873 283.5 873.4 281.6 873.7 C279.7 874 276.6 874.2 273.7 874.3 C270.8 874.3 267 874.3 264.4 874 C261.9 873.7 259.1 873.1 258.5 872.6 C257.8 872.2 259.3 871.7 260.5 871.3 C261.7 870.8 264.2 870.5 265.8 870.1 C267.4 869.7 267.8 869.3 270.1 868.9 C272.4 868.5 277.5 867.5 279.7 867.6 Z" fill="#f6f6f9" stroke="#03035e" stroke-width="2.29" />
<path d="M264.7 869.9 C264.7 869.5 266.3 869 267.8 868.6 C269.4 868.3 272.2 868 274 868 C275.9 868 278 868.2 278.7 868.5 C279.3 868.9 278.9 869.5 278 869.9 C277.1 870.2 275.2 870.7 273.5 870.9 C271.8 871.1 269.3 871.3 267.8 871.2 C266.4 871 264.7 870.4 264.7 869.9 Z" fill="#f8f8fb" stroke="#03035e" stroke-width="2.29" />
<path d="M270.1 867.6 L270.1 863.6 C275.1 864.4 279 866.3 279.9 867.8 Z" fill="#f6f6f9" stroke-width="2.29"/>
<path d="M117.2 738.6 L121.1 740.9 L134.8 752.7 L144.1 759.1 L146.9 763 L142.2 765.9 L133.8 764.4 L122.1 756.6 L115.2 750.3 Z" fill="#fefefe" stroke="none" stroke-width="0.1" />
<path d="M68.4 710.9 C70 711.9 73.9 714.9 78.1 717.1 C82.4 719.3 88.5 721.6 93.8 723.9 C99 726.3 104.8 728.3 109.4 731.2 C113.9 734 116.9 737.4 121.1 740.9 C125.3 744.5 130.9 749.6 134.8 752.7 C138.6 755.7 142.1 757.4 144.1 759.1 C146.2 760.8 147.2 761.9 146.9 763 C146.5 764.1 144.4 765.7 142.2 765.9 C140 766.2 137.1 765.9 133.8 764.4 C130.4 762.8 125.6 759.3 122.1 756.6 C118.6 753.8 115.1 750.5 112.9 748 C110.6 745.5 109.3 742.6 108.6 741.5" fill="none" stroke="#03035e" stroke-width="2.37" />
<path d="M108.6 741.5 C109.3 743.4 111.3 749.6 112.9 752.7 C114.5 755.7 117.1 758.5 118 759.7" fill="none" stroke="#03035e" stroke-width="2.22" />
<path d="M77.1 740.9 C78.6 742.4 81.2 747.2 85.9 749.7 C90.7 752.3 102.2 755.1 105.5 756.2" fill="none" stroke="#03035e" stroke-width="2.22" />
<path d="M14.6 725.9 C19.7 727.9 38.6 734.4 44.9 737.8 C51.3 741.2 50.1 742.7 52.7 746.4 C55.3 750.1 59.2 757.8 60.5 760.1" fill="none" stroke="#03035e" stroke-width="2.37" />
<path d="M122.1 752.7 L125 754.6" fill="none" stroke="#03035e" stroke-width="1.78" />
<path d="M335.5 879.2 L342.5 873.9 L372.4 868.6 L390 863.3 L407.6 853.7 L419.9 847.9 L427.8 842.6 L448 847.5 L461.2 858.1 L393.5 911.7 L360.1 903.8 L342.5 892.3 L335.5 884.4 Z" fill="#fefefe" stroke="none" stroke-width="0.1" />
<path d="M308.9 873.8 C312.1 873.3 321.2 871.4 328.4 870.6 C335.6 869.8 344.7 869.6 352 869 C359.3 868.4 366.1 868 372.4 866.8 C378.7 865.6 384.1 864.1 390 862 C395.9 859.9 402.6 856.2 407.6 853.9 C412.6 851.6 416.5 849.9 420 848 C423.5 846.1 427.1 843.2 428.5 842.3" fill="none" stroke="#03035e" stroke-width="3.11" />
<path d="M335 871.2 C337.8 871.1 345.8 871 352 870.6 C358.2 870.2 368.7 868.9 372 868.6" fill="none" stroke="#03035e" stroke-width="1.48" />
<path d="M444.5 844.9 L461.2 858.1 L393.5 911.7 L360.1 903.8 L342.5 892.3 L335.5 884.4" fill="none" stroke="#03035e" stroke-width="2.22" />
<path d="M405.8 854.9 C406.7 854.3 409.6 851.9 411.1 851.4 C412.6 850.9 414 851.8 414.6 851.9" fill="none" stroke="#03035e" stroke-width="2.22" />
<ellipse cx="344" cy="880" rx="6.2" ry="6.2" fill="#fefefe" stroke-width="2.22"/>
<path d="M348.7 885.3 C351.8 885.4 362 885.7 367.2 885.8 C372.3 886 376.2 885.4 379.5 886.2 C382.7 887 385.3 889.8 386.5 890.6" fill="none" stroke="#03035e" stroke-width="2.22" />
<path d="M358.4 898.8 C359 897.7 359.6 893.1 362.2 891.8 C364.9 890.5 372.2 891.2 374.2 891.1" fill="none" stroke="#03035e" stroke-width="2.22" />
<path d="M374.2 902 L375.6 891.8" fill="none" stroke="#03035e" stroke-width="2.22" />
<path d="M380.3 900.2 L380.9 891.1" fill="none" stroke="#03035e" stroke-width="2.07" />
<path d="M332 904.6 C333.8 904.5 338.2 903.6 342.5 903.8 C346.9 904 355.7 905.5 358.4 905.9" fill="none" stroke="#03035e" stroke-width="2.22" />
<path d="M339 916.1 C340.8 915 346.1 911.1 349.6 909.4 C353.1 907.7 358.4 906.5 360.1 905.9" fill="none" stroke="#03035e" stroke-width="2.22" />
<path d="M461.2 858.1 L488.4 854.9" fill="none" stroke="#03035e" stroke-width="2.22" />
<path d="M455 866.9 L504.3 860.7" fill="none" stroke="#9a9ab5" stroke-width="1.48" />
</g>
<g clip-path="url(#c4)">
<clipPath id="cg"><path d="M555.6 570.7 L894.6 600.7354 L894.6 874 L555.6 874 Z"/></clipPath>
<path d="M555.6 570.7 L894.6 600.7354 L894.6 874 L555.6 874 Z" fill="#d6d6de" stroke="none"/>
<g clip-path="url(#cg)" stroke-width="1.7" stroke="#10106a">
<path d="M439 460.1 L413.6 422.7 M439 460.1 L426.4 407.7 M439 460.1 L439 392.8 M439 460.1 L463.7 396.9 M439 460.1 L488 400.9 M439 460.1 L499.9 419.2 M439 460.1 L511.6 437.3 M439 460.1 L499.9 451.9 M439 460.1 L488 466.7 M413.6 422.7 L439 392.8 M511.6 437.3 L488 466.7 M439 527.4 L413.6 490.8 M439 527.4 L426.4 475.4 M439 527.4 L439 460.1 M439 527.4 L463.7 463.4 M439 527.4 L488 466.7 M439 527.4 L499.9 484.7 M439 527.4 L511.6 502.4 M439 527.4 L499.9 517.4 M439 527.4 L488 532.5 M413.6 490.8 L439 460.1 M511.6 502.4 L488 532.5 M439 594.7 L413.6 558.8 M439 594.7 L426.4 543 M439 594.7 L439 527.4 M439 594.7 L463.7 530 M439 594.7 L488 532.5 M439 594.7 L499.9 550.1 M439 594.7 L511.6 567.5 M439 594.7 L499.9 582.8 M439 594.7 L488 598.3 M413.6 558.8 L439 527.4 M511.6 567.5 L488 598.3 M439 662 L413.6 626.9 M439 662 L426.4 610.7 M439 662 L439 594.7 M439 662 L463.7 596.5 M439 662 L488 598.3 M439 662 L499.9 615.5 M439 662 L511.6 632.6 M439 662 L499.9 648.2 M439 662 L488 664.1 M413.6 626.9 L439 594.7 M511.6 632.6 L488 664.1 M439 729.3 L413.6 695 M439 729.3 L426.4 678.4 M439 729.3 L439 662 M439 729.3 L463.7 663.1 M439 729.3 L488 664.1 M439 729.3 L499.9 681 M439 729.3 L511.6 697.6 M439 729.3 L499.9 713.7 M439 729.3 L488 729.9 M413.6 695 L439 662 M511.6 697.6 L488 729.9 M439 796.6 L413.6 763 M439 796.6 L426.4 746.1 M439 796.6 L439 729.3 M439 796.6 L463.7 729.6 M439 796.6 L488 729.9 M439 796.6 L499.9 746.4 M439 796.6 L511.6 762.7 M439 796.6 L499.9 779.1 M439 796.6 L488 795.7 M413.6 763 L439 729.3 M511.6 762.7 L488 795.7 M439 863.9 L413.6 831.1 M439 863.9 L426.4 813.7 M439 863.9 L439 796.6 M439 863.9 L463.7 796.1 M439 863.9 L488 795.7 M439 863.9 L499.9 811.8 M439 863.9 L511.6 827.8 M439 863.9 L499.9 844.5 M439 863.9 L488 861.5 M413.6 831.1 L439 796.6 M511.6 827.8 L488 861.5 M439 931.2 L413.6 899.2 M439 931.2 L426.4 881.4 M439 931.2 L439 863.9 M439 931.2 L463.7 862.7 M439 931.2 L488 861.5 M439 931.2 L499.9 877.3 M439 931.2 L511.6 892.9 M439 931.2 L499.9 910 M439 931.2 L488 927.3 M413.6 899.2 L439 863.9 M511.6 892.9 L488 927.3 M439 998.5 L413.6 967.2 M439 998.5 L426.4 949.1 M439 998.5 L439 931.2 M439 998.5 L463.7 929.2 M439 998.5 L488 927.3 M439 998.5 L499.9 942.7 M439 998.5 L511.6 957.9 M439 998.5 L499.9 975.4 M439 998.5 L488 993.1 M413.6 967.2 L439 931.2 M511.6 957.9 L488 993.1 M511.6 502.4 L488 466.7 M511.6 502.4 L499.9 451.9 M511.6 502.4 L511.6 437.3 M511.6 502.4 L534.8 440.8 M511.6 502.4 L557.5 444.2 M511.6 502.4 L568.7 461.7 M511.6 502.4 L579.7 479 M511.6 502.4 L568.7 493.4 M511.6 502.4 L557.5 507.9 M488 466.7 L511.6 437.3 M579.7 479 L557.5 507.9 M511.6 567.5 L488 532.5 M511.6 567.5 L499.9 517.4 M511.6 567.5 L511.6 502.4 M511.6 567.5 L534.8 505.2 M511.6 567.5 L557.5 507.9 M511.6 567.5 L568.7 525 M511.6 567.5 L579.7 542 M511.6 567.5 L568.7 556.7 M511.6 567.5 L557.5 571.5 M488 532.5 L511.6 502.4 M579.7 542 L557.5 571.5 M511.6 632.6 L488 598.3 M511.6 632.6 L499.9 582.8 M511.6 632.6 L511.6 567.5 M511.6 632.6 L534.8 569.5 M511.6 632.6 L557.5 571.5 M511.6 632.6 L568.7 588.4 M511.6 632.6 L579.7 605 M511.6 632.6 L568.7 620 M511.6 632.6 L557.5 635.2 M488 598.3 L511.6 567.5 M579.7 605 L557.5 635.2 M511.6 697.6 L488 664.1 M511.6 697.6 L499.9 648.2 M511.6 697.6 L511.6 632.6 M511.6 697.6 L534.8 633.9 M511.6 697.6 L557.5 635.2 M511.6 697.6 L568.7 651.7 M511.6 697.6 L579.7 668 M511.6 697.6 L568.7 683.4 M511.6 697.6 L557.5 698.9 M488 664.1 L511.6 632.6 M579.7 668 L557.5 698.9 M511.6 762.7 L488 729.9 M511.6 762.7 L499.9 713.7 M511.6 762.7 L511.6 697.6 M511.6 762.7 L534.8 698.3 M511.6 762.7 L557.5 698.9 M511.6 762.7 L568.7 715 M511.6 762.7 L579.7 731 M511.6 762.7 L568.7 746.7 M511.6 762.7 L557.5 762.6 M488 729.9 L511.6 697.6 M579.7 731 L557.5 762.6 M511.6 827.8 L488 795.7 M511.6 827.8 L499.9 779.1 M511.6 827.8 L511.6 762.7 M511.6 827.8 L534.8 762.6 M511.6 827.8 L557.5 762.6 M511.6 827.8 L568.7 778.4 M511.6 827.8 L579.7 794 M511.6 827.8 L568.7 810 M511.6 827.8 L557.5 826.2 M488 795.7 L511.6 762.7 M579.7 794 L557.5 826.2 M511.6 892.9 L488 861.5 M511.6 892.9 L499.9 844.5 M511.6 892.9 L511.6 827.8 M511.6 892.9 L534.8 827 M511.6 892.9 L557.5 826.2 M511.6 892.9 L568.7 841.7 M511.6 892.9 L579.7 857 M511.6 892.9 L568.7 873.4 M511.6 892.9 L557.5 889.9 M488 861.5 L511.6 827.8 M579.7 857 L557.5 889.9 M511.6 957.9 L488 927.3 M511.6 957.9 L499.9 910 M511.6 957.9 L511.6 892.9 M511.6 957.9 L534.8 891.4 M511.6 957.9 L557.5 889.9 M511.6 957.9 L568.7 905 M511.6 957.9 L579.7 920 M511.6 957.9 L568.7 936.7 M511.6 957.9 L557.5 953.6 M488 927.3 L511.6 892.9 M579.7 920 L557.5 953.6 M511.6 1023 L488 993.1 M511.6 1023 L499.9 975.4 M511.6 1023 L511.6 957.9 M511.6 1023 L534.8 955.7 M511.6 1023 L557.5 953.6 M511.6 1023 L568.7 968.4 M511.6 1023 L579.7 983 M511.6 1023 L568.7 1000 M511.6 1023 L557.5 1017.3 M488 993.1 L511.6 957.9 M579.7 983 L557.5 1017.3 M579.7 479 L557.5 444.2 M579.7 479 L568.7 430 M579.7 479 L579.7 416 M579.7 479 L601.4 419.6 M579.7 479 L622.7 423.1 M579.7 479 L633.2 440.1 M579.7 479 L643.5 457 M579.7 479 L633.2 470.8 M579.7 479 L622.7 484.8 M557.5 444.2 L579.7 416 M643.5 457 L622.7 484.8 M579.7 542 L557.5 507.9 M579.7 542 L568.7 493.4 M579.7 542 L579.7 479 M579.7 542 L601.4 481.9 M579.7 542 L622.7 484.8 M579.7 542 L633.2 501.5 M579.7 542 L643.5 518.1 M579.7 542 L633.2 532.2 M579.7 542 L622.7 546.5 M557.5 507.9 L579.7 479 M643.5 518.1 L622.7 546.5 M579.7 605 L557.5 571.5 M579.7 605 L568.7 556.7 M579.7 605 L579.7 542 M579.7 605 L601.4 544.3 M579.7 605 L622.7 546.5 M579.7 605 L633.2 562.9 M579.7 605 L643.5 579.1 M579.7 605 L633.2 593.6 M579.7 605 L622.7 608.1 M557.5 571.5 L579.7 542 M643.5 579.1 L622.7 608.1 M579.7 668 L557.5 635.2 M579.7 668 L568.7 620 M579.7 668 L579.7 605 M579.7 668 L601.4 606.6 M579.7 668 L622.7 608.1 M579.7 668 L633.2 624.3 M579.7 668 L643.5 640.2 M579.7 668 L633.2 654.9 M579.7 668 L622.7 669.8 M557.5 635.2 L579.7 605 M643.5 640.2 L622.7 669.8 M579.7 731 L557.5 698.9 M579.7 731 L568.7 683.4 M579.7 731 L579.7 668 M579.7 731 L601.4 668.9 M579.7 731 L622.7 669.8 M579.7 731 L633.2 685.6 M579.7 731 L643.5 701.2 M579.7 731 L633.2 716.3 M579.7 731 L622.7 731.5 M557.5 698.9 L579.7 668 M643.5 701.2 L622.7 731.5 M579.7 794 L557.5 762.6 M579.7 794 L568.7 746.7 M579.7 794 L579.7 731 M579.7 794 L601.4 731.3 M579.7 794 L622.7 731.5 M579.7 794 L633.2 747 M579.7 794 L643.5 762.3 M579.7 794 L633.2 777.7 M579.7 794 L622.7 793.2 M557.5 762.6 L579.7 731 M643.5 762.3 L622.7 793.2 M579.7 857 L557.5 826.2 M579.7 857 L568.7 810 M579.7 857 L579.7 794 M579.7 857 L601.4 793.6 M579.7 857 L622.7 793.2 M579.7 857 L633.2 808.4 M579.7 857 L643.5 823.4 M579.7 857 L633.2 839 M579.7 857 L622.7 854.9 M557.5 826.2 L579.7 794 M643.5 823.4 L622.7 854.9 M579.7 920 L557.5 889.9 M579.7 920 L568.7 873.4 M579.7 920 L579.7 857 M579.7 920 L601.4 855.9 M579.7 920 L622.7 854.9 M579.7 920 L633.2 869.7 M579.7 920 L643.5 884.4 M579.7 920 L633.2 900.4 M579.7 920 L622.7 916.6 M557.5 889.9 L579.7 857 M643.5 884.4 L622.7 916.6 M579.7 983 L557.5 953.6 M579.7 983 L568.7 936.7 M579.7 983 L579.7 920 M579.7 983 L601.4 918.3 M579.7 983 L622.7 916.6 M579.7 983 L633.2 931.1 M579.7 983 L643.5 945.5 M579.7 983 L633.2 961.8 M579.7 983 L622.7 978.3 M557.5 953.6 L579.7 920 M643.5 945.5 L622.7 978.3 M643.5 518.1 L622.7 484.8 M643.5 518.1 L633.2 470.8 M643.5 518.1 L643.5 457 M643.5 518.1 L664 460.1 M643.5 518.1 L684 463.1 M643.5 518.1 L693.8 479.4 M643.5 518.1 L703.6 495.6 M643.5 518.1 L693.8 509.2 M643.5 518.1 L684 522.9 M622.7 484.8 L643.5 457 M703.6 495.6 L684 522.9 M643.5 579.1 L622.7 546.5 M643.5 579.1 L633.2 532.2 M643.5 579.1 L643.5 518.1 M643.5 579.1 L664 520.5 M643.5 579.1 L684 522.9 M643.5 579.1 L693.8 538.9 M643.5 579.1 L703.6 554.8 M643.5 579.1 L693.8 568.7 M643.5 579.1 L684 582.7 M622.7 546.5 L643.5 518.1 M703.6 554.8 L684 582.7 M643.5 640.2 L622.7 608.1 M643.5 640.2 L633.2 593.6 M643.5 640.2 L643.5 579.1 M643.5 640.2 L664 580.9 M643.5 640.2 L684 582.7 M643.5 640.2 L693.8 598.5 M643.5 640.2 L703.6 614.1 M643.5 640.2 L693.8 628.2 M643.5 640.2 L684 642.5 M622.7 608.1 L643.5 579.1 M703.6 614.1 L684 642.5 M643.5 701.2 L622.7 669.8 M643.5 701.2 L633.2 654.9 M643.5 701.2 L643.5 640.2 M643.5 701.2 L664 641.4 M643.5 701.2 L684 642.5 M643.5 701.2 L693.8 658 M643.5 701.2 L703.6 673.3 M643.5 701.2 L693.8 687.7 M643.5 701.2 L684 702.4 M622.7 669.8 L643.5 640.2 M703.6 673.3 L684 702.4 M643.5 762.3 L622.7 731.5 M643.5 762.3 L633.2 716.3 M643.5 762.3 L643.5 701.2 M643.5 762.3 L664 701.8 M643.5 762.3 L684 702.4 M643.5 762.3 L693.8 717.5 M643.5 762.3 L703.6 732.5 M643.5 762.3 L693.8 747.3 M643.5 762.3 L684 762.2 M622.7 731.5 L643.5 701.2 M703.6 732.5 L684 762.2 M643.5 823.4 L622.7 793.2 M643.5 823.4 L633.2 777.7 M643.5 823.4 L643.5 762.3 M643.5 823.4 L664 762.2 M643.5 823.4 L684 762.2 M643.5 823.4 L693.8 777 M643.5 823.4 L703.6 791.7 M643.5 823.4 L693.8 806.8 M643.5 823.4 L684 822 M622.7 793.2 L643.5 762.3 M703.6 791.7 L684 822 M643.5 884.4 L622.7 854.9 M643.5 884.4 L633.2 839 M643.5 884.4 L643.5 823.4 M643.5 884.4 L664 822.7 M643.5 884.4 L684 822 M643.5 884.4 L693.8 836.5 M643.5 884.4 L703.6 850.9 M643.5 884.4 L693.8 866.3 M643.5 884.4 L684 881.8 M622.7 854.9 L643.5 823.4 M703.6 850.9 L684 881.8 M643.5 945.5 L622.7 916.6 M643.5 945.5 L633.2 900.4 M643.5 945.5 L643.5 884.4 M643.5 945.5 L664 883.1 M643.5 945.5 L684 881.8 M643.5 945.5 L693.8 896.1 M643.5 945.5 L703.6 910.2 M643.5 945.5 L693.8 925.8 M643.5 945.5 L684 941.6 M622.7 916.6 L643.5 884.4 M703.6 910.2 L684 941.6 M643.5 1006.5 L622.7 978.3 M643.5 1006.5 L633.2 961.8 M643.5 1006.5 L643.5 945.5 M643.5 1006.5 L664 943.5 M643.5 1006.5 L684 941.6 M643.5 1006.5 L693.8 955.6 M643.5 1006.5 L703.6 969.4 M643.5 1006.5 L693.8 985.3 M643.5 1006.5 L684 1001.5 M622.7 978.3 L643.5 945.5 M703.6 969.4 L684 1001.5 M703.6 495.6 L684 463.1 M703.6 495.6 L693.8 449.7 M703.6 495.6 L703.6 436.4 M703.6 495.6 L722.8 439.6 M703.6 495.6 L741.6 442.7 M703.6 495.6 L750.9 458.6 M703.6 495.6 L760.1 474.4 M703.6 495.6 L750.9 487.5 M703.6 495.6 L741.6 500.7 M684 463.1 L703.6 436.4 M760.1 474.4 L741.6 500.7 M703.6 554.8 L684 522.9 M703.6 554.8 L693.8 509.2 M703.6 554.8 L703.6 495.6 M703.6 554.8 L722.8 498.2 M703.6 554.8 L741.6 500.7 M703.6 554.8 L750.9 516.4 M703.6 554.8 L760.1 531.9 M703.6 554.8 L750.9 545.3 M703.6 554.8 L741.6 558.8 M684 522.9 L703.6 495.6 M760.1 531.9 L741.6 558.8 M703.6 614.1 L684 582.7 M703.6 614.1 L693.8 568.7 M703.6 614.1 L703.6 554.8 M703.6 614.1 L722.8 556.8 M703.6 614.1 L741.6 558.8 M703.6 614.1 L750.9 574.2 M703.6 614.1 L760.1 589.4 M703.6 614.1 L750.9 603.1 M703.6 614.1 L741.6 616.8 M684 582.7 L703.6 554.8 M760.1 589.4 L741.6 616.8 M703.6 673.3 L684 642.5 M703.6 673.3 L693.8 628.2 M703.6 673.3 L703.6 614.1 M703.6 673.3 L722.8 615.5 M703.6 673.3 L741.6 616.8 M703.6 673.3 L750.9 632 M703.6 673.3 L760.1 646.9 M703.6 673.3 L750.9 660.8 M703.6 673.3 L741.6 674.9 M684 642.5 L703.6 614.1 M760.1 646.9 L741.6 674.9 M703.6 732.5 L684 702.4 M703.6 732.5 L693.8 687.7 M703.6 732.5 L703.6 673.3 M703.6 732.5 L722.8 674.1 M703.6 732.5 L741.6 674.9 M703.6 732.5 L750.9 689.7 M703.6 732.5 L760.1 704.4 M703.6 732.5 L750.9 718.6 M703.6 732.5 L741.6 733 M684 702.4 L703.6 673.3 M760.1 704.4 L741.6 733 M703.6 791.7 L684 762.2 M703.6 791.7 L693.8 747.3 M703.6 791.7 L703.6 732.5 M703.6 791.7 L722.8 732.7 M703.6 791.7 L741.6 733 M703.6 791.7 L750.9 747.5 M703.6 791.7 L760.1 761.9 M703.6 791.7 L750.9 776.4 M703.6 791.7 L741.6 791 M684 762.2 L703.6 732.5 M760.1 761.9 L741.6 791 M703.6 850.9 L684 822 M703.6 850.9 L693.8 806.8 M703.6 850.9 L703.6 791.7 M703.6 850.9 L722.8 791.4 M703.6 850.9 L741.6 791 M703.6 850.9 L750.9 805.3 M703.6 850.9 L760.1 819.4 M703.6 850.9 L750.9 834.2 M703.6 850.9 L741.6 849.1 M684 822 L703.6 791.7 M760.1 819.4 L741.6 849.1 M703.6 910.2 L684 881.8 M703.6 910.2 L693.8 866.3 M703.6 910.2 L703.6 850.9 M703.6 910.2 L722.8 850 M703.6 910.2 L741.6 849.1 M703.6 910.2 L750.9 863.1 M703.6 910.2 L760.1 876.9 M703.6 910.2 L750.9 892 M703.6 910.2 L741.6 907.1 M684 881.8 L703.6 850.9 M760.1 876.9 L741.6 907.1 M703.6 969.4 L684 941.6 M703.6 969.4 L693.8 925.8 M703.6 969.4 L703.6 910.2 M703.6 969.4 L722.8 908.6 M703.6 969.4 L741.6 907.1 M703.6 969.4 L750.9 920.9 M703.6 969.4 L760.1 934.4 M703.6 969.4 L750.9 949.7 M703.6 969.4 L741.6 965.2 M684 941.6 L703.6 910.2 M760.1 934.4 L741.6 965.2 M760.1 531.9 L741.6 500.7 M760.1 531.9 L750.9 487.5 M760.1 531.9 L760.1 474.4 M760.1 531.9 L778.2 477.2 M760.1 531.9 L796 479.8 M760.1 531.9 L804.7 495.1 M760.1 531.9 L813.4 510.3 M760.1 531.9 L804.7 523.2 M760.1 531.9 L796 536.2 M741.6 500.7 L760.1 474.4 M813.4 510.3 L796 536.2 M760.1 589.4 L741.6 558.8 M760.1 589.4 L750.9 545.3 M760.1 589.4 L760.1 531.9 M760.1 589.4 L778.2 534.1 M760.1 589.4 L796 536.2 M760.1 589.4 L804.7 551.3 M760.1 589.4 L813.4 566.2 M760.1 589.4 L804.7 579.4 M760.1 589.4 L796 592.6 M741.6 558.8 L760.1 531.9 M813.4 566.2 L796 592.6 M760.1 646.9 L741.6 616.8 M760.1 646.9 L750.9 603.1 M760.1 646.9 L760.1 589.4 M760.1 646.9 L778.2 591 M760.1 646.9 L796 592.6 M760.1 646.9 L804.7 607.4 M760.1 646.9 L813.4 622.1 M760.1 646.9 L804.7 635.5 M760.1 646.9 L796 649 M741.6 616.8 L760.1 589.4 M813.4 622.1 L796 649 M760.1 704.4 L741.6 674.9 M760.1 704.4 L750.9 660.8 M760.1 704.4 L760.1 646.9 M760.1 704.4 L778.2 648 M760.1 704.4 L796 649 M760.1 704.4 L804.7 663.6 M760.1 704.4 L813.4 678 M760.1 704.4 L804.7 691.6 M760.1 704.4 L796 705.4 M741.6 674.9 L760.1 646.9 M813.4 678 L796 705.4 M760.1 761.9 L741.6 733 M760.1 761.9 L750.9 718.6 M760.1 761.9 L760.1 704.4 M760.1 761.9 L778.2 704.9 M760.1 761.9 L796 705.4 M760.1 761.9 L804.7 719.7 M760.1 761.9 L813.4 733.8 M760.1 761.9 L804.7 747.8 M760.1 761.9 L796 761.8 M741.6 733 L760.1 704.4 M813.4 733.8 L796 761.8 M760.1 819.4 L741.6 791 M760.1 819.4 L750.9 776.4 M760.1 819.4 L760.1 761.9 M760.1 819.4 L778.2 761.9 M760.1 819.4 L796 761.8 M760.1 819.4 L804.7 775.8 M760.1 819.4 L813.4 789.7 M760.1 819.4 L804.7 803.9 M760.1 819.4 L796 818.2 M741.6 791 L760.1 761.9 M813.4 789.7 L796 818.2 M760.1 876.9 L741.6 849.1 M760.1 876.9 L750.9 834.2 M760.1 876.9 L760.1 819.4 M760.1 876.9 L778.2 818.8 M760.1 876.9 L796 818.2 M760.1 876.9 L804.7 832 M760.1 876.9 L813.4 845.6 M760.1 876.9 L804.7 860 M760.1 876.9 L796 874.6 M741.6 849.1 L760.1 819.4 M813.4 845.6 L796 874.6 M760.1 934.4 L741.6 907.1 M760.1 934.4 L750.9 892 M760.1 934.4 L760.1 876.9 M760.1 934.4 L778.2 875.8 M760.1 934.4 L796 874.6 M760.1 934.4 L804.7 888.1 M760.1 934.4 L813.4 901.4 M760.1 934.4 L804.7 916.2 M760.1 934.4 L796 931 M741.6 907.1 L760.1 876.9 M813.4 901.4 L796 931 M760.1 991.9 L741.6 965.2 M760.1 991.9 L750.9 949.7 M760.1 991.9 L760.1 934.4 M760.1 991.9 L778.2 932.7 M760.1 991.9 L796 931 M760.1 991.9 L804.7 944.2 M760.1 991.9 L813.4 957.3 M760.1 991.9 L804.7 972.3 M760.1 991.9 L796 987.4 M741.6 965.2 L760.1 934.4 M813.4 957.3 L796 987.4 M813.4 510.3 L796 479.8 M813.4 510.3 L804.7 467.1 M813.4 510.3 L813.4 454.5 M813.4 510.3 L830.5 457.3 M813.4 510.3 L847.3 460.1 M813.4 510.3 L855.6 475.1 M813.4 510.3 L863.8 489.9 M813.4 510.3 L855.6 502.4 M813.4 510.3 L847.3 514.9 M796 479.8 L813.4 454.5 M863.8 489.9 L847.3 514.9 M813.4 566.2 L796 536.2 M813.4 566.2 L804.7 523.2 M813.4 566.2 L813.4 510.3 M813.4 566.2 L830.5 512.6 M813.4 566.2 L847.3 514.9 M813.4 566.2 L855.6 529.6 M813.4 566.2 L863.8 544.3 M813.4 566.2 L855.6 556.9 M813.4 566.2 L847.3 569.7 M796 536.2 L813.4 510.3 M863.8 544.3 L847.3 569.7 M813.4 622.1 L796 592.6 M813.4 622.1 L804.7 579.4 M813.4 622.1 L813.4 566.2 M813.4 622.1 L830.5 568 M813.4 622.1 L847.3 569.7 M813.4 622.1 L855.6 584.2 M813.4 622.1 L863.8 598.6 M813.4 622.1 L855.6 611.5 M813.4 622.1 L847.3 624.6 M796 592.6 L813.4 566.2 M863.8 598.6 L847.3 624.6 M813.4 678 L796 649 M813.4 678 L804.7 635.5 M813.4 678 L813.4 622.1 M813.4 678 L830.5 623.3 M813.4 678 L847.3 624.6 M813.4 678 L855.6 638.8 M813.4 678 L863.8 652.9 M813.4 678 L855.6 666.1 M813.4 678 L847.3 679.4 M796 649 L813.4 622.1 M863.8 652.9 L847.3 679.4 M813.4 733.8 L796 705.4 M813.4 733.8 L804.7 691.6 M813.4 733.8 L813.4 678 M813.4 733.8 L830.5 678.7 M813.4 733.8 L847.3 679.4 M813.4 733.8 L855.6 693.4 M813.4 733.8 L863.8 707.3 M813.4 733.8 L855.6 720.7 M813.4 733.8 L847.3 734.2 M796 705.4 L813.4 678 M863.8 707.3 L847.3 734.2 M813.4 789.7 L796 761.8 M813.4 789.7 L804.7 747.8 M813.4 789.7 L813.4 733.8 M813.4 789.7 L830.5 734 M813.4 789.7 L847.3 734.2 M813.4 789.7 L855.6 748 M813.4 789.7 L863.8 761.6 M813.4 789.7 L855.6 775.3 M813.4 789.7 L847.3 789.1 M796 761.8 L813.4 733.8 M863.8 761.6 L847.3 789.1 M813.4 845.6 L796 818.2 M813.4 845.6 L804.7 803.9 M813.4 845.6 L813.4 789.7 M813.4 845.6 L830.5 789.4 M813.4 845.6 L847.3 789.1 M813.4 845.6 L855.6 802.6 M813.4 845.6 L863.8 815.9 M813.4 845.6 L855.6 829.9 M813.4 845.6 L847.3 843.9 M796 818.2 L813.4 789.7 M863.8 815.9 L847.3 843.9 M813.4 901.4 L796 874.6 M813.4 901.4 L804.7 860 M813.4 901.4 L813.4 845.6 M813.4 901.4 L830.5 844.7 M813.4 901.4 L847.3 843.9 M813.4 901.4 L855.6 857.2 M813.4 901.4 L863.8 870.3 M813.4 901.4 L855.6 884.4 M813.4 901.4 L847.3 898.7 M796 874.6 L813.4 845.6 M863.8 870.3 L847.3 898.7 M813.4 957.3 L796 931 M813.4 957.3 L804.7 916.2 M813.4 957.3 L813.4 901.4 M813.4 957.3 L830.5 900.1 M813.4 957.3 L847.3 898.7 M813.4 957.3 L855.6 911.7 M813.4 957.3 L863.8 924.6 M813.4 957.3 L855.6 939 M813.4 957.3 L847.3 953.6 M796 931 L813.4 901.4 M863.8 924.6 L847.3 953.6 M863.8 544.3 L847.3 514.9 M863.8 544.3 L855.6 502.4 M863.8 544.3 L863.8 489.9 M863.8 544.3 L880 492.4 M863.8 544.3 L895.9 494.7 M863.8 544.3 L903.7 509.2 M863.8 544.3 L911.5 523.5 M863.8 544.3 L903.7 535.7 M863.8 544.3 L895.9 548.1 M847.3 514.9 L863.8 489.9 M911.5 523.5 L895.9 548.1 M863.8 598.6 L847.3 569.7 M863.8 598.6 L855.6 556.9 M863.8 598.6 L863.8 544.3 M863.8 598.6 L880 546.2 M863.8 598.6 L895.9 548.1 M863.8 598.6 L903.7 562.3 M863.8 598.6 L911.5 576.4 M863.8 598.6 L903.7 588.9 M863.8 598.6 L895.9 601.4 M847.3 569.7 L863.8 544.3 M911.5 576.4 L895.9 601.4 M863.8 652.9 L847.3 624.6 M863.8 652.9 L855.6 611.5 M863.8 652.9 L863.8 598.6 M863.8 652.9 L880 600 M863.8 652.9 L895.9 601.4 M863.8 652.9 L903.7 615.4 M863.8 652.9 L911.5 629.3 M863.8 652.9 L903.7 642 M863.8 652.9 L895.9 654.8 M847.3 624.6 L863.8 598.6 M911.5 629.3 L895.9 654.8 M863.8 707.3 L847.3 679.4 M863.8 707.3 L855.6 666.1 M863.8 707.3 L863.8 652.9 M863.8 707.3 L880 653.9 M863.8 707.3 L895.9 654.8 M863.8 707.3 L903.7 668.5 M863.8 707.3 L911.5 682.1 M863.8 707.3 L903.7 695.1 M863.8 707.3 L895.9 708.1 M847.3 679.4 L863.8 652.9 M911.5 682.1 L895.9 708.1 M863.8 761.6 L847.3 734.2 M863.8 761.6 L855.6 720.7 M863.8 761.6 L863.8 707.3 M863.8 761.6 L880 707.7 M863.8 761.6 L895.9 708.1 M863.8 761.6 L903.7 721.6 M863.8 761.6 L911.5 735 M863.8 761.6 L903.7 748.2 M863.8 761.6 L895.9 761.5 M847.3 734.2 L863.8 707.3 M911.5 735 L895.9 761.5 M863.8 815.9 L847.3 789.1 M863.8 815.9 L855.6 775.3 M863.8 815.9 L863.8 761.6 M863.8 815.9 L880 761.6 M863.8 815.9 L895.9 761.5 M863.8 815.9 L903.7 774.8 M863.8 815.9 L911.5 787.9 M863.8 815.9 L903.7 801.3 M863.8 815.9 L895.9 814.9 M847.3 789.1 L863.8 761.6 M911.5 787.9 L895.9 814.9 M863.8 870.3 L847.3 843.9 M863.8 870.3 L855.6 829.9 M863.8 870.3 L863.8 815.9 M863.8 870.3 L880 815.4 M863.8 870.3 L895.9 814.9 M863.8 870.3 L903.7 827.9 M863.8 870.3 L911.5 840.8 M863.8 870.3 L903.7 854.4 M863.8 870.3 L895.9 868.2 M847.3 843.9 L863.8 815.9 M911.5 840.8 L895.9 868.2 M863.8 924.6 L847.3 898.7 M863.8 924.6 L855.6 884.4 M863.8 924.6 L863.8 870.3 M863.8 924.6 L880 869.2 M863.8 924.6 L895.9 868.2 M863.8 924.6 L903.7 881 M863.8 924.6 L911.5 893.7 M863.8 924.6 L903.7 907.5 M863.8 924.6 L895.9 921.6 M847.3 898.7 L863.8 870.3 M911.5 893.7 L895.9 921.6 M863.8 978.9 L847.3 953.6 M863.8 978.9 L855.6 939 M863.8 978.9 L863.8 924.6 M863.8 978.9 L880 923.1 M863.8 978.9 L895.9 921.6 M863.8 978.9 L903.7 934.1 M863.8 978.9 L911.5 946.5 M863.8 978.9 L903.7 960.7 M863.8 978.9 L895.9 974.9 M847.3 953.6 L863.8 924.6 M911.5 946.5 L895.9 974.9 M911.5 523.5 L895.9 494.7 M911.5 523.5 L903.7 482.6 M911.5 523.5 L911.5 470.6 M911.5 523.5 L926.8 473.1 M911.5 523.5 L941.9 475.6 M911.5 523.5 L949.3 489.8 M911.5 523.5 L956.7 503.8 M911.5 523.5 L949.3 515.6 M911.5 523.5 L941.9 527.6 M895.9 494.7 L911.5 470.6 M956.7 503.8 L941.9 527.6 M911.5 576.4 L895.9 548.1 M911.5 576.4 L903.7 535.7 M911.5 576.4 L911.5 523.5 M911.5 576.4 L926.8 525.6 M911.5 576.4 L941.9 527.6 M911.5 576.4 L949.3 541.5 M911.5 576.4 L956.7 555.3 M911.5 576.4 L949.3 567.4 M911.5 576.4 L941.9 579.5 M895.9 548.1 L911.5 523.5 M956.7 555.3 L941.9 579.5 M911.5 629.3 L895.9 601.4 M911.5 629.3 L903.7 588.9 M911.5 629.3 L911.5 576.4 M911.5 629.3 L926.8 578 M911.5 629.3 L941.9 579.5 M911.5 629.3 L949.3 593.2 M911.5 629.3 L956.7 606.8 M911.5 629.3 L949.3 619.1 M911.5 629.3 L941.9 631.5 M895.9 601.4 L911.5 576.4 M956.7 606.8 L941.9 631.5 M911.5 682.1 L895.9 654.8 M911.5 682.1 L903.7 642 M911.5 682.1 L911.5 629.3 M911.5 682.1 L926.8 630.4 M911.5 682.1 L941.9 631.5 M911.5 682.1 L949.3 645 M911.5 682.1 L956.7 658.3 M911.5 682.1 L949.3 670.8 M911.5 682.1 L941.9 683.4 M895.9 654.8 L911.5 629.3 M956.7 658.3 L941.9 683.4 M911.5 735 L895.9 708.1 M911.5 735 L903.7 695.1 M911.5 735 L911.5 682.1 M911.5 735 L926.8 682.8 M911.5 735 L941.9 683.4 M911.5 735 L949.3 696.7 M911.5 735 L956.7 709.8 M911.5 735 L949.3 722.5 M911.5 735 L941.9 735.4 M895.9 708.1 L911.5 682.1 M956.7 709.8 L941.9 735.4 M911.5 787.9 L895.9 761.5 M911.5 787.9 L903.7 748.2 M911.5 787.9 L911.5 735 M911.5 787.9 L926.8 735.2 M911.5 787.9 L941.9 735.4 M911.5 787.9 L949.3 748.4 M911.5 787.9 L956.7 761.3 M911.5 787.9 L949.3 774.3 M911.5 787.9 L941.9 787.3 M895.9 761.5 L911.5 735 M956.7 761.3 L941.9 787.3 M911.5 840.8 L895.9 814.9 M911.5 840.8 L903.7 801.3 M911.5 840.8 L911.5 787.9 M911.5 840.8 L926.8 787.6 M911.5 840.8 L941.9 787.3 M911.5 840.8 L949.3 800.1 M911.5 840.8 L956.7 812.8 M911.5 840.8 L949.3 826 M911.5 840.8 L941.9 839.3 M895.9 814.9 L911.5 787.9 M956.7 812.8 L941.9 839.3 M911.5 893.7 L895.9 868.2 M911.5 893.7 L903.7 854.4 M911.5 893.7 L911.5 840.8 M911.5 893.7 L926.8 840 M911.5 893.7 L941.9 839.3 M911.5 893.7 L949.3 851.9 M911.5 893.7 L956.7 864.3 M911.5 893.7 L949.3 877.7 M911.5 893.7 L941.9 891.2 M895.9 868.2 L911.5 840.8 M956.7 864.3 L941.9 891.2 M911.5 946.5 L895.9 921.6 M911.5 946.5 L903.7 907.5 M911.5 946.5 L911.5 893.7 M911.5 946.5 L926.8 892.4 M911.5 946.5 L941.9 891.2 M911.5 946.5 L949.3 903.6 M911.5 946.5 L956.7 915.8 M911.5 946.5 L949.3 929.4 M911.5 946.5 L941.9 943.2 M895.9 921.6 L911.5 893.7 M956.7 915.8 L941.9 943.2"/>
<path d="M511.6 502.4 l0.6 -3.5 l1.8 0.8 l2 -1.8 Z" fill="#03035e" stroke-width="0.8"/>
<path d="M511.6 567.5 l0.6 -3.5 l1.8 0.8 l2 -1.8 Z" fill="#03035e" stroke-width="0.8"/>
<path d="M511.6 632.6 l0.6 -3.5 l1.8 0.8 l2 -1.8 Z" fill="#03035e" stroke-width="0.8"/>
<path d="M511.6 697.6 l0.6 -3.5 l1.8 0.8 l2 -1.8 Z" fill="#03035e" stroke-width="0.8"/>
<path d="M511.6 762.7 l0.6 -3.5 l1.8 0.8 l2 -1.8 Z" fill="#03035e" stroke-width="0.8"/>
<path d="M511.6 827.8 l0.6 -3.5 l1.8 0.8 l2 -1.8 Z" fill="#03035e" stroke-width="0.8"/>
<path d="M511.6 892.9 l0.6 -3.5 l1.8 0.8 l2 -1.8 Z" fill="#03035e" stroke-width="0.8"/>
<path d="M511.6 957.9 l0.6 -3.5 l1.8 0.8 l2 -1.8 Z" fill="#03035e" stroke-width="0.8"/>
<path d="M511.6 1023 l0.6 -3.5 l1.8 0.8 l2 -1.8 Z" fill="#03035e" stroke-width="0.8"/>
<path d="M579.7 479 l0.6 -3.5 l1.8 0.8 l2 -1.8 Z" fill="#03035e" stroke-width="0.8"/>
<path d="M579.7 542 l0.6 -3.5 l1.8 0.8 l2 -1.8 Z" fill="#03035e" stroke-width="0.8"/>
<path d="M579.7 605 l0.6 -3.5 l1.8 0.8 l2 -1.8 Z" fill="#03035e" stroke-width="0.8"/>
<path d="M579.7 668 l0.6 -3.5 l1.8 0.8 l2 -1.8 Z" fill="#03035e" stroke-width="0.8"/>
<path d="M579.7 731 l0.6 -3.5 l1.8 0.8 l2 -1.8 Z" fill="#03035e" stroke-width="0.8"/>
<path d="M579.7 794 l0.6 -3.5 l1.8 0.8 l2 -1.8 Z" fill="#03035e" stroke-width="0.8"/>
<path d="M579.7 857 l0.6 -3.5 l1.8 0.8 l2 -1.8 Z" fill="#03035e" stroke-width="0.8"/>
<path d="M579.7 920 l0.6 -3.5 l1.8 0.8 l2 -1.8 Z" fill="#03035e" stroke-width="0.8"/>
<path d="M579.7 983 l0.6 -3.5 l1.8 0.8 l2 -1.8 Z" fill="#03035e" stroke-width="0.8"/>
<path d="M643.5 518.1 l0.6 -3.5 l1.8 0.8 l2 -1.8 Z" fill="#03035e" stroke-width="0.8"/>
<path d="M643.5 579.1 l0.6 -3.5 l1.8 0.8 l2 -1.8 Z" fill="#03035e" stroke-width="0.8"/>
<path d="M643.5 640.2 l0.6 -3.5 l1.8 0.8 l2 -1.8 Z" fill="#03035e" stroke-width="0.8"/>
<path d="M643.5 701.2 l0.6 -3.5 l1.8 0.8 l2 -1.8 Z" fill="#03035e" stroke-width="0.8"/>
<path d="M643.5 762.3 l0.6 -3.5 l1.8 0.8 l2 -1.8 Z" fill="#03035e" stroke-width="0.8"/>
<path d="M643.5 823.4 l0.6 -3.5 l1.8 0.8 l2 -1.8 Z" fill="#03035e" stroke-width="0.8"/>
<path d="M643.5 884.4 l0.6 -3.5 l1.8 0.8 l2 -1.8 Z" fill="#03035e" stroke-width="0.8"/>
<path d="M643.5 945.5 l0.6 -3.5 l1.8 0.8 l2 -1.8 Z" fill="#03035e" stroke-width="0.8"/>
<path d="M643.5 1006.5 l0.6 -3.5 l1.8 0.8 l2 -1.8 Z" fill="#03035e" stroke-width="0.8"/>
<path d="M703.6 495.6 l0.6 -3.5 l1.8 0.8 l2 -1.8 Z" fill="#03035e" stroke-width="0.8"/>
<path d="M703.6 554.8 l0.6 -3.5 l1.8 0.8 l2 -1.8 Z" fill="#03035e" stroke-width="0.8"/>
<path d="M703.6 614.1 l0.6 -3.5 l1.8 0.8 l2 -1.8 Z" fill="#03035e" stroke-width="0.8"/>
<path d="M703.6 673.3 l0.6 -3.5 l1.8 0.8 l2 -1.8 Z" fill="#03035e" stroke-width="0.8"/>
<path d="M703.6 732.5 l0.6 -3.5 l1.8 0.8 l2 -1.8 Z" fill="#03035e" stroke-width="0.8"/>
<path d="M703.6 791.7 l0.6 -3.5 l1.8 0.8 l2 -1.8 Z" fill="#03035e" stroke-width="0.8"/>
<path d="M703.6 850.9 l0.6 -3.5 l1.8 0.8 l2 -1.8 Z" fill="#03035e" stroke-width="0.8"/>
<path d="M703.6 910.2 l0.6 -3.5 l1.8 0.8 l2 -1.8 Z" fill="#03035e" stroke-width="0.8"/>
<path d="M703.6 969.4 l0.6 -3.5 l1.8 0.8 l2 -1.8 Z" fill="#03035e" stroke-width="0.8"/>
<path d="M760.1 531.9 l0.6 -3.5 l1.8 0.8 l2 -1.8 Z" fill="#03035e" stroke-width="0.8"/>
<path d="M760.1 589.4 l0.6 -3.5 l1.8 0.8 l2 -1.8 Z" fill="#03035e" stroke-width="0.8"/>
<path d="M760.1 646.9 l0.6 -3.5 l1.8 0.8 l2 -1.8 Z" fill="#03035e" stroke-width="0.8"/>
<path d="M760.1 704.4 l0.6 -3.5 l1.8 0.8 l2 -1.8 Z" fill="#03035e" stroke-width="0.8"/>
<path d="M760.1 761.9 l0.6 -3.5 l1.8 0.8 l2 -1.8 Z" fill="#03035e" stroke-width="0.8"/>
<path d="M760.1 819.4 l0.6 -3.5 l1.8 0.8 l2 -1.8 Z" fill="#03035e" stroke-width="0.8"/>
<path d="M760.1 876.9 l0.6 -3.5 l1.8 0.8 l2 -1.8 Z" fill="#03035e" stroke-width="0.8"/>
<path d="M760.1 934.4 l0.6 -3.5 l1.8 0.8 l2 -1.8 Z" fill="#03035e" stroke-width="0.8"/>
<path d="M760.1 991.9 l0.6 -3.5 l1.8 0.8 l2 -1.8 Z" fill="#03035e" stroke-width="0.8"/>
<path d="M813.4 510.3 l0.6 -3.5 l1.8 0.8 l2 -1.8 Z" fill="#03035e" stroke-width="0.8"/>
<path d="M813.4 566.2 l0.6 -3.5 l1.8 0.8 l2 -1.8 Z" fill="#03035e" stroke-width="0.8"/>
<path d="M813.4 622.1 l0.6 -3.5 l1.8 0.8 l2 -1.8 Z" fill="#03035e" stroke-width="0.8"/>
<path d="M813.4 678 l0.6 -3.5 l1.8 0.8 l2 -1.8 Z" fill="#03035e" stroke-width="0.8"/>
<path d="M813.4 733.8 l0.6 -3.5 l1.8 0.8 l2 -1.8 Z" fill="#03035e" stroke-width="0.8"/>
<path d="M813.4 789.7 l0.6 -3.5 l1.8 0.8 l2 -1.8 Z" fill="#03035e" stroke-width="0.8"/>
<path d="M813.4 845.6 l0.6 -3.5 l1.8 0.8 l2 -1.8 Z" fill="#03035e" stroke-width="0.8"/>
<path d="M813.4 901.4 l0.6 -3.5 l1.8 0.8 l2 -1.8 Z" fill="#03035e" stroke-width="0.8"/>
<path d="M813.4 957.3 l0.6 -3.5 l1.8 0.8 l2 -1.8 Z" fill="#03035e" stroke-width="0.8"/>
<path d="M863.8 544.3 l0.6 -3.5 l1.8 0.8 l2 -1.8 Z" fill="#03035e" stroke-width="0.8"/>
<path d="M863.8 598.6 l0.6 -3.5 l1.8 0.8 l2 -1.8 Z" fill="#03035e" stroke-width="0.8"/>
<path d="M863.8 652.9 l0.6 -3.5 l1.8 0.8 l2 -1.8 Z" fill="#03035e" stroke-width="0.8"/>
<path d="M863.8 707.3 l0.6 -3.5 l1.8 0.8 l2 -1.8 Z" fill="#03035e" stroke-width="0.8"/>
<path d="M863.8 761.6 l0.6 -3.5 l1.8 0.8 l2 -1.8 Z" fill="#03035e" stroke-width="0.8"/>
<path d="M863.8 815.9 l0.6 -3.5 l1.8 0.8 l2 -1.8 Z" fill="#03035e" stroke-width="0.8"/>
<path d="M863.8 870.3 l0.6 -3.5 l1.8 0.8 l2 -1.8 Z" fill="#03035e" stroke-width="0.8"/>
<path d="M863.8 924.6 l0.6 -3.5 l1.8 0.8 l2 -1.8 Z" fill="#03035e" stroke-width="0.8"/>
<path d="M863.8 978.9 l0.6 -3.5 l1.8 0.8 l2 -1.8 Z" fill="#03035e" stroke-width="0.8"/>
<path d="M911.5 523.5 l0.6 -3.5 l1.8 0.8 l2 -1.8 Z" fill="#03035e" stroke-width="0.8"/>
<path d="M911.5 576.4 l0.6 -3.5 l1.8 0.8 l2 -1.8 Z" fill="#03035e" stroke-width="0.8"/>
<path d="M911.5 629.3 l0.6 -3.5 l1.8 0.8 l2 -1.8 Z" fill="#03035e" stroke-width="0.8"/>
<path d="M911.5 682.1 l0.6 -3.5 l1.8 0.8 l2 -1.8 Z" fill="#03035e" stroke-width="0.8"/>
<path d="M911.5 735 l0.6 -3.5 l1.8 0.8 l2 -1.8 Z" fill="#03035e" stroke-width="0.8"/>
<path d="M911.5 787.9 l0.6 -3.5 l1.8 0.8 l2 -1.8 Z" fill="#03035e" stroke-width="0.8"/>
<path d="M911.5 840.8 l0.6 -3.5 l1.8 0.8 l2 -1.8 Z" fill="#03035e" stroke-width="0.8"/>
<path d="M911.5 893.7 l0.6 -3.5 l1.8 0.8 l2 -1.8 Z" fill="#03035e" stroke-width="0.8"/>
<path d="M911.5 946.5 l0.6 -3.5 l1.8 0.8 l2 -1.8 Z" fill="#03035e" stroke-width="0.8"/>
</g>
<path d="M555.6 570.7 L555.6 874" fill="none" stroke="#03035e" stroke-width="2.37" />
<path d="M894.6 600.7 L894.6 868" fill="none" stroke="#03035e" stroke-width="2.37" />
<path d="M517 533.3 L569.5 539.5" fill="none" stroke="#03035e" stroke-width="2.22" />
<path d="M559.5 521 L569.5 539.5" fill="none" stroke="#03035e" stroke-width="2.07" />
<path d="M579.5 521 L569.5 539.5 L550.8 568.3" fill="none" stroke="#03035e" stroke-width="2.22" />
<path d="M517 564.5 L550.8 568.3" fill="none" stroke="#03035e" stroke-width="2.22" />
<path d="M594.5 521 L555.6 570.7" fill="none" stroke="#03035e" stroke-width="2.37" />
<path d="M555.6 570.7 L894.6 600.7" fill="none" stroke="#03035e" stroke-width="3.55" />
<path d="M898.4 600 L1015 562.4" fill="none" stroke="#03035e" stroke-width="2.37" />
<path d="M619.5 521.5 L583.3 559.5" fill="none" stroke="#03035e" stroke-width="4.14" />
<path d="M623 522 L587.5 558.5" fill="none" stroke="#03035e" stroke-width="1.78" />
<path d="M583.3 559.5 L702 572" fill="none" stroke="#03035e" stroke-width="2.66" />
<path d="M764.5 535.8 L702 572" fill="none" stroke="#03035e" stroke-width="4.14" />
<path d="M768.5 536.5 L708.8 571.6" fill="none" stroke="#03035e" stroke-width="1.92" />
<path d="M622 522.5 L764.5 535.3" fill="none" stroke="#03035e" stroke-width="1.92" />
<path d="M664.5 529.5 L672 525.8 L714.5 530.8 L709.5 536.5 Z" fill="none" stroke="#03035e" stroke-width="2.22" />
<path d="M766.4 535.4 L890.4 552" fill="none" stroke="#03035e" stroke-width="2.22" />
<path d="M708.8 571.6 L815.2 581.3" fill="none" stroke="#03035e" stroke-width="2.66" />
<path d="M890.4 551.5 L815.2 581.3" fill="none" stroke="#03035e" stroke-width="4.14" />
<path d="M894 552.3 L821 581.8" fill="none" stroke="#03035e" stroke-width="1.92" />
<path d="M801.6 546.2 L809.4 542.3 L848.4 547.2 L840.6 552 Z" fill="none" stroke="#03035e" stroke-width="2.22" />
<path d="M894 551 L999.3 563.2" fill="none" stroke="#03035e" stroke-width="2.22" />
<path d="M821 581.8 L906.4 592.1" fill="none" stroke="#03035e" stroke-width="2.66" />
<path d="M999.3 563.2 L906.4 592.1" fill="none" stroke="#03035e" stroke-width="2.66" />
<path d="M974 569.5 L930 583" fill="none" stroke="#03035e" stroke-width="4.14" />
<path d="M916 560 L925.7 556.8 L957.7 560 L949.7 564.9 Z" fill="none" stroke="#03035e" stroke-width="2.22" />
<path d="M700 521.8 L860 540.8 L1015 559.2" fill="none" stroke="#03035e" stroke-width="2.22" />
<path d="M807.4 521.4 C808.2 522.1 809.9 524.4 812 525.5 C814.1 526.6 810 526.3 820 528 C830 529.7 862.4 534.8 871.9 535.6 C881.4 536.4 875.9 534.2 877 533 C878.1 531.8 878.9 530.1 878.7 528.6 C878.5 527.1 877.5 525.3 876 524 C874.5 522.7 871 521.5 870 521" fill="none" stroke="#03035e" stroke-width="2.07" />
<path d="M912.9 520.8 L1015 536" fill="none" stroke="#03035e" stroke-width="2.22" />
<path d="M999.3 520.8 L1015 528" fill="none" stroke="#03035e" stroke-width="2.07" />
<path d="M965.7 581.7 L1015 587.3" fill="none" stroke="#03035e" stroke-width="2.22" />
<path d="M986.5 575.3 L1015 578.5" fill="none" stroke="#03035e" stroke-width="2.22" />
<path d="M900 600 L1015 612" fill="none" stroke="#03035e" stroke-width="2.22" />
<path d="M1015 622.5 L986.5 620.1" fill="none" stroke="#03035e" stroke-width="2.22" />
<path d="M978.5 621.7 C976.2 621.7 967.2 621.1 964.6 621.5 C962 621.9 962.8 622.2 962.6 624.1 C962.4 626 962.7 631.2 963.3 632.9 C963.9 634.6 963.2 634 966 634.5 C968.8 635 977.8 635.4 980.1 635.6" fill="none" stroke="#03035e" stroke-width="2.37" />
<path d="M986.5 633.2 L1015 635.6" fill="none" stroke="#03035e" stroke-width="2.22" />
<circle cx="1038.6" cy="759.3" r="50.1" stroke-width="2.2"/>
<circle cx="1039.6" cy="760.3" r="47.8" stroke-width="1.8"/>
<circle cx="1029.1" cy="761.7" r="35.6" stroke-width="2.2"/>
<path d="M894.6 868.4 L1015.4 857.8" fill="none" stroke="#03035e" stroke-width="2.22" />
<path d="M738 864.8 L772 864.2 L779 862.3 L800 861 L828 857.8 L831.5 860.5 L824 864 L850 866.2 L895 867.2 L895 874 L738 874 Z" fill="#fefefe" stroke="#03035e" stroke-width="2.22" />
<path d="M741 867.5 L748 871.2 L772 871.5 L781 867.8" fill="none" stroke="#03035e" stroke-width="2.07" />
<path d="M779 864.6 L800 865.6 L824 864" fill="none" stroke="#03035e" stroke-width="2.66" />
<path d="M783 869.6 L820 868.6 L826 871.4 L862 870.4" fill="none" stroke="#03035e" stroke-width="2.07" />
<path d="M828 866.8 L860 867.8 L893 870.5" fill="none" stroke="#03035e" stroke-width="1.92" />
<path d="M1007.4 893.4 L1015.4 892.8" fill="none" stroke="#03035e" stroke-width="1.92" />
<path d="M1007.4 899.4 L1015.4 898.8" fill="none" stroke="#03035e" stroke-width="1.92" />
<path d="M1007.4 903.8 L1015.4 903.2" fill="none" stroke="#03035e" stroke-width="1.92" />
<path d="M1007.4 941 L1015.4 940.4" fill="none" stroke="#03035e" stroke-width="1.92" />
<path d="M516.5 897.5 L529.2 897.9" fill="none" stroke="#03035e" stroke-width="2.07" />
<path d="M516.5 972.5 L529.2 972.9" fill="none" stroke="#03035e" stroke-width="2.07" />
<path d="M516.5 1008.8 L529.2 1009.2" fill="none" stroke="#03035e" stroke-width="2.07" />
<path d="M517.9 713.3 L554 700.6 L570.6 695.7 L577.4 688.9 L580 683.8 L582.6 676.8 L587 667.1 L591.4 659.2 L596.7 651.3 L600 647.1 L603.6 645.9 L605.7 648.3 L606.4 645.2 L609 639.2 L614.1 636.4 L618 638.7 L618.7 634.3 L623.9 632.3 L629.2 635.3 L632.7 639.9 L634 642.9 L631 643.9 L634.5 636.4 L641.5 628.5 L647.7 621.4 L650.3 620.3 L653.2 623.2 L648.6 633.7 L643.3 643.4 L637.1 653.9 L631 667.1 L624.8 679.4 L621.3 682.9 L621.3 682.9 L629.2 677.7 L636.2 667.1 L641.5 662.7 L648.6 660.1 L655.6 661 L657.6 664.7 L655.6 669.8 L649.4 675 L644.2 677.7 L640.6 679.6 L636.2 686.5 L631 691.7 L622.2 700 L609.7 709.4 L586.2 721.1 L528.6 751.4 L517.9 756.2 Z" fill="#fefefe" stroke="none" stroke-width="0.1" />
<path d="M517.9 713.3 C523.9 711.2 545.2 703.5 554 700.6 C562.8 697.7 566.7 697.7 570.6 695.7 C574.5 693.8 575.9 690.8 577.4 688.9 C579 686.9 579.1 685.8 580 683.8 C580.9 681.8 581.5 679.6 582.6 676.8 C583.8 674 585.6 670.1 587 667.1 C588.5 664.2 589.8 661.9 591.4 659.2 C593 656.6 595.3 653.3 596.7 651.3 C598.1 649.3 598.9 648 600 647.1 C601.2 646.2 602.6 645.7 603.6 645.9 C604.5 646.1 605.3 647.9 605.7 648.3" fill="none" stroke="#03035e" stroke-width="2.22" />
<path d="M606.4 645.2 C606.8 644.2 607.7 640.6 609 639.2 C610.3 637.7 612.6 636.5 614.1 636.4 C615.6 636.3 617.3 638.3 618 638.7" fill="none" stroke="#03035e" stroke-width="2.22" />
<path d="M618.7 634.3 C619.6 633.9 622.2 632.1 623.9 632.3 C625.7 632.5 627.8 634.1 629.2 635.3 C630.7 636.6 631.9 638.6 632.7 639.9 C633.5 641.1 634.3 642.2 634 642.9 C633.7 643.5 631.5 643.7 631 643.9" fill="none" stroke="#03035e" stroke-width="2.22" />
<path d="M634.5 636.4 C635.7 635 639.3 630.9 641.5 628.5 C643.7 626 646.2 622.8 647.7 621.4 C649.1 620.1 649.4 620 650.3 620.3 C651.2 620.6 653.5 620.9 653.2 623.2 C652.9 625.4 650.2 630.4 648.6 633.7 C646.9 637.1 645.2 640 643.3 643.4 C641.4 646.8 639.2 650 637.1 653.9 C635.1 657.9 633 662.9 631 667.1 C628.9 671.4 626.4 676.8 624.8 679.4 C623.2 682.1 621.9 682.4 621.3 682.9" fill="none" stroke="#03035e" stroke-width="2.22" />
<path d="M621.3 682.9 C622.6 682.1 626.7 680.3 629.2 677.7 C631.7 675 634.2 669.6 636.2 667.1 C638.3 664.6 639.5 663.9 641.5 662.7 C643.6 661.6 646.2 660.4 648.6 660.1 C650.9 659.8 654.1 660.2 655.6 661 C657.1 661.7 657.6 663.2 657.6 664.7 C657.6 666.1 656.9 668 655.6 669.8 C654.2 671.5 651.3 673.7 649.4 675 C647.5 676.4 645.6 676.9 644.2 677.7 C642.7 678.4 642 678.1 640.6 679.6 C639.3 681.1 637.9 684.4 636.2 686.5 C634.6 688.5 633.3 689.5 631 691.7 C628.6 694 625.7 697.1 622.2 700 C618.6 702.9 615.7 705.9 609.7 709.4 C603.7 712.9 599.7 714.1 586.2 721.1 C572.7 728.1 538.2 746.3 528.6 751.4" fill="none" stroke="#03035e" stroke-width="2.22" />
<path d="M601.5 657.5 C602.3 656.4 604.8 653.4 606.4 651.3 C607.9 649.3 609.5 647.1 610.8 645.2 C612.1 643.2 613.5 640.5 614.1 639.5" fill="none" stroke="#03035e" stroke-width="2.22" />
<path d="M613.4 660.1 C614.4 658.8 617.5 654.5 619.6 652.2 C621.6 649.8 623.8 647.9 625.7 646 C627.6 644.2 630 641.8 630.8 640.9" fill="none" stroke="#03035e" stroke-width="2.22" />
<path d="M589.7 662.7 C590.4 661.7 592.7 658.5 594.1 656.6 C595.4 654.6 597 652 597.6 651.1" fill="none" stroke="#03035e" stroke-width="1.92" />
<ellipse cx="651.7" cy="663.8" rx="3" ry="1.7" fill="none" stroke-width="1.92" transform="rotate(-18 651.7 663.8)"/>
<ellipse cx="649.6" cy="622.5" rx="1.8" ry="1.3" fill="none" stroke-width="1.63" transform="rotate(-40 649.6 622.5)"/>
<path d="M639.8 672 L641.5 674 L644.6 673.5" fill="none" stroke="#03035e" stroke-width="2.37" />
<ellipse cx="638.2" cy="653.9" rx="1.6" ry="2.8" fill="none" stroke-width="1.63" transform="rotate(22 638.2 653.9)"/>
<path d="M630.1 642.7 L633.6 643.4" fill="none" stroke="#03035e" stroke-width="2.07" />
<path d="M961.6 735.7 L895.2 712.3 L887.4 705.5 L881.6 693.8 L873.8 678.1 L867.9 667.4 L864 662.5 L858.1 658.6 L853.2 655.1 L849.3 656.1 L842.5 649.8 L836.6 651.2 L833.1 656.6 L824.9 650.8 L815.2 638.3 L811.8 638.7 L811.2 642.2 L819.1 657 L826.9 672.7 L822 675.4 L815.2 675.2 L807.7 678.9 L806.6 682 L813.2 689.1 L822 693.4 L828.8 701.6 L838.6 715.2 L854.2 727 L936.2 767 Z" fill="#fefefe" stroke="none" stroke-width="0.1" />
<path d="M961.6 735.7 C950.6 731.8 907.6 717.4 895.2 712.3 C882.9 707.3 889.7 708.6 887.4 705.5 C885.1 702.4 883.8 698.3 881.6 693.8 C879.3 689.2 876 682.5 873.8 678.1 C871.5 673.7 869.5 670 867.9 667.4 C866.3 664.8 865.6 664 864 662.5 C862.4 661 859.9 659.8 858.1 658.6 C856.3 657.4 854.7 655.5 853.2 655.1 C851.8 654.7 851.1 656.9 849.3 656.1 C847.5 655.2 844.6 650.6 842.5 649.8 C840.4 649 838.2 650 836.6 651.2 C835.1 652.3 835.1 656.7 833.1 656.6 C831.2 656.6 827.9 653.8 824.9 650.8 C821.9 647.7 816.8 640.4 815.2 638.3" fill="none" stroke="#03035e" stroke-width="2.37" />
<path d="M815.2 638.3 C814.6 638.3 812.5 638 811.8 638.7 C811.2 639.3 810 639.1 811.2 642.2 C812.5 645.2 816.5 652 819.1 657 C821.7 662.1 825.6 670.1 826.9 672.7" fill="none" stroke="#03035e" stroke-width="2.37" />
<path d="M826.9 672.7 C826.1 673.1 823.9 675 822 675.4 C820 675.8 817.5 674.6 815.2 675.2 C812.8 675.8 809.2 677.8 807.7 678.9 C806.3 680 805.7 680.3 806.6 682 C807.5 683.7 810.6 687.2 813.2 689.1 C815.8 691 819.4 691.3 822 693.4 C824.6 695.4 826.1 697.9 828.8 701.6 C831.6 705.2 834.4 711 838.6 715.2 C842.8 719.5 837.9 718.3 854.2 727 C870.5 735.6 922.6 760.3 936.2 767" fill="none" stroke="#03035e" stroke-width="2.37" />
<path d="M826.9 672.7 C827.9 674.4 830.1 678.7 832.7 683 C835.4 687.3 841.2 696 842.9 698.6" fill="none" stroke="#03035e" stroke-width="2.22" />
<path d="M819.1 657 C820.7 660.5 825.6 672 828.8 678.1 C832.1 684.2 837 691.1 838.6 693.8" fill="none" stroke="#03035e" stroke-width="2.07" />
<path d="M833.7 657.6 C835.2 659.2 839.8 664.4 842.5 667.4 C845.2 670.4 848.7 674.4 849.9 675.8" fill="none" stroke="#03035e" stroke-width="2.22" />
<path d="M849.3 656.6 C850.6 658.1 855 662.6 857.1 665.4 C859.3 668.2 861.5 672.1 862.4 673.4" fill="none" stroke="#03035e" stroke-width="2.07" />
<path d="M859.1 660.9 C860 662 862.8 665.2 864.4 667.4 C865.9 669.5 867.6 672.8 868.3 673.8" fill="none" stroke="#03035e" stroke-width="2.07" />
<ellipse cx="810.9" cy="680.5" rx="4" ry="2.6" fill="none" stroke-width="2.07" transform="rotate(20 810.9 680.5)"/>
<ellipse cx="813.6" cy="639.8" rx="2.6" ry="1.8" fill="none" stroke-width="1.78" transform="rotate(45 813.6 639.8)"/>
<ellipse cx="821.4" cy="690.2" rx="2.2" ry="1.4" fill="#03035e" stroke-width="1.92" transform="rotate(30 821.4 690.2)"/>
<path d="M831.8 656.6 L833.1 658.6" fill="none" stroke="#03035e" stroke-width="2.37" />
</g>
<rect x="16.2" y="25.8" width="479.3" height="91.7" fill="#03035e" stroke="none"/>
<text x="39.3" y="68.7" textLength="406.7" lengthAdjust="spacingAndGlyphs">1. Clean the wall and make sure there is no</text>
<text x="39.3" y="96.2" textLength="170.2" lengthAdjust="spacingAndGlyphs">damp on the wall.</text>
<rect x="525.8" y="24.2" width="481.4" height="203.1" fill="#03035e" stroke="none"/>
<text x="542.5" y="67" textLength="421" lengthAdjust="spacingAndGlyphs">2. Before applying silicone, lay the glass painted</text>
<text x="542.5" y="93.8" textLength="353.5" lengthAdjust="spacingAndGlyphs">side up. After applying the silicone, stick</text>
<text x="542.5" y="120.6" textLength="450.5" lengthAdjust="spacingAndGlyphs">double-sided tapes on the gaps. While applying the</text>
<text x="542.5" y="147.4" textLength="425.5" lengthAdjust="spacingAndGlyphs">silicone, do not get too close tothe edges so that</text>
<text x="542.5" y="174.2" textLength="423.5" lengthAdjust="spacingAndGlyphs">the silicones do not overflow when you stick the</text>
<rect x="14.2" y="542.4" width="485.6" height="98" fill="#03035e" stroke="none"/>
<text x="28.3" y="584" textLength="454.2" lengthAdjust="spacingAndGlyphs">3. Remove the papers of the double-sided tapes and</text>
<text x="28.3" y="612.4" textLength="227.7" lengthAdjust="spacingAndGlyphs">stick the glass on the wall.</text>
<rect x="529.2" y="873.4" width="478.2" height="140.3" fill="#03035e" stroke="none"/>
<text x="544.3" y="914.6" textLength="408.7" lengthAdjust="spacingAndGlyphs">4. After sticking the glass on the wall, press the</text>
<text x="544.3" y="941.2" textLength="438.7" lengthAdjust="spacingAndGlyphs">entire surface with your hands and make sure that</text>
<text x="544.3" y="967.6" textLength="132.7" lengthAdjust="spacingAndGlyphs">it adheres well.</text>
<rect x="7.5" y="7.3" width="498.0" height="495.9" stroke-width="2.7" stroke-linejoin="miter"/>
<rect x="517.5" y="7.5" width="498.1" height="495.4" stroke-width="2.7" stroke-linejoin="miter"/>
<rect x="7.5" y="520.6" width="498.1" height="491.69999999999993" stroke-width="2.7" stroke-linejoin="miter"/>
<rect x="516.8" y="520.6" width="498.80000000000007" height="492.29999999999995" stroke-width="2.7" stroke-linejoin="miter"/>
</g>
</svg>
</body></html>
